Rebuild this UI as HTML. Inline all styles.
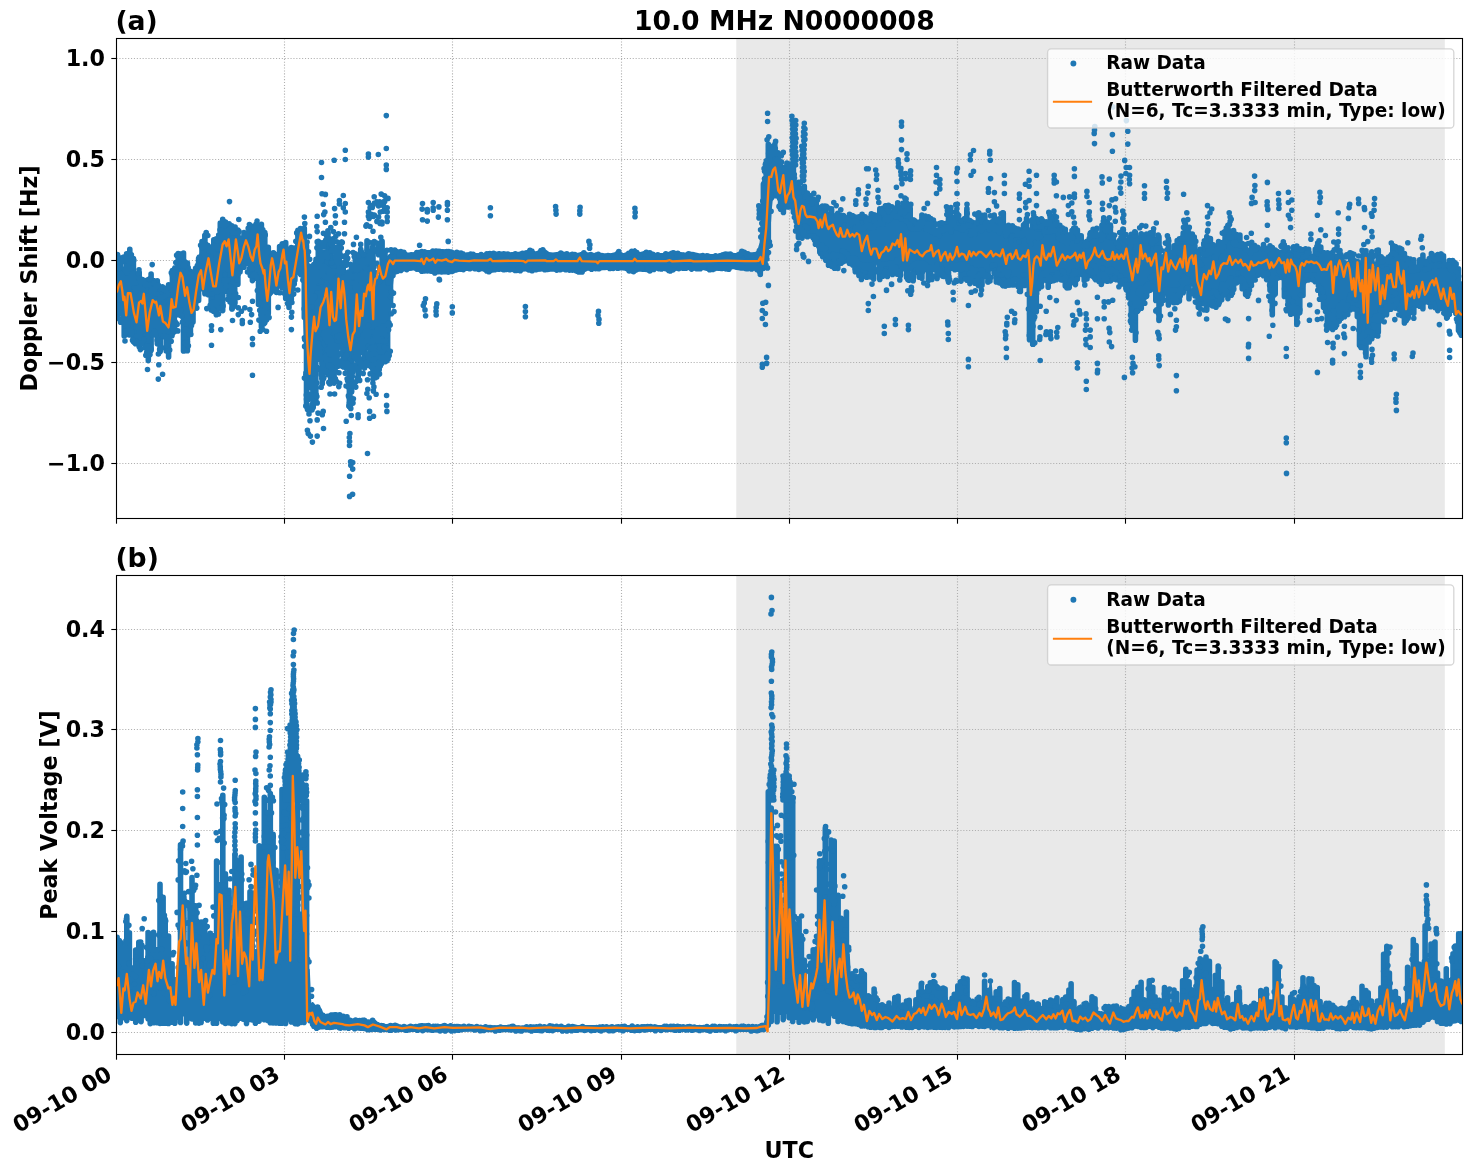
<!DOCTYPE html>
<html lang="en"><head><meta charset="utf-8"><title>10.0 MHz N0000008</title>
<style>
html,body{margin:0;padding:0;background:#fff;}
body{width:1472px;height:1172px;overflow:hidden;font-family:"DejaVu Sans","Liberation Sans",sans-serif;}
svg{display:block;}
svg text{font-family:"DejaVu Sans","Liberation Sans",sans-serif;font-weight:bold;}
.g{stroke:#b0b0b0;stroke-width:1.1;stroke-dasharray:1.1 1.8;fill:none;}
.t{stroke:#000;stroke-width:1.1;fill:none;}
</style></head><body>
<svg width="1472" height="1172" viewBox="0 0 1472 1172" font-family="DejaVu Sans, Liberation Sans, sans-serif" font-weight="bold" fill="#000">
<defs><clipPath id="c1"><rect x="116.5" y="38.5" width="1346.0" height="480.0"/></clipPath><clipPath id="c2"><rect x="116.5" y="575.5" width="1346.0" height="479.0"/></clipPath></defs>
<rect width="1472" height="1172" fill="#fff"/>
<rect x="116.5" y="38.5" width="1346.0" height="480.0" fill="#fff"/>
<rect x="736.3" y="38.5" width="708.5" height="480.0" fill="#d3d3d3" fill-opacity="0.5"/>
<line x1="284.50" y1="38.5" x2="284.50" y2="518.5" class="g"/>
<line x1="452.50" y1="38.5" x2="452.50" y2="518.5" class="g"/>
<line x1="621.50" y1="38.5" x2="621.50" y2="518.5" class="g"/>
<line x1="789.50" y1="38.5" x2="789.50" y2="518.5" class="g"/>
<line x1="957.50" y1="38.5" x2="957.50" y2="518.5" class="g"/>
<line x1="1125.50" y1="38.5" x2="1125.50" y2="518.5" class="g"/>
<line x1="1294.50" y1="38.5" x2="1294.50" y2="518.5" class="g"/>
<line x1="116.5" y1="58.50" x2="1462.5" y2="58.50" class="g"/>
<line x1="116.5" y1="159.50" x2="1462.5" y2="159.50" class="g"/>
<line x1="116.5" y1="260.50" x2="1462.5" y2="260.50" class="g"/>
<line x1="116.5" y1="362.50" x2="1462.5" y2="362.50" class="g"/>
<line x1="116.5" y1="463.50" x2="1462.5" y2="463.50" class="g"/>
<g clip-path="url(#c1)"><path d="M116.8 271.1L118.8 270.7L120.8 270.9L122.8 272.8L124.8 273.6L126.8 272.9L128.8 270.7L130.8 270.7L132.8 272.6L134.8 291.7L136.8 291.2L138.8 290.8L140.8 292.1L142.8 292.8L144.8 297.4L146.8 301L148.8 297.9L150.8 292.8L152.8 292.8L154.8 294.1L156.8 298.7L158.8 301.6L160.8 303L162.8 302.4L164.8 302.9L166.8 303.7L168.8 300.6L170.8 288.9L172.8 283.3L174.8 281.9L176.8 274L178.8 269.6L180.8 267.1L182.8 273.1L184.8 279.3L186.8 282.6L188.8 286.9L190.8 291.3L192.8 285.1L194.8 279L196.8 273.9L198.8 267.1L200.8 253.5L202.8 250.4L204.8 246.7L206.8 246.5L208.8 251.3L210.8 256.1L212.8 258.3L214.8 257.7L216.8 256.9L218.8 247.9L220.8 243.7L222.8 241L224.8 235.8L226.8 238.1L228.8 239.7L230.8 242.4L232.8 247.2L234.8 246.1L236.8 241.9L238.8 243.7L240.8 245.6L242.8 241.6L244.8 237.8L246.8 236L248.8 235.5L250.8 237.8L252.8 239.5L254.8 237.9L256.8 237.1L258.8 242.7L260.8 247.1L262.8 250.8L264.8 256.2L266.8 262.7L268.8 268.8L270.8 262L272.8 261.3L274.8 262.8L276.8 263.3L278.8 258.1L280.8 255.2L282.8 254L284.8 254.9L286.8 257.3L288.8 260.5L290.8 263.9L292.8 259.1L294.8 252.6L296.8 242.2L298.8 238.5L300.8 238.9L302.8 240.9L304.8 269.6L306.8 296.3L308.8 306.5L310.8 310.1L312.8 303.7L314.8 297.1L316.8 292.4L318.8 289.1L320.8 286L322.8 281.7L324.8 277.9L326.8 278.1L328.8 278.8L330.8 282L332.8 284.6L334.8 285.5L336.8 285.8L338.8 285.7L340.8 284.6L342.8 282.5L344.8 286.6L346.8 299.2L348.8 306.7L350.8 314.2L352.8 305.2L354.8 297.8L356.8 295.5L358.8 293.1L360.8 290.8L362.8 288.3L364.8 285L366.8 281.8L368.8 280.3L370.8 281L372.8 282.9L374.8 284.5L376.8 282.1L378.8 281.7L380.8 281.4L382.8 281.2L384.8 281.7L386.8 282.7L388.8 283.3L390.8 270.1L392.8 258.4L394.8 249.7L396.8 250.9L398.8 251.3L400.8 251.3L402.8 251.4L404.8 252.4L406.8 253.4L408.8 253.8L410.8 253.8L412.8 253.8L414.8 253.1L416.8 252.5L418.8 251.9L420.8 251.6L422.8 251.3L424.8 251.3L426.8 251.3L428.8 251.3L430.8 251.3L432.8 250.9L434.8 250.4L436.8 249.9L438.8 249.6L440.8 249.9L442.8 250.1L444.8 250.4L446.8 250.8L448.8 251.3L450.8 251.8L452.8 252.1L454.8 252.1L456.8 252.1L458.8 252.1L460.8 252.9L462.8 253.6L464.8 254.4L466.8 254.5L468.8 254.3L470.8 254L472.8 253.9L474.8 254.1L476.8 254.4L478.8 254.6L480.8 254.5L482.8 254.2L484.8 254L486.8 253.7L488.8 253.4L490.8 253L492.8 253.1L494.8 253.3L496.8 253.5L498.8 253.7L500.8 253.8L502.8 253.8L504.8 253.8L506.8 253.8L508.8 253.8L510.8 253.8L512.8 253.8L514.8 253.8L516.8 253.6L518.8 253.4L520.8 253.2L522.8 253L524.8 252.4L526.8 251.4L528.8 250.4L530.8 249.8L532.8 251.1L534.8 252.4L536.8 252.4L538.8 251.4L540.8 250.4L542.8 249.7L544.8 250.3L546.8 251.7L548.8 253.2L550.8 254.1L552.8 253.8L554.8 253.5L556.8 253.2L558.8 252.9L560.8 252.7L562.8 252.7L564.8 253.2L566.8 253.7L568.8 254.2L570.8 254.2L572.8 254.2L574.8 254.2L576.8 254.2L578.8 253.8L580.8 253.1L582.8 252.6L584.8 253L586.8 253.4L588.8 253.8L590.8 254.2L592.8 254.2L594.8 254.2L596.8 254.2L598.8 254.2L600.8 254.3L602.8 254.5L604.8 254.7L606.8 254.9L608.8 254.9L610.8 254.4L612.8 253.9L614.8 253.4L616.8 252.1L618.8 251.1L620.8 253.1L622.8 254.1L624.8 253.9L626.8 253.6L628.8 253.3L630.8 251.9L632.8 250.5L634.8 249.2L636.8 251.2L638.8 253.2L640.8 253L642.8 252.6L644.8 252.2L646.8 251.8L648.8 252.1L650.8 252.7L652.8 253.3L654.8 253.9L656.8 254.2L658.8 254.2L660.8 254.2L662.8 254.2L664.8 253.8L666.8 253.4L668.8 253L670.8 252.6L672.8 252.5L674.8 252.5L676.8 252.6L678.8 253L680.8 253.4L682.8 253.8L684.8 254.2L686.8 254L688.8 253.8L690.8 253.6L692.8 253.4L694.8 253.6L696.8 254L698.8 254.4L700.8 254.8L702.8 255.1L704.8 255.1L706.8 255.1L708.8 255.1L710.8 255.1L712.8 255.1L714.8 255.1L716.8 255.1L718.8 255.1L720.8 254.7L722.8 254.3L724.8 253.9L726.8 253.5L728.8 253.5L730.8 253.7L732.8 253.9L734.8 254.1L736.8 253.9L738.8 252.8L740.8 251.7L742.8 250.6L744.8 250.7L746.8 252.3L748.8 253.4L750.8 253.4L752.8 253.4L754.8 253.4L756.8 252.9L758.8 249.6L760.8 242.7L762.8 206.8L764.8 190.3L766.8 184.4L768.8 176.6L770.8 167.4L772.8 160.4L774.8 158.2L776.8 162.2L778.8 167L780.8 165.1L782.8 166.6L784.8 169.4L786.8 172.6L788.8 173.6L790.8 175.3L792.8 178.4L794.8 185.1L796.8 192.8L798.8 195.2L800.8 196.3L802.8 196.8L804.8 197.1L806.8 198.6L808.8 201.9L810.8 205.8L812.8 208.8L814.8 209.4L816.8 210.8L818.8 212.5L820.8 214.5L822.8 216.1L824.8 217.5L826.8 219.5L828.8 221.6L830.8 223.2L832.8 223.5L834.8 223.8L836.8 224.3L838.8 225.3L840.8 225.9L842.8 225.2L844.8 224.8L846.8 224.5L848.8 225.5L850.8 227L852.8 228.3L854.8 229.1L856.8 229.9L858.8 229.9L860.8 229.6L862.8 229.3L864.8 228.4L866.8 227.5L868.8 227.4L870.8 228.1L872.8 227.8L874.8 226.8L876.8 226L878.8 226.3L880.8 226.4L882.8 225.1L884.8 223.6L886.8 223.2L888.8 222.9L890.8 222.4L892.8 222L894.8 221.7L896.8 220.5L898.8 219.7L900.8 219.4L902.8 220.2L904.8 220.9L906.8 222.3L908.8 225.1L910.8 228.3L912.8 231.4L914.8 232.1L916.8 231.3L918.8 230.8L920.8 229.5L922.8 228.3L924.8 228.5L926.8 231.1L928.8 233.2L930.8 233.9L932.8 234.6L934.8 235L936.8 235.4L938.8 236.3L940.8 237.4L942.8 235.3L944.8 232.4L946.8 228.9L948.8 228.6L950.8 232.5L952.8 232.6L954.8 230.9L956.8 227.8L958.8 227L960.8 231.3L962.8 231.3L964.8 229L966.8 227.2L968.8 231.8L970.8 234.8L972.8 234.6L974.8 234.4L976.8 233.2L978.8 231.8L980.8 231.8L982.8 231.3L984.8 230.9L986.8 231.4L988.8 232.1L990.8 231.4L992.8 230.5L994.8 230.5L996.8 231.8L998.8 233.1L1000.8 231.2L1002.8 230.9L1004.8 235.4L1006.8 239.4L1008.8 239.9L1010.8 240.3L1012.8 240.6L1014.8 240.9L1016.8 241.9L1018.8 243.3L1020.8 244.5L1022.8 242.6L1024.8 236.6L1026.8 233.8L1028.8 246.9L1030.8 247.6L1032.8 247.6L1034.8 248.3L1036.8 239.5L1038.8 239.7L1040.8 237L1042.8 234.3L1044.8 234.6L1046.8 234.9L1048.8 234.3L1050.8 232.7L1052.8 231.1L1054.8 233.4L1056.8 236.2L1058.8 238.4L1060.8 239.5L1062.8 240.7L1064.8 242.7L1066.8 245L1068.8 244.6L1070.8 241.7L1072.8 240.2L1074.8 241.4L1076.8 242.3L1078.8 243.4L1080.8 244.6L1082.8 246L1084.8 246.3L1086.8 245.6L1088.8 244.3L1090.8 241.8L1092.8 240.4L1094.8 240.7L1096.8 243.8L1098.8 243.7L1100.8 240.9L1102.8 238.2L1104.8 236.9L1106.8 236.2L1108.8 237.3L1110.8 239L1112.8 240.5L1114.8 242.3L1116.8 245.4L1118.8 246L1120.8 243.8L1122.8 241.6L1124.8 245.1L1126.8 249.1L1128.8 252.3L1130.8 259.4L1132.8 261.2L1134.8 260.3L1136.8 253.8L1138.8 249.1L1140.8 248.5L1142.8 249.1L1144.8 250.2L1146.8 249.6L1148.8 248.6L1150.8 246.5L1152.8 243.3L1154.8 242.6L1156.8 251.6L1158.8 258.2L1160.8 259.8L1162.8 260.2L1164.8 257.3L1166.8 254.7L1168.8 256.5L1170.8 258.6L1172.8 259.8L1174.8 257.9L1176.8 255.9L1178.8 252.9L1180.8 249.5L1182.8 244L1184.8 239.6L1186.8 241L1188.8 242.8L1190.8 245.1L1192.8 247.3L1194.8 252.8L1196.8 258.4L1198.8 262.8L1200.8 265.2L1202.8 262.1L1204.8 258.2L1206.8 255L1208.8 254.6L1210.8 255L1212.8 257L1214.8 259.1L1216.8 261.3L1218.8 256.6L1220.8 251.9L1222.8 248.7L1224.8 247.5L1226.8 245.7L1228.8 241L1230.8 237.7L1232.8 243.1L1234.8 245.5L1236.8 245.2L1238.8 245.7L1240.8 246.7L1242.8 249.9L1244.8 253.1L1246.8 255.3L1248.8 255.6L1250.8 254L1252.8 253L1254.8 252L1256.8 251.4L1258.8 251.6L1260.8 251.7L1262.8 251.4L1264.8 251L1266.8 251.4L1268.8 253.5L1270.8 257.8L1272.8 262.1L1274.8 262.6L1276.8 254.9L1278.8 253.1L1280.8 251.5L1282.8 252.3L1284.8 257L1286.8 262.3L1288.8 263L1290.8 262.9L1292.8 263.2L1294.8 265.2L1296.8 265.5L1298.8 265L1300.8 262.3L1302.8 259.2L1304.8 256L1306.8 256.1L1308.8 256L1310.8 256L1312.8 256.5L1314.8 255.6L1316.8 253.8L1318.8 256.3L1320.8 259L1322.8 261.6L1324.8 265.2L1326.8 270.4L1328.8 270L1330.8 269.6L1332.8 269.6L1334.8 268L1336.8 266.1L1338.8 266L1340.8 266L1342.8 267.8L1344.8 267.8L1346.8 267.4L1348.8 265.9L1350.8 265.1L1352.8 265.4L1354.8 265.8L1356.8 268.7L1358.8 271.7L1360.8 277.8L1362.8 277.6L1364.8 277.6L1366.8 275.5L1368.8 274.4L1370.8 274.2L1372.8 273L1374.8 271.9L1376.8 271L1378.8 271.1L1380.8 271.9L1382.8 272.8L1384.8 272.1L1386.8 269.3L1388.8 265.9L1390.8 262.2L1392.8 260.6L1394.8 261.3L1396.8 262.1L1398.8 263.3L1400.8 264.6L1402.8 266.8L1404.8 270.5L1406.8 272L1408.8 272.1L1410.8 272.4L1412.8 272.6L1414.8 273.1L1416.8 273.5L1418.8 271.8L1420.8 266.5L1422.8 267L1424.8 270.3L1426.8 272.9L1428.8 268.5L1430.8 266.1L1432.8 267L1434.8 267.9L1436.8 268L1438.8 268.2L1440.8 268.4L1442.8 269.3L1444.8 271L1446.8 272.9L1448.8 274.6L1450.8 274.7L1452.8 274.7L1454.8 276.1L1456.8 278.2L1458.8 284.9L1460.8 291.3L1460.8 325.6L1458.8 318.3L1456.8 308.5L1454.8 306.2L1452.8 304.4L1450.8 304.9L1448.8 305.4L1446.8 303.5L1444.8 301.6L1442.8 299.8L1440.8 298.5L1438.8 297.5L1436.8 296.5L1434.8 296L1432.8 295.2L1430.8 294.7L1428.8 295.5L1426.8 297.1L1424.8 296.2L1422.8 295.3L1420.8 295.5L1418.8 297.7L1416.8 299.3L1414.8 300.4L1412.8 301.4L1410.8 301.8L1408.8 302.3L1406.8 305.2L1404.8 306.3L1402.8 301.4L1400.8 297.3L1398.8 295.5L1396.8 293.8L1394.8 292.7L1392.8 292L1390.8 292.2L1388.8 297.2L1386.8 301.8L1384.8 304.9L1382.8 307.2L1380.8 309.5L1378.8 311.7L1376.8 312.7L1374.8 314.1L1372.8 315.9L1370.8 317.9L1368.8 319.6L1366.8 324.8L1364.8 332.5L1362.8 332L1360.8 330.9L1358.8 312.6L1356.8 302.8L1354.8 295.7L1352.8 295.5L1350.8 295.4L1348.8 297.3L1346.8 301L1344.8 301.8L1342.8 301.8L1340.8 302.3L1338.8 307.4L1336.8 308.2L1334.8 309.4L1332.8 309.6L1330.8 309.1L1328.8 309.7L1326.8 310.4L1324.8 297.7L1322.8 291.3L1320.8 287.8L1318.8 283.8L1316.8 277.2L1314.8 274.2L1312.8 273.7L1310.8 272.6L1308.8 273.2L1306.8 273.9L1304.8 274.6L1302.8 284.1L1300.8 293.5L1298.8 302.2L1296.8 304.9L1294.8 305.5L1292.8 300.6L1290.8 298.5L1288.8 297.6L1286.8 296.8L1284.8 283.9L1282.8 272L1280.8 267.9L1278.8 270.6L1276.8 273.8L1274.8 296.6L1272.8 297.6L1270.8 287.5L1268.8 276.4L1266.8 271.2L1264.8 269.1L1262.8 268.3L1260.8 267.8L1258.8 268.6L1256.8 269.4L1254.8 272L1252.8 275.9L1250.8 280L1248.8 284.4L1246.8 283.5L1244.8 282.2L1242.8 276.4L1240.8 270.7L1238.8 270.7L1236.8 271.8L1234.8 274.9L1232.8 276.9L1230.8 276.2L1228.8 278.8L1226.8 282L1224.8 283.6L1222.8 283.4L1220.8 285.4L1218.8 289L1216.8 292.6L1214.8 291.4L1212.8 290.1L1210.8 288.9L1208.8 291.2L1206.8 295.8L1204.8 294.6L1202.8 293.7L1200.8 296.1L1198.8 294.7L1196.8 290.5L1194.8 284.5L1192.8 278.4L1190.8 279.3L1188.8 280.2L1186.8 277.8L1184.8 272.2L1182.8 276.8L1180.8 283.6L1178.8 285.8L1176.8 287.9L1174.8 288.7L1172.8 289.4L1170.8 290L1168.8 290.1L1166.8 287.5L1164.8 287.7L1162.8 290.8L1160.8 299.7L1158.8 305.1L1156.8 296.4L1154.8 277L1152.8 273.6L1150.8 277.3L1148.8 280.6L1146.8 282.4L1144.8 283.9L1142.8 285.4L1140.8 288.4L1138.8 290.3L1136.8 300.7L1134.8 316.1L1132.8 315.5L1130.8 307.2L1128.8 284.1L1126.8 278.4L1124.8 274.4L1122.8 270.8L1120.8 272.3L1118.8 273.7L1116.8 272.3L1114.8 268.3L1112.8 268L1110.8 268.5L1108.8 268.5L1106.8 267.5L1104.8 267.1L1102.8 268.3L1100.8 270.5L1098.8 272.3L1096.8 269.8L1094.8 266.7L1092.8 265.3L1090.8 264.5L1088.8 266.8L1086.8 269L1084.8 269.9L1082.8 270L1080.8 269.7L1078.8 269.9L1076.8 270.4L1074.8 270.7L1072.8 270.3L1070.8 270.8L1068.8 274.6L1066.8 276.4L1064.8 272.5L1062.8 269.3L1060.8 268.4L1058.8 267.6L1056.8 266.9L1054.8 266.4L1052.8 266L1050.8 268.1L1048.8 270.2L1046.8 270.7L1044.8 270L1042.8 269.3L1040.8 271L1038.8 272.9L1036.8 278.6L1034.8 311.3L1032.8 311L1030.8 309.8L1028.8 306.7L1026.8 268.7L1024.8 269.9L1022.8 274.2L1020.8 277L1018.8 275L1016.8 272.3L1014.8 270.7L1012.8 271L1010.8 271.3L1008.8 271.6L1006.8 271.8L1004.8 270.5L1002.8 268.1L1000.8 267.3L998.8 267.1L996.8 265.5L994.8 264L992.8 264L990.8 265.2L988.8 266.3L986.8 265.3L984.8 265.3L982.8 266.9L980.8 268.3L978.8 268.3L976.8 268.8L974.8 269.1L972.8 268.6L970.8 268L968.8 266.3L966.8 264L964.8 264L962.8 264.4L960.8 264.9L958.8 263.7L956.8 264.5L954.8 266L952.8 266.9L950.8 266.5L948.8 264.6L946.8 264.3L944.8 265.2L942.8 265.8L940.8 265.9L938.8 264.9L936.8 264.6L934.8 265.3L932.8 266L930.8 265.8L928.8 265.6L926.8 264.6L924.8 263L922.8 262.3L920.8 262.1L918.8 262.5L916.8 262.7L914.8 263.7L912.8 265.5L910.8 265.7L908.8 263.3L906.8 261L904.8 259.9L902.8 259L900.8 257.9L898.8 256.9L896.8 256.1L894.8 256.7L892.8 257L890.8 257.7L888.8 258.7L886.8 259.7L884.8 260.6L882.8 262L880.8 262.9L878.8 262L876.8 261L874.8 261.8L872.8 263.3L870.8 264L868.8 262.2L866.8 261.2L864.8 261.4L862.8 261.5L860.8 261.3L858.8 260.7L856.8 260.1L854.8 257.9L852.8 255.5L850.8 253.3L848.8 251.1L846.8 249.5L844.8 250L842.8 250.6L840.8 252.2L838.8 253.8L836.8 255.2L834.8 255.1L832.8 254.3L830.8 253.5L828.8 251.2L826.8 248.3L824.8 245.6L822.8 243.9L820.8 241.6L818.8 238.3L816.8 235.2L814.8 232.1L812.8 231.5L810.8 230L808.8 228L806.8 225.9L804.8 224.5L802.8 224.7L800.8 224.9L798.8 225.4L796.8 225.7L794.8 215.1L792.8 202.2L790.8 197.9L788.8 197L786.8 197.6L784.8 197.9L782.8 198.8L780.8 197.4L778.8 196.6L776.8 191.5L774.8 187.5L772.8 188.3L770.8 207.5L768.8 238.7L766.8 242.4L764.8 244.8L762.8 251.4L760.8 265.2L758.8 273.5L756.8 269.7L754.8 269.4L752.8 269.1L750.8 268.9L748.8 268.9L746.8 269.1L744.8 269.3L742.8 269.5L740.8 269.5L738.8 269.1L736.8 268.7L734.8 268.3L732.8 267.9L730.8 268.6L728.8 269.4L726.8 270.1L724.8 270.2L722.8 269.7L720.8 269.2L718.8 268.8L716.8 269.2L714.8 269.6L712.8 270L710.8 270.4L708.8 270.1L706.8 269.7L704.8 269.3L702.8 268.9L700.8 268.9L698.8 269.1L696.8 269.3L694.8 269.5L692.8 269.5L690.8 269.3L688.8 269.1L686.8 268.9L684.8 268.8L682.8 269L680.8 269.2L678.8 269.4L676.8 269.6L674.8 270L672.8 270.5L670.8 271L668.8 271.1L666.8 270.6L664.8 270.1L662.8 269.6L660.8 269.1L658.8 268.9L656.8 269.4L654.8 269.9L652.8 270.4L650.8 270.9L648.8 271.3L646.8 271.1L644.8 270.9L642.8 270.8L640.8 270.6L638.8 270.5L636.8 271.4L634.8 272.2L632.8 272.9L630.8 272L628.8 271.2L626.8 270.3L624.8 269.5L622.8 269.3L620.8 269.1L618.8 268.9L616.8 268.7L614.8 268.7L612.8 268.7L610.8 268.7L608.8 268.7L606.8 268.8L604.8 269L602.8 269.1L600.8 269.3L598.8 269.4L596.8 269.6L594.8 269.6L592.8 269.6L590.8 269.6L588.8 269.6L586.8 269.6L584.8 270.6L582.8 272.2L580.8 272.7L578.8 272L576.8 271.3L574.8 270.7L572.8 270.5L570.8 270.5L568.8 270.5L566.8 270.5L564.8 270.5L562.8 270.5L560.8 270.5L558.8 270.5L556.8 270.5L554.8 270.5L552.8 270.5L550.8 270.5L548.8 270.5L546.8 270.3L544.8 270.1L542.8 270.2L540.8 270.4L538.8 270.5L536.8 270.7L534.8 270.8L532.8 270.8L530.8 270.6L528.8 270.4L526.8 270.2L524.8 270.2L522.8 270.6L520.8 271L518.8 271.4L516.8 271.7L514.8 271.3L512.8 270.9L510.8 270.5L508.8 270.1L506.8 270L504.8 270L502.8 270L500.8 270L498.8 270L496.8 270L494.8 270.6L492.8 271.4L490.8 272.1L488.8 272.3L486.8 271.6L484.8 270.8L482.8 270.1L480.8 269.9L478.8 269.7L476.8 269.5L474.8 269.3L472.8 269.2L470.8 269.2L468.8 269.2L466.8 269.2L464.8 269.4L462.8 269.9L460.8 270.4L458.8 270.9L456.8 271.1L454.8 271.4L452.8 271.6L450.8 271.9L448.8 272.1L446.8 272.4L444.8 272.6L442.8 272.8L440.8 273L438.8 273.2L436.8 273.4L434.8 272.9L432.8 272.3L430.8 271.7L428.8 271.1L426.8 271.1L424.8 271.3L422.8 271.6L420.8 271.6L418.8 270.8L416.8 270.1L414.8 269.3L412.8 269.3L410.8 269.5L408.8 269.7L406.8 269.8L404.8 270L402.8 270.6L400.8 271.3L398.8 272.1L396.8 272.8L394.8 273.7L392.8 275.5L390.8 294.8L388.8 322.4L386.8 324L384.8 323.9L382.8 324.6L380.8 326.2L378.8 327.9L376.8 329.7L374.8 334.9L372.8 332L370.8 328L368.8 325.6L366.8 327.1L364.8 330.2L362.8 333.9L360.8 337L358.8 339.6L356.8 343.6L354.8 348.3L352.8 362.5L350.8 371L348.8 359.3L346.8 350.7L344.8 336L342.8 329L340.8 332.6L338.8 334.8L336.8 336L334.8 336.6L332.8 336.6L330.8 334.7L328.8 331.1L326.8 330.5L324.8 330.8L322.8 334.3L320.8 339L318.8 343L316.8 347.5L314.8 353.8L312.8 361.7L310.8 369.6L308.8 370.5L306.8 363.1L304.8 335.4L302.8 269.4L300.8 263.5L298.8 260.3L296.8 263.5L294.8 279.2L292.8 288.4L290.8 295.1L288.8 292.5L286.8 288.5L284.8 281.2L282.8 278.1L280.8 277.9L278.8 281.2L276.8 283.7L274.8 283L272.8 283.2L270.8 285.3L268.8 302.3L266.8 305.2L264.8 302.6L262.8 300L260.8 300.6L258.8 294.7L256.8 273.1L254.8 269.3L252.8 267.4L250.8 264.8L248.8 261.9L246.8 259.9L244.8 258.4L242.8 262.4L240.8 266.4L238.8 269.9L236.8 274.4L234.8 285.3L232.8 288L230.8 286.4L228.8 280.4L226.8 275.9L224.8 272.5L222.8 287.2L220.8 290.5L218.8 292.5L216.8 295.6L214.8 295.7L212.8 294.8L210.8 292.4L208.8 284.6L206.8 278.3L204.8 280.3L202.8 282.3L200.8 282.8L198.8 290.1L196.8 295.7L194.8 299.4L192.8 311.9L190.8 326.9L188.8 328.8L186.8 328.5L184.8 327.3L182.8 315L180.8 302L178.8 306.4L176.8 311.8L174.8 317.3L172.8 318.8L170.8 325.1L168.8 338.3L166.8 336.4L164.8 335.3L162.8 335.3L160.8 338.9L158.8 339.2L156.8 335.1L154.8 327.1L152.8 328.1L150.8 332L148.8 338.9L146.8 340.5L144.8 334.1L142.8 325.7L140.8 328L138.8 328.2L136.8 327.4L134.8 326.4L132.8 318.2L130.8 315L128.8 311.8L126.8 315L124.8 316.4L122.8 313.6L120.8 307L118.8 304.7L116.8 304.3Z" fill="#1f77b4" stroke="#1f77b4" stroke-width="2.4" stroke-linejoin="round"/>
<path d="M117.3 254.6V315.9M120.7 258.1V310.1M124.2 269.6V335.9M126.6 253.9V334.6M129.8 249.2V334.9M133.4 258.5V341.4M135.5 274.1V343.8M139.2 272.8V346.7M142.4 285.5V341.2M145 280.7V347.3M148.3 279.5V360.6M151.1 274V349.7M153.5 280.6V330.9M157.3 280.7V343.8M160.2 292V351.6M162.4 286.7V336.4M166.2 288.1V351M168.6 284.8V356.9M172.4 270.5V333.5M174.3 269.2V331.8M178.2 253.6V314.7M181.4 253.7V316M183.5 253V350.9M187.4 263V350.7M190.4 271.4V334.3M193 284.1V322.1M195.6 268.2V305.4M198.6 258.5V300.5M202 241.6V288M204.9 235.3V293.7M207.7 245.3V291.3M211.2 248.2V309.9M213.8 239.8V308.8M216.3 238.8V314.8M220.3 223.1V303.1M222.7 219.4V310.6M225.5 222V291.3M229.1 223.9V295.7M232 228.7V308.9M234.7 229.6V304.6M237.9 230.1V284.2M240.2 238V269.8M244 232.5V267.3M246.4 234.5V263.2M250.3 229.4V275.6M252.4 226.3V280.6M256 224.3V278.3M258.5 228.6V304.5M261.4 224.3V326.9M264.8 232.6V322.7M268.3 247.3V313.6M271 259.2V292.3M273.8 253.4V290.6M276.5 257.9V292.5M279.6 246.5V282.6M282.3 243.7V287.9M285.7 242.6V298.4M289 258.4V307.5M291.3 247.5V300M294.9 248V280.3M297.9 230.4V270M300.4 228.5V273.5M304.3 228.3V317.5M306.5 245.3V406M309.3 266.3V381.6M313.2 269.7V407.6M315.8 262.1V399.8M318.3 241.2V355.9M322.3 271.3V383.8M324.3 252.2V340.6M327.9 230.9V374.8M330.7 239.6V380M334.1 257.3V383.1M337 254.3V363.3M339.4 245V344.5M343.2 265.9V366.7M346.1 275.9V367.9M349.4 289.3V406.6M351.5 265.8V391.9M355.3 253.7V353M358.2 255.3V379.6M360.7 249.3V352M364.2 255.1V359.9M367 240.7V347.9M370.2 254.4V365M373 242.5V374.3M375.5 278.3V375.3M379.2 277.9V369.8M382.1 241.4V355.9M385 251.7V361.8M387.6 265.9V359.1M390.5 256.5V304.1M393.7 254.6V271.5M760.3 252.1V274.5M763.4 184.2V268.2M766.3 160.9V253.2M768.3 144.4V246.5M771.4 149.3V197.9M774.8 144.3V195.7M778 152.7V195.4M780.6 161.9V209.2M783.4 167.7V212.4M786.9 163.1V204.1M789.8 164.1V206.7M793.4 167.9V212.3M796.1 186.5V221.4M798.4 182.2V237.4M802.1 188.6V238.1M804.3 186.2V226.4M807.4 193.3V236.8M810.4 195.8V232.8M813.3 199V238M816.3 200.1V240.1M819.8 207.5V252.3M822.7 210.3V256.7M825.8 209.9V260.3M828.5 220.9V265.3M831.6 208.9V263.7M835.1 217.2V258M837.8 213.3V268.5M841.1 215.4V263.3M843.4 215.5V259.4M846.3 222.5V260.8M849.5 214.3V263.5M852.7 215.7V264.9M855.3 217V271.8M858.9 216.8V275.4M862.1 214.3V276.9M865.2 216.9V274.9M868.1 219.5V276.6M871.2 215.6V273.9M873.7 214.7V279.1M876.7 222.4V261.4M879.8 208.9V279.4M882.7 208.2V273.9M886.3 205.7V268.9M888.5 205.3V263.6M892.4 212.1V274.4M894.9 211.9V273.8M897.7 202.9V274.2M900.3 208.6V275.7M904.4 205V260.5M906.6 203.1V277.5M910.2 208.2V268.9M913.2 220V280.7M915.6 221.5V272.2M919.2 228V277.2M921.9 215.1V278.3M925.3 216V269M928.4 216.7V280.6M930.6 218.6V278.1M933.4 220.1V268.6M937.1 234.4V278.4M940 223.4V274.7M942.5 234.3V276.1M945.4 223.5V272.9M948.5 210.9V282.1M952.1 220.2V268.3M954.8 229.3V269.7M958.2 218.9V268.7M961 223.3V281.1M964 219V275.1M966.8 210.5V278.8M969.9 220.6V283.6M972.6 222.2V274.1M975.6 232.9V280M978.4 214.1V285.3M982 215.3V285.2M984.8 215.1V276.1M988 222.7V282M990.8 228.4V268.8M994.2 215V269.5M996.3 229.4V281.9M999.2 218.9V282.8M1003.3 213V285.7M1005.3 235.8V286M1008.5 225.4V285M1012.4 225.7V284.6M1014.4 227.7V275.3M1018.2 229V286.8M1020.4 231.6V291.4M1023.5 225.1V276.3M1026.5 218.6V285M1029.5 230.2V339.7M1032.7 224.5V344.2M1036.3 218.6V311.7M1038.6 225.5V288.8M1041.4 218.8V283.3M1044.3 224.3V277M1048.2 228V287.2M1050.2 216.9V277.2M1054.2 215.5V274.2M1056.3 222.7V279.7M1059.9 225.2V277.5M1062.3 227.8V280M1065.3 229.3V285.9M1069.2 235.1V287.6M1072.4 230.9V282.2M1075.4 228.1V284.6M1077.4 230.1V279M1081.2 235.7V272.8M1084.2 245.3V280.6M1087 241.3V279M1090.4 233V275.4M1093.1 229.3V276.5M1095.8 230.3V279.7M1099 238.2V281.4M1101.9 225.2V282.5M1105.3 222.6V272.9M1107.2 221.5V281.3M1110.4 225V281M1113.3 238.6V278.9M1116.3 243.4V279.8M1119.3 240.5V280.4M1122.9 229V275.3M1126.3 240.4V289.7M1128.6 241V297.7M1131.3 234.2V323M1135.4 232.6V340.2M1138.2 237.7V310.1M1141.3 233.8V308.3M1144 237.4V298.6M1146.5 234.1V296.2M1150.4 232.8V290.1M1153.1 231.9V287.8M1155.8 239.6V300.4M1159 236.8V320.5M1161.5 259.1V300.2M1165.3 254.1V292.2M1168.4 238.9V304.9M1170.5 252.9V301.8M1174.1 245.9V302.8M1177.2 240.5V302.5M1179.4 238.7V300.9M1183.2 233V292.7M1185.4 224.1V285.3M1189 239.6V298.7M1192.3 234.1V283.6M1194.9 245.8V293.7M1198.3 252.6V307.3M1200.8 259.9V303.9M1204 243.7V303.2M1206.8 236.6V310.1M1210.4 238.5V304.4M1212.9 252.9V293.1M1216 246.3V307.3M1218.6 241.6V304.6M1221.7 245.8V299.7M1225.1 233.8V289.9M1227.9 225.3V298.6M1231.3 231.3V295.3M1233.6 230.6V288.3M1236.5 234.6V283M1239.9 235V281.3M1242.2 243.5V288.7M1245.6 248.3V294.4M1249.2 255.4V287.2M1251.7 242.3V281.7M1254.4 245.2V277.8M1258.1 252.7V275.1M1261.2 249.1V274M1263.5 244.5V275.8M1267.1 248.9V277.7M1270 245.7V290.2M1272.3 247.5V314.8M1275.2 250V294.1M1278.7 253.8V277.6M1282.1 251.9V277.4M1284.4 246.1V296.4M1288.1 251.6V301.4M1290.7 256.3V314.3M1293.6 246.9V313.4M1296.8 246.1V324.5M1299.8 253.1V312.6M1303 249.8V295.5M1305.6 248.7V280.4M1308.6 249.2V280M1311.3 256.3V278.6M1315.3 249.3V281.7M1317.7 243.1V281.6M1320.8 247.1V294.5M1323.5 252.5V307.3M1327.3 258V327.9M1330.1 267.6V326.5M1332.7 252.2V329.4M1335.4 256.3V327.2M1339.3 250.7V321.1M1341.4 258.9V318.3M1344.5 264.7V316.7M1347.8 263.6V314.4M1350.5 253.3V309.8M1354.3 260.7V308.9M1357.3 262.9V316.4M1359.5 264.8V345.3M1363.3 252.9V346.5M1366 250.9V356.7M1369.2 258.3V341.9M1371.8 251.7V338.7M1375.3 269.9V335.1M1378.3 250V332.3M1381.4 257.7V316.8M1384.1 268V315M1386.5 264.3V314.8M1389.8 259.5V307.1M1392.8 245.5V304.4M1395.4 246.6V308.1M1398.7 248V304.6M1401.7 249.3V315.6M1404.4 253.5V322.9M1408.2 260.1V318.1M1410.3 259V311.6M1413.8 259.7V313.2M1416.9 268.5V305.2M1419.7 259.7V306.3M1422.9 255V308.7M1425.3 261.2V299.7M1429.3 258.6V302.7M1431.4 253.5V303.3M1434.9 256.3V307.6M1437.8 254.6V310.6M1441 254.1V304.5M1443.5 255.9V306.9M1446.7 266.9V318.1M1449.3 260.5V314.1M1452.7 260.6V306.7M1455.8 265.5V313.4M1458.5 268.7V330.6M1461.3 291V335.3" fill="none" stroke="#1f77b4" stroke-width="5.6" stroke-linecap="round"/>
<path d="M229.5 201.6h0M152.2 264.6h0M139 269.7h0M147.5 369.5h0M162.6 374.3h0M158.3 379.1h0M211.5 325.7h0M211.5 330.3h0M211.5 345.3h0M252.5 338.5h0M252.5 344.4h0M252.5 375.2h0M291.4 317.1h0M291.4 329.6h0M278.1 307.4h0M232.5 320.5h0M242.3 320.5h0M242.3 323.4h0M250.3 322.3h0M260.2 331.3h0M266.5 331.3h0M238.3 297.5h0M252.5 301.3h0M227.7 299.2h0M238.3 307.7h0M244.8 307.7h0M249.9 309.5h0M241.4 311.2h0M238.3 314.6h0M251.6 314.6h0M140.4 349.6h0M125 341h0M386.3 115.6h0M386.3 148.5h0M378.3 154.5h0M368.4 154h0M368.4 157.1h0M345.3 150.2h0M345.3 159.5h0M334.2 160.3h0M321.5 162.5h0M321.5 177.5h0M386.3 165.1h0M386.3 169.4h0M322 193.8h0M325.4 194.4h0M323.2 204.3h0M324.9 212h0M323.7 214.6h0M325.4 222.3h0M317.2 216.3h0M304.4 217.1h0M316.8 226.5h0M317.2 231.6h0M309.5 236.4h0M343.3 195.5h0M339.4 200.6h0M345.3 203.5h0M339.4 204h0M334.6 208.6h0M343.3 207.7h0M345.3 212h0M335.4 215.8h0M344.5 222.3h0M335.4 223.1h0M333.4 231.6h0M338.5 233.7h0M344.5 233.7h0M356.4 237.3h0M353.5 244.4h0M360.7 244.4h0M381.2 194.1h0M384.6 195.8h0M388 198.4h0M368.4 202.6h0M376.9 201.8h0M383.7 202.6h0M370.1 207.7h0M378.6 206h0M387.2 207.7h0M368.4 212h0M380.3 212h0M387.2 212h0M368.4 216.3h0M378.6 217.1h0M387.2 217.1h0M366.7 224.8h0M370.1 226.5h0M376.9 221.4h0M382 224h0M387.2 221.4h0M373 231.3h0M422.5 203.5h0M433.2 202.6h0M422.1 209.1h0M427.3 209.5h0M433.2 207.7h0M438.9 206.9h0M427.3 212h0M433.2 210.3h0M438.3 217.1h0M422.5 219.7h0M427.3 221.1h0M447.4 202.6h0M447.4 204.7h0M447.4 210.3h0M447.4 219.7h0M448.2 241.4h0M419.6 245.3h0M490.4 207.7h0M490.4 215.8h0M439.2 279.4h0M310.4 436.1h0M312.4 442.1h0M317.2 436.1h0M323.5 428.5h0M317.2 419.9h0M323.2 411.4h0M318 413.1h0M317.2 402.9h0M322.3 414.8h0M330 394h0M334.6 394h0M339.7 383.2h0M331.7 382.4h0M352.7 462.6h0M352.7 469.1h0M349.6 476.2h0M367.5 453.5h0M346.2 421.3h0M358.1 414.8h0M358.1 417.4h0M367.5 379.8h0M369.2 397.7h0M376.1 394.3h0M369.6 411.4h0M373.5 416.2h0M369.6 418.2h0M379.5 373.9h0M370.1 373.9h0M386.6 395.5h0M393.5 293.1h0M425.5 298.8h0M452.3 306.8h0M452.3 312.9h0M525.4 306.5h0M525.4 311.6h0M525.4 316.7h0M439.5 280h0M307.4 430.2h0M308.2 433.6h0M349.9 433.6h0M349.3 437.6h0M349.6 441.5h0M349.5 445.5h0M350.6 461.7h0M350.8 465.2h0M373 379h0M372.9 383h0M373.9 386.9h0M373.4 390.9h0M367.8 389.2h0M366.9 393.5h0M386.6 405.4h0M386.9 411.4h0M393.1 305.6h0M394 311.6h0M424.3 303h0M423.3 305.6h0M425 309.9h0M425.6 315.8h0M436.8 303.9h0M436.2 307.6h0M436 311.3h0M436.2 315h0M555.6 206.5h0M555.9 210.3h0M556.1 214.1h0M580.1 207.3h0M579.8 210.7h0M579.8 214.1h0M634.9 208.2h0M635.2 212.4h0M635 216.7h0M588.9 241.4h0M589.9 244.8h0M589.6 248.3h0M598.5 311.4h0M598 315.4h0M599 319.4h0M598.8 323.3h0M767.6 113.3h0M767.6 121.5h0M768.8 136.8h0M767.1 139.7h0M775.6 141.4h0M818.3 197.4h0M836.2 205.6h0M868.3 168.7h0M866.6 168.7h0M868.3 186.3h0M858.4 189.7h0M858.4 194h0M867.7 193.1h0M878 190.2h0M878 197.4h0M855.8 200.8h0M855.8 204.2h0M866 199.1h0M866 204.2h0M878.8 202.5h0M901.5 122h0M901.5 126.1h0M901.5 139.9h0M901.5 149.6h0M907 153.9h0M907 159.5h0M896.4 187.2h0M901 195.7h0M906.1 199.1h0M936.5 167.5h0M936.5 175.2h0M936 182h0M936.5 193.5h0M927.5 203.4h0M924.1 208.5h0M957 181.5h0M957 193.5h0M973.5 150.5h0M971 175.2h0M973.5 171.3h0M990.3 160.2h0M990.6 178.6h0M988.4 188.5h0M988.4 192.3h0M994.4 192.6h0M994.4 201.7h0M996.6 205.9h0M988.4 210.5h0M978.7 212.7h0M768.4 285.3h0M760.6 229.8h0M761.9 235.8h0M808.5 261.4h0M891.6 284.1h0M886.5 290.1h0M861.4 279.3h0M872 284.1h0M791.9 116.3h0M792.1 120.6h0M792.6 124.9h0M792.6 129.1h0M792.8 133.4h0M792.2 137.7h0M792.7 141.9h0M792.5 146.2h0M792.1 150.5h0M792.4 154.7h0M792.8 159h0M792.7 163.3h0M795.7 120.6h0M795.8 125h0M795.2 129.5h0M795.4 133.9h0M796.1 138.3h0M795.6 142.8h0M795.3 147.2h0M795.8 151.7h0M796 156.1h0M795.9 160.5h0M795.6 165h0M794 129.1h0M794 133.4h0M794.4 137.7h0M794.1 141.9h0M793.9 146.2h0M794 150.5h0M793.5 154.7h0M793.5 159h0M794.3 163.3h0M804.3 123.2h0M803.9 127.6h0M803.6 132h0M803.4 136.3h0M803.8 140.7h0M804.3 145.1h0M804.1 149.5h0M803.8 153.9h0M804.2 158.3h0M803.4 162.7h0M803.8 167.1h0M804.3 171.5h0M803.8 175.9h0M803.7 180.3h0M801.8 146.2h0M802.1 150.5h0M802.6 154.7h0M801.5 159h0M802.4 163.3h0M802.4 167.5h0M802.5 171.8h0M802.3 176.1h0M802.4 180.3h0M805 129.1h0M805 134.2h0M804.9 139.4h0M875.7 170.1h0M876.7 174.8h0M876.4 179.5h0M898.1 159.8h0M898.5 163.3h0M898.4 166.7h0M900.9 168.4h0M900.8 171.8h0M901.1 175.2h0M910.6 170.9h0M910.5 175.2h0M910.4 179.5h0M905.6 173.5h0M905.8 178.6h0M901.5 179.5h0M902 183.7h0M939.9 179.5h0M939.8 184.2h0M939.8 188.9h0M957.4 168.4h0M956.7 172.6h0M970.5 154.7h0M970.3 159.8h0M989.8 151.3h0M989.7 153.9h0M946.5 206.8h0M947.4 210.6h0M946.8 214.5h0M950.9 207.6h0M951.5 211.9h0M951.2 216.2h0M950.8 220.4h0M951 224.7h0M957.4 204.2h0M956.9 208.8h0M957.1 213.3h0M957.6 217.9h0M967 204.2h0M966.9 208.5h0M967 212.7h0M758.8 205.9h0M759.2 209.9h0M759.3 213.9h0M759 217.9h0M802.9 254.6h0M803.9 257.1h0M796.9 245.2h0M796.6 249.4h0M768.4 285.4h0M762.8 303.3h0M765.7 302.3h0M762.3 310.5h0M765.4 313.5h0M762.3 318.5h0M765.4 324.5h0M766.6 357.4h0M766.6 363.4h0M762.3 364.2h0M762.3 367.3h0M808.5 261.5h0M803.4 256.7h0M868.3 303.6h0M868.3 310.5h0M873.4 296.5h0M886.5 290.5h0M891.6 284.5h0M861.4 279.4h0M884.3 326.3h0M884.3 333.5h0M895.4 319.5h0M895.4 324.5h0M908.4 325.3h0M908.4 329.6h0M927.5 285.4h0M953.1 292.2h0M953.4 299.7h0M948.3 333.5h0M948.3 339.5h0M968.4 305.5h0M968.4 359.4h0M968.4 366.8h0M971.3 292.2h0M975.3 290.8h0M911.4 287.4h0M911.6 290.8h0M910.7 294.2h0M947.7 322.1h0M947.9 325h0M981.5 290h0M980.8 294.6h0M1004.4 175.2h0M1004.4 183.4h0M1004.4 193.5h0M1002.7 212.7h0M1029.1 171.3h0M1036.5 175.2h0M1029.1 180.3h0M1025.4 184.2h0M1029.1 186.3h0M1019.4 194h0M1019.4 198.2h0M1036.5 193.5h0M1025.7 202.5h0M1029.1 200.5h0M1036.5 205.6h0M1019.4 210.5h0M1025.7 207.6h0M1033.4 212.7h0M1019.4 219.6h0M1027.4 214.5h0M1054.2 175.2h0M1054.2 179.5h0M1056.4 182h0M1054.2 182.9h0M1056.4 195.7h0M1063.3 197.4h0M1053.9 211h0M1049.6 214.5h0M1056.4 217h0M1074.4 168.7h0M1074.4 176.4h0M1074.4 194h0M1069.6 196.9h0M1074.4 197.4h0M1071.8 203h0M1068.4 205.6h0M1071.8 211.9h0M1068.4 214.5h0M1073.5 217h0M1074.4 223h0M1089.2 202.5h0M1094.5 143.6h0M1112.7 106.9h0M1112.4 134.6h0M1112.4 151.3h0M1126.4 120.6h0M1127.8 131.3h0M1127.8 144.1h0M1124.7 160.4h0M1129.5 167.5h0M1109.3 179.1h0M1102.5 203.4h0M1102.5 209.3h0M1111.9 199.9h0M1115.6 198.8h0M1109.3 205.6h0M1109.3 217.9h0M1115.3 221.3h0M1144.5 185.8h0M1144.5 193.5h0M1144.5 198.2h0M1166.5 181.2h0M1166.5 187.7h0M1183.6 194.3h0M1207.5 205.6h0M1211.7 209h0M1210 212.7h0M1207.5 217h0M1208.3 223.8h0M1207.5 231.5h0M1187.8 219.6h0M1184.4 222.1h0M1156.3 223h0M1141.8 225.5h0M1167.4 235.8h0M1086.9 191.4h0M1086.9 196.5h0M1089.3 211.9h0M1088.9 215.7h0M1089.8 219.6h0M1094.8 126.6h0M1094.5 130h0M1094.2 133.4h0M1126.2 167.5h0M1125.9 173.5h0M1129.6 175.2h0M1129.3 179.5h0M1129.6 183.7h0M1102 176.9h0M1102.3 182.9h0M1121 176.1h0M1120.9 182h0M1120.2 188h0M1120.9 193.1h0M1115.1 207.6h0M1115.8 211.9h0M1103.7 217.9h0M1103.3 221.3h0M1103.1 224.7h0M1122.7 211h0M1123.8 214.7h0M1122.8 218.4h0M1123.7 222.1h0M1167.6 193.1h0M1167.1 198.2h0M1229.2 212.7h0M1230.1 217h0M1230.2 221.3h0M1011.6 311.3h0M1014.6 313.5h0M1007.3 317.3h0M1006.4 348.3h0M1006.4 357.4h0M1040.2 306.2h0M1046.2 311.3h0M1056.4 300.6h0M1040.2 327.5h0M1040.2 360.5h0M1077.4 302.4h0M1072.6 315.2h0M1076.1 319.8h0M1086.3 325h0M1085.4 330.1h0M1090.2 330.1h0M1090.2 336.9h0M1090.2 347.5h0M1077.4 362.8h0M1077.4 368h0M1086.3 381.3h0M1086.3 389.5h0M1097.4 297.2h0M1104.2 301.9h0M1108.5 301.9h0M1112.7 300.2h0M1104.2 307h0M1097.4 318.7h0M1104.2 318.7h0M1109.3 342h0M1111.6 346.6h0M1097.4 363.4h0M1124.4 377.4h0M1132.4 357.4h0M1134.9 366.8h0M1159.2 338.6h0M1159.2 365.6h0M1170.4 314.4h0M1176.4 320.2h0M1176.4 375.6h0M1176.4 390.7h0M1225.4 319h0M1227.9 320.4h0M1206.6 319h0M1199.3 313.9h0M1014.9 319.8h0M1014.6 322.4h0M1006.8 323.3h0M1006.8 325h0M1005.2 331.8h0M1005.8 335.2h0M1005.5 338.6h0M1039.9 336.9h0M1039.7 339.5h0M1046.4 331.8h0M1045.9 334.4h0M1050.5 331.8h0M1050.3 335.2h0M1050.9 338.6h0M1057.8 327.5h0M1056.7 332.2h0M1056.9 336.9h0M1079.3 310.5h0M1080.1 313.9h0M1074.2 321.6h0M1073.6 325h0M1086 313.9h0M1086.5 319h0M1085.8 339.5h0M1086 344.6h0M1109.1 328.4h0M1109.8 332.6h0M1097.6 370.2h0M1097.4 372.7h0M1133 363.4h0M1132.1 368.1h0M1132.6 372.7h0M1158.7 355.7h0M1158.8 359.1h0M1176.4 326.7h0M1175.5 330.1h0M1254.6 176.1h0M1255.1 202.5h0M1267.4 182.4h0M1267.4 225.2h0M1278.5 193.5h0M1288.4 192.3h0M1288.4 202.5h0M1291.8 200h0M1291.8 210.2h0M1288.4 215.3h0M1290.1 218.7h0M1290.6 227.6h0M1251.3 233.2h0M1246.6 237.5h0M1267 240.1h0M1283.3 241.8h0M1317.4 215.3h0M1325.4 235.5h0M1319.1 240.9h0M1338.2 212.8h0M1338.2 241.8h0M1348.4 218.4h0M1364.5 227.6h0M1374.6 198.6h0M1421.5 236.3h0M1391.3 243h0M1422.3 247.7h0M1254.9 185.5h0M1254.7 190.6h0M1252.1 197.4h0M1251.5 203.4h0M1267.2 201.7h0M1267.1 205.5h0M1267.8 209.4h0M1278.6 200h0M1279 204.2h0M1278.9 208.5h0M1319.9 192.3h0M1320.4 197.4h0M1319.8 202.5h0M1310.9 234.1h0M1310.9 239.2h0M1338.6 229h0M1338.6 234.1h0M1349.7 204.2h0M1349.1 207.6h0M1358.5 199.1h0M1358.7 203.4h0M1364.3 207.6h0M1364.6 209.4h0M1374.2 204.2h0M1374.1 210.2h0M1371.4 213.6h0M1372.1 216.2h0M1371.7 231.5h0M1372.2 236.7h0M1248.6 318.6h0M1258.5 300.4h0M1248.6 358.4h0M1269.3 336.2h0M1286.3 348.5h0M1286.3 356.5h0M1286.3 438.1h0M1286.3 442.7h0M1309.7 305h0M1309.4 320.3h0M1317.4 311.8h0M1317.4 319.5h0M1321.7 318.6h0M1317.4 372.4h0M1327.6 342.5h0M1337.5 337.1h0M1344.4 326.3h0M1353.2 328.5h0M1344.4 353.6h0M1360.4 365.6h0M1360.4 372.4h0M1360.4 377.5h0M1372 349.4h0M1394.2 354.1h0M1394.2 358.7h0M1396.4 394.2h0M1396.4 410.4h0M1439.4 324.6h0M1449.6 350.2h0M1449.6 357.5h0M1413.8 318.3h0M1248.6 344.2h0M1248.4 346.8h0M1333.1 343.4h0M1333.1 347.6h0M1343.8 334h0M1344.6 337.4h0M1332.6 360.4h0M1332.6 363h0M1372.5 355.3h0M1371.4 358.7h0M1371.7 362.2h0M1413 353.1h0M1412.3 356.5h0M1395.9 398.8h0M1396 402.3h0M1449.3 331.4h0M1449.9 334h0M352.6 494.3h0M349.6 496.4h0M1286.5 473.4h0M116.7 257h0M116.6 318.4h0M117.6 255h0M117.8 262.8h0M118.2 304.9h0M118.9 268.6h0M119 312h0M119.6 267h0M120.3 308h0M120.6 266.9h0M120.6 322.2h0M121.6 262.2h0M121.4 313.1h0M121.4 318.8h0M122.8 257.9h0M122.8 315.2h0M123.6 257.1h0M124.2 323.6h0M124.2 319h0M125.2 269.1h0M125.2 257.6h0M125 331h0M126 259.8h0M125.4 270.2h0M125.9 332.7h0M127 272.7h0M126.9 266.4h0M126.5 320.2h0M126.6 316.3h0M127.6 261.1h0M127.8 322.1h0M127.8 324.9h0M128.8 262.7h0M128.7 268h0M129.2 329.8h0M130.1 268.9h0M130 317.8h0M130.9 255.9h0M131.3 334.3h0M131.9 267.8h0M131.4 254.7h0M131.7 331.5h0M132.6 260.3h0M132.5 340.2h0M133.8 260.3h0M133.7 341.5h0M134.5 287.9h0M134.4 342.5h0M135.5 291.5h0M136 327.1h0M136.9 288h0M136.6 336h0M137.9 273.5h0M138.1 342.5h0M138.9 278.3h0M139.1 273.1h0M138.8 329.5h0M139.9 287.1h0M139.8 335.2h0M139.7 332.8h0M140.7 282.3h0M140.6 328h0M141.7 279.3h0M141.6 343.4h0M142.3 288.8h0M142.7 330.8h0M144.1 280.3h0M144 339.4h0M145.2 284.4h0M144.9 347.8h0M145.9 283.8h0M145.8 355.2h0M145.4 346.8h0M147 296.1h0M147.3 348.4h0M146.7 352.5h0M148.2 299.1h0M147.8 345.8h0M149.1 284.8h0M148.6 349.5h0M149.7 278.8h0M150 354.6h0M149.4 351.4h0M151 290.7h0M150.8 350.8h0M151.1 349.3h0M151.5 291.3h0M152.1 334.6h0M152.4 289.3h0M152.4 334.8h0M154.1 282.9h0M153.7 334.6h0M154.7 293.5h0M154.5 331.4h0M155.5 288.3h0M155.9 334.9h0M156.9 293.7h0M157.2 340.3h0M157.5 300.7h0M157.7 339.3h0M158.4 285.4h0M158.4 354h0M158.4 342.5h0M158.8 364.7h0M160 297.4h0M159.6 349.6h0M160.9 298.7h0M160.4 346.3h0M161.8 288.7h0M162.1 347.8h0M163.2 289.5h0M163.1 335.9h0M163.9 302.4h0M163.7 336.2h0M164.4 296.3h0M164.4 335.9h0M165.6 290.5h0M165.9 337.8h0M166.9 288.8h0M166.8 345.3h0M167.9 294.5h0M167.6 351h0M169.1 300.3h0M168.6 342.2h0M169.9 286.2h0M169.7 350h0M169.4 337.1h0M171.3 272.8h0M171.2 341.2h0M172.1 274.2h0M172 335.7h0M172.5 275.8h0M172.9 329.3h0M173.4 271.2h0M173.6 325.7h0M175 267.9h0M175.2 280.2h0M175.2 321.8h0M174.6 328.2h0M175.8 262.5h0M176.3 323.3h0M176.6 255.3h0M177.1 324.5h0M178.2 270.7h0M177.6 310.8h0M177.8 330.9h0M179.1 254.2h0M178.9 314.4h0M180.3 254.9h0M179.6 313.6h0M181.3 257.8h0M180.7 310h0M182.2 258h0M181.7 316h0M182.8 258.8h0M182.4 322.3h0M183.6 265.6h0M183.8 330.3h0M184.8 261.8h0M184.8 263.6h0M184.4 343h0M185.6 281h0M186.3 272.2h0M186.2 344.1h0M185.9 329.4h0M186.9 281.5h0M186.4 342.1h0M188.2 267.8h0M187.4 341.7h0M189.2 278.4h0M188.4 345.8h0M189.2 334.6h0M190.2 281.8h0M190.1 330.7h0M191 274h0M191.3 275.5h0M190.8 334.5h0M192 287.5h0M191.5 325.5h0M192.6 281.3h0M192.5 314h0M193.5 275.8h0M195 277.1h0M195.6 276.3h0M196 301.6h0M196.9 272.8h0M196.8 308.1h0M197.4 265.6h0M198.3 298.9h0M199.1 265.5h0M198.4 290.3h0M199.4 257h0M199.7 286.5h0M200.6 245.3h0M201.3 285.8h0M202 247.6h0M201.9 288.7h0M202.9 242.1h0M202.5 288.4h0M203.6 246.3h0M203.7 287.9h0M205 236.1h0M205 283.7h0M205.2 281.6h0M206.2 232.5h0M205.5 292.8h0M206.9 245.6h0M207.1 287.2h0M206.8 308.6h0M207.8 235.5h0M207.7 288.1h0M208.8 251h0M208.3 294.7h0M209.7 247h0M210.2 305.4h0M210.7 247.9h0M211.2 305.1h0M212.3 247.4h0M211.8 294.1h0M213 252.3h0M212.4 302.2h0M214.3 246.5h0M213.7 311.5h0M213.5 310h0M215 239.7h0M214.8 302.3h0M215.8 255.2h0M216.3 304.5h0M217.1 254.9h0M217.1 245.7h0M217.3 297.1h0M218 248.7h0M218.2 241.1h0M217.3 300.5h0M218.7 235h0M219.3 308.5h0M218.5 313.9h0M220 230.1h0M219.6 301.4h0M220.9 237.1h0M221.3 299.4h0M220.8 329.6h0M221.7 238.4h0M222.3 230.8h0M221.9 295h0M223.1 238.3h0M222.5 235.1h0M223.1 305.9h0M223.6 235.5h0M223.8 280.3h0M225.1 233.8h0M224.8 274.5h0M226.1 236.4h0M225.7 286.6h0M225.9 285.2h0M226.7 235.3h0M227 234.6h0M227.2 280.5h0M227.4 230.9h0M227.8 279.9h0M229.2 239.3h0M229.3 295.7h0M229.6 228.7h0M229.4 291.8h0M230 302h0M231 240.9h0M230.4 286.5h0M231.1 289h0M231.8 225.7h0M232.1 308.5h0M232.5 231.3h0M232.8 237.9h0M233.1 290.5h0M233.3 296.8h0M233.7 246.6h0M233.9 306.2h0M235.1 227h0M234.8 302.4h0M234.5 300.6h0M235.8 243.7h0M235.7 293.7h0M236.7 233.1h0M237.3 280.1h0M237.9 241.2h0M238.2 274h0M239.1 231.6h0M238.9 270.5h0M238.8 219.5h0M240 240.5h0M240 272h0M240.5 243.6h0M242.1 240h0M243 241.4h0M244.3 238.8h0M243.6 260.7h0M244.8 236.2h0M247.1 233.2h0M247.1 262.2h0M248.2 228.4h0M247.5 272h0M248.6 234.8h0M249.3 262.1h0M249.4 224.6h0M249.3 268.9h0M250.9 237.7h0M250.8 267.2h0M251.5 237.6h0M252.3 268.7h0M253.3 231.9h0M252.7 275.7h0M254.3 228.2h0M253.9 274.6h0M255.2 230.8h0M255.2 274.8h0M255.9 234h0M256.2 276.5h0M257 221.1h0M256.8 278h0M258.1 240.5h0M257.3 290.5h0M259.3 241.1h0M258.5 227.8h0M258.9 320.1h0M260.1 241.3h0M259.7 310.3h0M259.7 302.6h0M260.5 246.3h0M260.9 314.7h0M262.2 231.3h0M261.6 317.2h0M262 311h0M262.8 229.7h0M262.9 312.8h0M262.9 304.8h0M262.8 329.5h0M263.8 243.9h0M264.1 233.2h0M263.6 323.9h0M265.3 235h0M264.3 255.6h0M265.2 318.1h0M264.3 303.2h0M265.5 259.2h0M265.6 256.6h0M265.6 308.6h0M266.8 253h0M266.7 257.8h0M267 307.4h0M266.5 320h0M267.5 251.4h0M267.6 265.9h0M267.8 313.6h0M269.1 266.9h0M269.1 317.6h0M269.6 260.7h0M269.5 293.9h0M270.6 288.6h0M271.4 284.6h0M273.3 252.7h0M273.5 261.2h0M274 289.8h0M274.9 283.3h0M275.6 256.9h0M276.2 287.4h0M277.1 254.6h0M277.3 285.9h0M279.3 257.5h0M278.9 283h0M279.4 253.9h0M279.8 292.7h0M281.2 252.5h0M280.6 279.2h0M281.9 245.2h0M281.9 286.7h0M282.5 246.4h0M282.7 279h0M284.2 247.4h0M283.5 284.5h0M284.3 293.2h0M285.4 255.2h0M285.9 293.9h0M286.8 250.3h0M286.4 288.9h0M287.7 257.2h0M287.6 303.6h0M289.3 255.5h0M289 296.4h0M289.6 253.2h0M289.8 298.2h0M291.2 258.9h0M292 254.9h0M291.9 302.5h0M291.8 312.3h0M292.5 249.8h0M293.1 288.7h0M293.6 248.9h0M293.7 294.1h0M294.3 283.9h0M295.8 241.3h0M296.7 232.9h0M296.9 271.7h0M298.3 234.1h0M297.6 268.5h0M297.8 290h0M299 235.8h0M299.4 268.6h0M300.4 229.8h0M300.8 274.4h0M301.9 238.3h0M301.9 275.1h0M302.8 280.1h0M303.5 242h0M304.2 308.9h0M305.3 266.6h0M304.6 248.8h0M304.5 239.1h0M304.4 378.1h0M304.4 337.8h0M304.7 339.4h0M304.6 346.4h0M304.8 223.6h0M305.9 244.5h0M306.1 244.4h0M305.8 374.7h0M305.9 373h0M305.6 377.3h0M306.3 395.1h0M306 378.6h0M305.8 406.1h0M306.9 289.2h0M307.1 287h0M307.1 242h0M307.3 282.5h0M306.7 281.6h0M306.7 398.6h0M307.2 408h0M306.6 374.7h0M307 381h0M306.5 399.3h0M308.1 272.8h0M307.5 255.7h0M307.9 301.8h0M308 286.7h0M308.1 387.8h0M307.7 370.7h0M307.9 373.1h0M308.3 407.9h0M307.5 409.4h0M309.3 269.7h0M308.5 251.7h0M309.3 301.5h0M309.3 301.4h0M308.5 399.3h0M308.7 374.4h0M309 414h0M308.5 383.1h0M308.5 385.4h0M309.5 282.2h0M309.5 294.3h0M309.7 259.2h0M309.8 307.5h0M310 420.7h0M310.2 378.3h0M310 371.5h0M310.1 372.2h0M310.4 271.3h0M310.4 294.1h0M311.3 274.9h0M311 287.2h0M310.7 373.6h0M311.1 382.9h0M310.7 386.2h0M310.5 394.1h0M311.8 276.6h0M311.9 279.9h0M312.1 306.9h0M311.3 266.9h0M312.1 290.7h0M312 410h0M312.2 396.9h0M311.9 404.6h0M311.8 367.1h0M312.8 274.4h0M312.3 299.6h0M312.6 300.3h0M312.4 284.3h0M313.3 401.1h0M312.8 378.9h0M312.4 388.8h0M313 385h0M314.2 283.6h0M313.8 277.3h0M313.8 264.5h0M313.9 298.2h0M313.4 371.2h0M314.2 359.9h0M314 360.1h0M313.8 359.3h0M314.9 270.2h0M314.7 273.2h0M314.9 296.4h0M314.9 287.8h0M315.3 362.7h0M315.3 365.1h0M314.9 373.1h0M314.5 362.7h0M316 259.2h0M316 279.1h0M315.8 269.1h0M315.6 267.2h0M316.3 354.5h0M316.2 394.8h0M316.2 359h0M315.9 388h0M317.2 241.9h0M317.1 275.4h0M316.9 247.8h0M316.9 396.5h0M316.9 383h0M316.8 348.7h0M316.6 347.6h0M318 288h0M318 265.2h0M318.3 260.4h0M317.9 273.7h0M318 369.5h0M317.4 350.3h0M317.4 347.8h0M317.6 367.6h0M318.9 259.1h0M318.5 280.8h0M318.6 265.5h0M318.6 249h0M318.9 343.3h0M318.8 352h0M319.1 359.2h0M320.1 261h0M320.2 272h0M319.7 275.5h0M320.3 244.4h0M320.3 347.7h0M320.2 353.6h0M319.5 351.6h0M320.4 265.8h0M321.2 256.8h0M320.3 251.2h0M321 373.5h0M321.2 387.3h0M321 374.8h0M320.4 352.1h0M322 242.7h0M321.8 268h0M321.6 281.7h0M321.5 260.9h0M321.9 363.3h0M321.8 378.2h0M321.7 358.4h0M322 369.8h0M322.9 272.5h0M322.5 255.3h0M322.9 273.4h0M323.2 273.7h0M322.5 369h0M323.1 364.9h0M323.2 378.9h0M323 334.6h0M323.6 246.9h0M323.7 243.7h0M323.4 233.3h0M323.5 256.3h0M323.8 378.1h0M323.6 370h0M324.1 332.3h0M324.4 266.3h0M324.4 276.5h0M324.6 268.1h0M324.9 256.9h0M324.5 370.1h0M325.2 356.6h0M324.9 338.2h0M326.3 268h0M325.6 240.4h0M325.3 268.4h0M326.1 370.8h0M325.6 334.2h0M325.6 334.7h0M325.5 336.2h0M326.6 252.9h0M326.5 235.9h0M326.5 277.5h0M326.6 360.2h0M327 336.7h0M327.1 349.9h0M327.3 256.6h0M327.8 233.5h0M327.5 257.4h0M327.9 336.3h0M327.6 372.3h0M327.6 341.9h0M327.3 330.7h0M328.8 277.3h0M328.6 269.2h0M328.5 239.1h0M329.2 273.6h0M329 359.9h0M329.3 331.4h0M328.6 331.5h0M329.2 348.6h0M328.8 382.4h0M330.2 277h0M329.9 278.6h0M329.3 275h0M329.6 271.7h0M329.9 373h0M329.6 353.4h0M329.8 337.6h0M330.2 346.5h0M329.8 384h0M330.9 250.6h0M331.2 244.4h0M331 280.8h0M330.7 349.2h0M330.4 343h0M331 340h0M331.2 380.2h0M330.8 227.6h0M331.5 263h0M331.8 281.8h0M332.2 282.8h0M331.3 242.5h0M331.4 374.4h0M331.8 359.9h0M332.1 340.9h0M333 238.9h0M332.4 244.9h0M332.8 273.6h0M333.1 348.9h0M333.2 359.6h0M333.3 352.5h0M333.3 348.4h0M333.4 250.1h0M333.9 270.7h0M334.1 284.2h0M334.1 361.7h0M333.8 380.4h0M334.2 355.8h0M335.2 252.7h0M334.5 282.5h0M335 257.3h0M334.7 354.5h0M334.6 381h0M334.4 345.3h0M336.1 279.8h0M335.7 281.5h0M336.1 260.5h0M335.8 371.4h0M336.2 363.3h0M335.9 357.9h0M335.4 378.9h0M335.8 236.3h0M336.6 247.5h0M336.7 241.8h0M337 249.2h0M336.8 285.5h0M336.6 381.5h0M336.5 349.1h0M336.9 336h0M336.5 360.1h0M338.3 259.1h0M338.2 270.9h0M338 262.7h0M337.6 353.7h0M338.3 345.8h0M338.2 336.8h0M337.5 366.2h0M338.8 267.8h0M339.3 281.6h0M338.6 255.5h0M339.2 362.9h0M338.6 354.8h0M338.9 346h0M339 372.8h0M338.8 386.6h0M339.6 252.6h0M340.1 285.3h0M339.5 283.2h0M339.4 338.2h0M340 353.8h0M339.4 366h0M339.8 334.8h0M341.2 282.3h0M341.3 248.1h0M340.4 272.3h0M340.7 347.1h0M341 346.5h0M340.8 361.1h0M342.3 242.6h0M341.9 282.4h0M341.9 242h0M341.5 242.1h0M341.4 364.9h0M342.3 335.8h0M341.9 336.8h0M342.8 270.2h0M342.4 256.1h0M342.7 281.2h0M343.2 279h0M342.8 349.8h0M343.3 363.5h0M342.4 365.8h0M343.8 263h0M343.3 278.1h0M343.6 281.9h0M343.9 341.2h0M344.3 336.1h0M343.6 366.8h0M345.1 279.9h0M345 277.2h0M345 286.2h0M344.6 262h0M345.2 373.2h0M344.8 363.7h0M345.1 358h0M345.8 258.1h0M346 265.3h0M346.1 278.8h0M346.3 255.4h0M346.1 386h0M346.1 367.7h0M345.7 355.8h0M346.3 345.1h0M346.5 262.9h0M347 277.1h0M347.3 276.4h0M347.1 378.7h0M347.3 364h0M346.5 365h0M346.7 355h0M347.8 275.8h0M347.9 276.9h0M347.7 258.4h0M348.1 386.1h0M347.5 386.6h0M347.6 380.7h0M347.6 363.3h0M347.8 252.2h0M348.4 272.1h0M349.1 305.1h0M348.4 304.7h0M348.4 279.4h0M348.4 395.8h0M349.2 397.5h0M348.9 405.9h0M348.5 396.2h0M350.2 306.8h0M349.8 297h0M350 274.7h0M350.3 406h0M349.4 403h0M349.9 365.8h0M349.4 367.8h0M351.3 303.6h0M351.1 265.5h0M350.4 295.9h0M350.5 264.3h0M350.8 408.4h0M351.3 415.5h0M351 384.5h0M350.8 373.2h0M351.5 307.1h0M351.6 283h0M351.7 268.4h0M352 307.6h0M351.4 397.9h0M351.6 370.4h0M351.5 391.4h0M352.2 375.9h0M353.1 252.6h0M353.1 301.5h0M353.1 303.1h0M352.5 295.9h0M353 366.3h0M353 403.1h0M352.5 401.4h0M353.2 371.6h0M353.5 297.3h0M354.2 256.6h0M353.3 276.5h0M354.3 301h0M353.6 385.8h0M353.4 398.8h0M354 385.2h0M355.1 287.4h0M354.9 286.9h0M355.3 269.7h0M354.6 266.2h0M355.1 349.7h0M354.5 385.2h0M354.7 365.1h0M354.4 356.7h0M356.1 265.8h0M356.2 277.2h0M355.9 282.5h0M355.5 295.4h0M355.8 381.8h0M355.8 387.1h0M356.1 359.5h0M356.6 289.9h0M356.4 275.5h0M357.1 286.9h0M356.6 368.1h0M356.7 346.5h0M356.6 353.1h0M357.2 352.7h0M357.7 291h0M358.3 269.2h0M357.8 260.9h0M357.4 377.7h0M358.3 361.9h0M357.8 350.4h0M357.7 349.9h0M358.3 290.5h0M358.7 286.9h0M359 279.4h0M358.3 340.1h0M358.5 353.8h0M359.1 371.4h0M359.6 261.2h0M359.4 288.3h0M360.3 280.1h0M360 266.7h0M360.2 352.1h0M359.7 380.4h0M359.8 358.9h0M360.6 260.8h0M361.3 251.8h0M360.4 275h0M360.5 361.9h0M360.6 366.9h0M360.4 343.8h0M361.6 281.2h0M361.5 288.8h0M361.5 283h0M361.3 347.6h0M361.3 352.1h0M361.4 346.9h0M362 339.1h0M362.9 265.5h0M362.5 261.6h0M362.3 276h0M362.9 346.6h0M363.2 373.4h0M363.2 334.7h0M362.7 345.7h0M363.9 282.3h0M363.6 255.1h0M363.6 278.9h0M364 335.2h0M364.1 342.5h0M363.5 348.3h0M364.5 279.7h0M364.5 276.1h0M364.9 262.2h0M364.6 273.5h0M365.1 341.2h0M365 364h0M364.6 368h0M365.6 262h0M366.2 276h0M365.5 268h0M365.4 331.6h0M366.1 335.3h0M366.2 333.6h0M367.2 250.6h0M366.7 268.9h0M366.8 260.8h0M366.7 340.4h0M366.4 362.2h0M367 353.9h0M368.2 278.1h0M367.9 279.7h0M367.6 278.3h0M368 337h0M367.4 331h0M367.8 335.5h0M368.9 242.2h0M368.8 276.1h0M369.1 255.8h0M368.9 365.3h0M368.6 325.6h0M368.4 357.8h0M369 334.2h0M370.1 276.1h0M369.5 259.5h0M370.2 268.8h0M369.4 276.7h0M370 331.7h0M369.5 333.1h0M370.3 348.6h0M370.9 251.9h0M370.4 269.8h0M370.5 263h0M370.9 341.9h0M370.9 348.3h0M370.9 366.7h0M371.8 270.2h0M371.7 261.4h0M372.3 256.1h0M372.3 368.1h0M371.8 365h0M371.8 354.3h0M371.5 340.8h0M372.4 247.9h0M372.8 276.8h0M373.2 277.3h0M372.4 265.7h0M372.6 359.7h0M372.5 340.8h0M373.1 332.1h0M372.6 341.9h0M374.3 241.5h0M373.8 284.1h0M373.9 266.9h0M373.9 376.4h0M374.3 349.8h0M373.3 353.7h0M374.3 359.3h0M375.2 284h0M375.2 281.4h0M374.5 280h0M375 353.3h0M374.4 353.7h0M375.2 377.8h0M374.4 346.9h0M376 272.9h0M376.2 242.8h0M375.9 249.9h0M376.2 338.7h0M375.4 337.9h0M376.3 363.8h0M376.5 263.8h0M376.7 263.2h0M376.9 279h0M377 250.4h0M377.3 369.4h0M377.3 340.6h0M376.7 334.3h0M376.4 364.1h0M376.8 376.9h0M378 248.4h0M378.1 280.1h0M377.6 252.4h0M378.3 356.9h0M377.7 334.2h0M378.3 338.4h0M377.3 329.5h0M379.3 245.8h0M378.6 254.8h0M378.3 244.7h0M378.6 340.6h0M378.8 363.4h0M378.6 339.5h0M379.6 268h0M379.5 281.5h0M380 251.9h0M380.3 330.2h0M379.7 362.2h0M380.3 365.9h0M380.5 278.1h0M381 278.5h0M380.5 242.8h0M381.2 360.7h0M380.4 328.7h0M380.6 333.4h0M380.8 237.2h0M381.5 273h0M381.7 268.5h0M381.6 267.7h0M381.3 364h0M382.2 330.9h0M382.1 341h0M382.6 252.8h0M383.1 256.4h0M383.3 255.3h0M383.2 276h0M382.5 328.6h0M383.2 326.1h0M382.7 333.4h0M384.1 276.7h0M384.1 264.6h0M383.8 257.2h0M383.5 357h0M384.2 325.7h0M384.3 347.2h0M384.7 270.9h0M384.8 273.3h0M384.4 262.6h0M385.1 333.1h0M384.4 333h0M384.6 332.4h0M386 278h0M385.5 262.4h0M385.4 264h0M385.9 330.2h0M386 358.5h0M385.9 341.1h0M387.3 268.3h0M387.1 267.9h0M386.9 250.2h0M386.8 360.8h0M386.4 335.9h0M387.2 348.1h0M388 268h0M387.5 266.7h0M387.5 278.3h0M388 359.1h0M387.4 354.1h0M387.9 324.4h0M389.2 281.8h0M388.9 272.6h0M388.4 282.8h0M389 322.9h0M388.6 329.7h0M389.2 355.6h0M390.3 280.4h0M390 263.4h0M389.5 271.7h0M390.2 325.1h0M390.3 351.3h0M389.6 324.2h0M390.4 269.3h0M391 249.8h0M390.6 297.3h0M391.3 313.8h0M392.1 252h0M391.3 291.5h0M393 275.6h0M394.8 250.1h0M396.8 251.6h0M396.8 271.5h0M398.8 254.7h0M398.8 269.6h0M400.8 251.5h0M400.8 270.4h0M401.8 268.7h0M402.6 252.2h0M403.8 252.7h0M403.8 252.2h0M404.8 254.5h0M404.8 266.5h0M406.8 269.6h0M407.8 256.8h0M408.8 255.9h0M408.8 268.2h0M410.8 267.8h0M411.5 254.8h0M412.8 256.2h0M413.8 256.2h0M413.8 267.1h0M414.8 255.9h0M415.8 254h0M416.8 252.6h0M416.8 269.1h0M416.8 254.7h0M417.8 252.7h0M418.8 252.6h0M418.8 268.5h0M421.8 251.6h0M421.8 271.3h0M422.8 270.5h0M423.8 252.8h0M424.5 251.9h0M424.8 271h0M425.8 254.2h0M427.3 271h0M426.8 270.4h0M428.8 254h0M428.8 268.9h0M429.8 253.6h0M429.8 271h0M430.8 268.7h0M431.8 271.2h0M431.8 268.5h0M432.8 251.1h0M432.8 254.5h0M433.8 253.2h0M435.3 251.3h0M434.8 272.9h0M434.8 269.9h0M435.8 251h0M437.8 269.8h0M438.8 270h0M439.8 252.6h0M441.8 272h0M442.8 269.4h0M444.7 271.7h0M444.8 269.6h0M445.8 252.3h0M446.8 251.6h0M446.8 271.7h0M448.3 272.1h0M447.8 269.3h0M448.8 251.6h0M449.6 252.4h0M449.8 268.9h0M451.3 252h0M450.5 271.4h0M450.8 269.2h0M452.2 252.5h0M451.8 255.4h0M452.8 271.1h0M453.8 269.6h0M454.8 253.5h0M455.8 253.6h0M455.8 270h0M456.8 252.2h0M456.8 269h0M457.8 252.7h0M459.8 253.5h0M461 253h0M460.8 253.8h0M461.6 269.2h0M462.8 253.9h0M463.4 269.6h0M463.8 268.5h0M465.8 266.2h0M466.6 268.2h0M466.8 255.1h0M466.8 267.8h0M468.2 255.3h0M467.8 255h0M468.8 265.8h0M469.8 268.8h0M470.7 254.1h0M470.8 265.9h0M471.8 267h0M473.1 254.4h0M472.8 254.5h0M473.8 256h0M475 268.7h0M474.8 255.6h0M474.8 266.3h0M475.8 256.5h0M476.8 265.9h0M477.8 255.7h0M477.8 268h0M478.8 269.5h0M479.8 255.7h0M479.8 267.7h0M481.2 254.6h0M480.8 257.9h0M481.8 255.9h0M481.8 268.5h0M482.8 268.2h0M483.8 256h0M485.8 256.3h0M485.8 269.8h0M486.8 253.9h0M486.8 270.9h0M487.8 255.8h0M488.9 271.7h0M489.8 253.6h0M490.8 255.8h0M491.8 254.4h0M491.8 268.7h0M493.6 253.3h0M493.8 256.6h0M494.8 253.7h0M494.8 269.8h0M495.8 255.1h0M498.8 253.8h0M498.8 269.3h0M500.1 254h0M502.7 254h0M502.7 269.2h0M502.8 254.9h0M503.7 253.9h0M503.8 254.6h0M503.8 269.7h0M505.8 254.4h0M505.8 254.7h0M505.8 269.4h0M506.8 268.8h0M507.8 254.1h0M508.8 269.5h0M509.8 255.4h0M509.8 269.8h0M510.8 256.1h0M511.8 254.9h0M511.8 255.6h0M513.8 254.5h0M513.8 269.6h0M515.3 253.9h0M515.2 270.4h0M515.8 270h0M516.8 254.4h0M516.8 270.5h0M517.8 269.6h0M518.8 256.3h0M518.8 268.1h0M520.3 270.7h0M519.8 254.4h0M521.8 255.1h0M521.8 267.8h0M522.5 253.2h0M522.8 267.5h0M524.8 254.4h0M525.8 253h0M525.8 267.6h0M527.8 254.5h0M528.8 253.6h0M528.8 270h0M530 250.3h0M529.8 252.1h0M532.1 270.7h0M531.8 251h0M532.8 254.7h0M534.8 267.3h0M535.9 269.8h0M535.8 268h0M536.8 254.4h0M536.8 268.4h0M539.8 268.8h0M541 250.5h0M541.9 250.5h0M541.8 253.1h0M541.8 267.5h0M542.8 249.8h0M542.8 267.2h0M544.8 269.8h0M545.8 266.9h0M546.8 266.7h0M547.8 269.5h0M548.8 267.1h0M550.8 255h0M552.8 255.7h0M553.8 268.1h0M555.8 268h0M556.7 270.1h0M556.8 269.4h0M558.8 269.3h0M560.1 269.7h0M560.8 253.1h0M560.8 267.3h0M561.8 268.1h0M562.8 255.5h0M565.8 254.2h0M565.8 269.7h0M566.8 253.8h0M566.8 267.9h0M567.8 254.6h0M567.8 268.6h0M568.8 255h0M568.8 268.2h0M569.5 270.1h0M569.8 257.5h0M569.8 267.9h0M570.8 268.4h0M572.3 254.4h0M571.8 266.9h0M572.5 270.1h0M572.8 267.3h0M573.8 268.8h0M574.8 254.5h0M576.3 271h0M576.6 271.1h0M576.8 255.8h0M577.8 270.5h0M578.8 271.9h0M579.6 272h0M579.8 256h0M580.8 256.2h0M580.8 271.8h0M582.1 271.9h0M582.8 269.6h0M583.9 252.8h0M584.8 254.3h0M584.8 269h0M586.8 256.7h0M587.8 267.5h0M588.8 267h0M590.8 254.5h0M591.6 269.2h0M591.8 268.2h0M592.8 255.4h0M593.8 268.3h0M594.8 268h0M595.6 268.6h0M596.5 255h0M596.8 254.8h0M598.3 254.4h0M597.8 255h0M597.8 268.3h0M598.8 268.8h0M601.8 255.6h0M604.8 256.4h0M605.8 258.1h0M605.8 266.7h0M607 255.8h0M606.8 257.4h0M608 255.5h0M608.8 258.1h0M609.8 256h0M609.8 268.4h0M611.8 265.6h0M613.2 268.5h0M613.8 265.9h0M617.6 268.2h0M618.6 267.9h0M618.8 251.5h0M620.8 255.5h0M620.8 267.5h0M622.8 256.9h0M623.8 267.2h0M624.8 255.9h0M624.8 266h0M625.8 255.4h0M625.8 267h0M626.8 255.8h0M627.8 268h0M628.7 253.4h0M629.2 271h0M628.8 254.6h0M628.8 268.7h0M629.8 253.6h0M630.8 253.4h0M630.8 269.2h0M631.8 251.4h0M631.8 269.7h0M632.8 251.9h0M632.8 269.6h0M633.6 271.6h0M636.8 252.5h0M636.8 268h0M639.8 256.3h0M641.8 267.5h0M644.8 253.6h0M646.3 252.4h0M645.8 254.1h0M646.8 254.2h0M647.8 255.3h0M647.8 267.8h0M649.8 252.8h0M649.8 271h0M650.8 254.3h0M652.8 254.4h0M653.3 269.5h0M653.8 269.4h0M654.8 256.8h0M656.8 255.2h0M656.8 266.3h0M657.8 254.7h0M657.8 266h0M659.1 268.8h0M658.8 266.9h0M659.8 267.9h0M660.8 256.2h0M661.5 268.9h0M661.8 255.9h0M662.8 256.7h0M662.8 266.8h0M663.8 257h0M665.8 253.9h0M665.8 267.7h0M666.5 254.5h0M666.8 267.2h0M668.8 270.4h0M668.8 256h0M668.8 270.4h0M670.2 270.9h0M669.8 268.8h0M671.8 253.2h0M672.8 270h0M673.5 252.7h0M676.8 254.9h0M677.8 253.4h0M678.8 254.6h0M678.8 268.6h0M679.8 254.5h0M681.8 266.6h0M683.3 268.2h0M683.4 255.1h0M683.8 268.1h0M684.9 268.2h0M685.8 257.6h0M685.8 268.3h0M686.8 255.4h0M687.8 254.3h0M688.5 253.9h0M690.4 254.2h0M690.8 256.9h0M691.6 269.1h0M691.8 265.9h0M692.8 254.6h0M694.8 255.2h0M696.8 257.4h0M696.8 268.8h0M697.8 257.5h0M697.8 267.9h0M698.4 268.6h0M700.3 268.7h0M699.8 256.7h0M701.8 256.1h0M701.8 267.1h0M702.8 255.5h0M703.8 256.7h0M703.8 266.3h0M705.8 256h0M706.9 255.7h0M706.8 257.7h0M708.8 256.2h0M709.6 269.8h0M709.8 266.7h0M711.8 256.7h0M712.8 257.3h0M712.8 269.4h0M714.8 257.5h0M714.8 268.6h0M715.6 255.8h0M716.8 266.6h0M717.8 266.7h0M718.8 268.2h0M719.8 255.7h0M719.8 266.8h0M720.8 255.8h0M721.7 268.4h0M722.7 254.7h0M723.8 254.6h0M724.8 267.9h0M725.8 254h0M726.8 268.8h0M728 254.2h0M728.8 269.3h0M728.8 269.1h0M730.3 254.1h0M729.8 266.4h0M730.8 256.1h0M731.8 265.7h0M732.8 255.8h0M732.8 265.6h0M735.8 257h0M736.8 266.7h0M739.8 254.7h0M739.8 266.3h0M740.8 265.9h0M741.8 251.4h0M741.8 266.8h0M744.8 253.4h0M746.1 268.6h0M745.8 268.4h0M746.8 255.6h0M748.2 268.6h0M747.8 253.8h0M747.8 268.5h0M749.8 267.7h0M749.8 255.8h0M751.1 268.1h0M750.8 267.6h0M751.6 268.9h0M752.8 255.5h0M753.8 265.7h0M754.8 254.7h0M755.8 255h0M755.8 268h0M757.2 254h0M756.9 269.6h0M756.8 269.3h0M757.8 269.8h0M758.8 270.6h0M759.4 250.5h0M760.8 237.1h0M760.6 270.4h0M762.3 207.2h0M761.8 223.2h0M762 259.6h0M762.7 201h0M763 256.3h0M762.6 263.6h0M764.1 168.5h0M764.3 182.5h0M763.9 248.9h0M764.4 178.8h0M764.5 171.2h0M765.1 262.2h0M764.7 253.5h0M765.3 164.4h0M765.4 178.1h0M766 265h0M765.4 256.7h0M766.3 173.8h0M767.2 171h0M766.8 255.2h0M766.9 259h0M767.8 160.6h0M768 173.3h0M768 245.5h0M767.5 267.9h0M768.6 153.5h0M768.5 168.3h0M768.4 243.4h0M768.5 252.5h0M769.9 146.1h0M769.8 160.3h0M769.4 241.7h0M770.2 245.5h0M770.6 155.9h0M771.1 211.2h0M771.6 149h0M773.3 152.2h0M773.6 154.1h0M773.7 190h0M775.3 148.6h0M774.6 188.3h0M776.1 153.4h0M775.9 193.5h0M776.6 160.2h0M778.1 159.1h0M778.2 196.2h0M779.1 154.1h0M779 206.4h0M779.7 164.8h0M779.6 198.6h0M781.3 155.8h0M780.6 204.8h0M781.5 162h0M781.7 203.4h0M783.3 152.4h0M782.4 200.3h0M784.1 206.4h0M784.3 168.9h0M785.1 198h0M786.2 170.8h0M785.5 206.2h0M787 202.7h0M787.3 169h0M787.7 206.9h0M789.3 173.1h0M789.2 205.8h0M789.5 167.2h0M790.3 174.5h0M790.4 198h0M791.6 171.7h0M791.9 199.7h0M792.8 169h0M792.4 206.4h0M794.3 174.5h0M794.5 178h0M794.4 217.3h0M795.7 183.2h0M795.6 230.9h0M796.6 192.7h0M796.6 226.2h0M798.1 192.8h0M797.6 231.2h0M798.8 192.9h0M798.7 226h0M798.8 243.3h0M800.1 225h0M800.4 182.8h0M801.2 229.5h0M801.8 229.9h0M803 188.3h0M802.9 233.8h0M803.7 188.3h0M803.4 231.6h0M804.8 196.6h0M804.7 235h0M805.9 196h0M805.5 225.8h0M807 193.3h0M807 235.8h0M807.7 198.4h0M807.7 228h0M808.7 200.8h0M810.8 200h0M810.8 236h0M812.1 203.8h0M813.9 200.2h0M813.8 235.8h0M813.8 193.4h0M814.6 240.2h0M815.4 244.2h0M816.5 238h0M817.5 200.1h0M817.4 243h0M818.9 209.4h0M818.8 246.5h0M820.2 213.4h0M820.3 248.3h0M820.7 253.7h0M821.6 244.8h0M822.5 206h0M822.5 248.5h0M824.1 212.1h0M824.7 206.1h0M825 253.4h0M826.3 206.4h0M825.5 248.5h0M826.3 255.1h0M827.4 214.3h0M828.5 208h0M828.8 256.5h0M830.2 218.5h0M829.6 263.4h0M830.3 219.2h0M830.4 257h0M831.5 217.5h0M831.9 266.5h0M833.1 254.3h0M833.5 222.2h0M833.9 259.1h0M833.8 202.5h0M835.1 223.3h0M834.5 268.2h0M836.2 219.3h0M835.5 262.9h0M836.5 215h0M837.1 255.3h0M838.1 217.7h0M838.7 225h0M838.5 255.8h0M840.2 222.5h0M839.5 261.2h0M840.6 219.5h0M840.8 256.2h0M840.8 209.7h0M841.7 218.2h0M842.1 258.4h0M842.7 219.1h0M842.5 251h0M842.8 198.7h0M844.2 219.8h0M843.4 261.6h0M843.8 270.6h0M844.9 217.3h0M844.7 251.7h0M845.9 218.4h0M847.3 253.8h0M848.2 220.2h0M848.5 225.5h0M848.8 258.6h0M849.6 222.7h0M849.7 262.9h0M851.1 223.4h0M850.5 260.9h0M851.9 215.5h0M851.7 258.4h0M853.3 222.1h0M852.7 261.3h0M853.7 258h0M854.5 221h0M855.1 268.7h0M855.4 228.8h0M856.1 259.1h0M856.5 221.6h0M857.1 260.2h0M858.3 225h0M858.1 271.2h0M858.9 227.1h0M858.6 263.4h0M859.9 228.5h0M860.3 275.1h0M860.5 228.3h0M862 217.8h0M861.3 264.6h0M862.9 229h0M863.2 266h0M864.3 226.7h0M863.8 266.3h0M864.9 227.3h0M864.9 268h0M865.9 220.8h0M866.2 264.9h0M867.1 225.9h0M866.6 277.2h0M867.4 225.4h0M867.4 267.7h0M868.2 264.7h0M869.2 225.3h0M869.2 265.2h0M869.5 225.6h0M869.5 218.2h0M870.3 268h0M870.2 273.5h0M870.7 227.7h0M870.7 277h0M871.4 213.9h0M871.7 270h0M872.2 271.7h0M873.2 216.1h0M873.1 264.5h0M874.3 221.1h0M874.2 227.3h0M873.7 265.2h0M874.5 226.3h0M875.3 269.7h0M875.5 215.3h0M876.2 269.7h0M876.4 216.2h0M877 270.2h0M878.3 224.2h0M877.7 271.7h0M879.2 218.4h0M878.5 262.6h0M879.8 223h0M879.5 270.4h0M879.7 266.3h0M880.6 223.6h0M880.9 267.5h0M881.7 211.4h0M881.8 264.1h0M883.2 224.2h0M882.8 276.2h0M883.5 213.3h0M884.1 273.3h0M884.9 219.1h0M885.3 271.2h0M885.5 205.9h0M886.1 217.5h0M886.3 264.1h0M886.6 206.3h0M886.9 273.5h0M888.1 217h0M887.4 276.4h0M888.4 220.5h0M888.8 272.5h0M890.3 218h0M890 272.8h0M889.4 263.2h0M890.8 217.5h0M891.1 267.2h0M891.8 206.9h0M891.4 271.6h0M893.1 214.4h0M892.4 267.9h0M893.9 208.1h0M893.6 262.9h0M895.1 210.7h0M894.4 270.5h0M895.4 216.6h0M895.8 267.6h0M896.6 208.6h0M897.1 272.2h0M897 259.8h0M897.3 216.8h0M897.6 261.8h0M898.3 206.7h0M898.8 273.4h0M900.3 213.1h0M899.9 271.4h0M899.8 279.9h0M901 219h0M900.6 275h0M900.5 258.6h0M901.3 210.6h0M901.4 262h0M902.8 203.2h0M902.5 268.7h0M903.6 205.3h0M904.3 204h0M904.1 264.8h0M904.5 212.4h0M905 261.5h0M904.8 198.1h0M906.1 220.9h0M905.4 267.4h0M905.7 265.8h0M906.7 209.7h0M906.9 273.2h0M907.5 206.8h0M907.8 279.6h0M907.8 290.7h0M909.2 208h0M908.3 273.4h0M908.9 280.2h0M909.5 224.6h0M909.4 209.8h0M910 275.2h0M910.6 227.9h0M910.5 268.3h0M910.8 204.4h0M912.2 228.6h0M912 278.7h0M912.7 220.2h0M912.7 265.5h0M914.2 220.3h0M913.6 274.2h0M914.9 263.9h0M915.8 228.9h0M916.2 265h0M916.6 224.2h0M916.8 263.2h0M917.9 227.1h0M917.9 269.2h0M919.2 228.8h0M918.9 266.3h0M920.1 221.8h0M919.4 264.1h0M921.2 225.9h0M920.6 263.6h0M922.2 223.1h0M921.5 221.7h0M922.1 267h0M921.7 265.1h0M922.8 221.9h0M922.9 271.2h0M923.7 217.5h0M923.5 262.8h0M923.8 283h0M924.7 217.8h0M924.4 267.9h0M926.1 227.8h0M925.9 229.3h0M925.9 264.7h0M926.8 224.2h0M926.3 269.2h0M927.5 227.5h0M927.7 268h0M928.6 230.3h0M928.8 269.5h0M929.9 218.2h0M929.8 267.2h0M931.1 223.6h0M931.1 278h0M932 232h0M931.9 279.4h0M933 230.5h0M933.2 276.4h0M934 228.3h0M933.4 267.7h0M935.2 233.9h0M934.7 269.4h0M935.5 233.9h0M935.7 267.3h0M936.5 224.1h0M937.1 264.6h0M937.6 230.8h0M937.6 273.4h0M938.4 232.7h0M938.3 269.2h0M939.3 235.6h0M939.4 269h0M940.8 230.1h0M941.8 222.9h0M941.5 273h0M942.8 230.6h0M942.5 274.1h0M943.4 229.6h0M944.1 276.4h0M944.5 229.5h0M944.6 276h0M945.8 229h0M946.2 265h0M946.5 227.3h0M947 269.2h0M948 214h0M948 279.8h0M948.4 226.7h0M948.9 276.8h0M949.5 220.4h0M950 229.1h0M949.6 279.5h0M949.4 267.5h0M950.9 232.1h0M951.2 266.6h0M951.7 218.4h0M952.1 267.7h0M953.2 224.3h0M953 267.8h0M953.5 219.1h0M954 222.6h0M954.2 282.7h0M955.3 216.8h0M955.3 267.2h0M955.5 211.8h0M956 280.3h0M955.5 265.5h0M955.8 204.6h0M956.5 227.8h0M956.4 227.6h0M956.8 281.3h0M957.5 216.7h0M957.3 269.3h0M958.7 215.3h0M958.5 265.5h0M960.1 228.4h0M960.2 264.4h0M961.2 220.6h0M960.8 269.8h0M962.3 230h0M961.7 269h0M962.5 228.5h0M962.6 267.1h0M963.5 226.6h0M963.3 264.1h0M965.3 218.4h0M965 279h0M965.4 227.2h0M966.2 268.4h0M967.2 213.5h0M967 280.3h0M967.7 224.7h0M967.8 266h0M968.8 225.6h0M968.7 279.2h0M970.2 225.7h0M969.6 273.5h0M970.2 279.9h0M970.6 234.7h0M971.3 268.1h0M971.6 231.3h0M972.3 280.5h0M973.3 233h0M972.3 280.9h0M973.3 276h0M973.8 227.3h0M973.4 272.7h0M974.9 234.2h0M974.9 283.3h0M974.8 214.1h0M975.8 229.6h0M975.9 269.7h0M976.4 222.9h0M977.1 222.8h0M977.1 281h0M977.8 215.9h0M978.3 281.5h0M977.8 276.8h0M979.3 215.5h0M978.5 285.6h0M979.4 228.9h0M979.8 275h0M980.5 227.6h0M981.2 269.8h0M981.6 230.6h0M981.5 274.3h0M983.1 228.1h0M983.1 271.5h0M983.5 227.1h0M983.7 274.8h0M984.6 216.8h0M985.1 274.7h0M985.4 223.5h0M985.6 276.4h0M987.1 222.3h0M987.3 275.6h0M987.4 227.1h0M988.1 281.8h0M989.2 229.8h0M988.7 276.1h0M989.4 227.3h0M990 281h0M990.4 226.2h0M990.6 215.7h0M991.1 277.5h0M992.1 221.7h0M991.9 266.1h0M992.5 226.9h0M992.9 264.9h0M993.9 225.8h0M994.1 272.9h0M994.9 230h0M994.8 265h0M995.5 227.2h0M995.6 273.7h0M997.2 220.4h0M996.7 273.6h0M998.1 228.2h0M998.1 279.9h0M999.3 232.4h0M999.2 228.2h0M998.9 269.5h0M999.5 221.8h0M999.6 281.5h0M1001 213.8h0M1001.1 275h0M1000.8 268.8h0M1001.4 225.9h0M1002 224.9h0M1001.8 274.7h0M1001.5 283.4h0M1003.3 228.4h0M1002.6 285h0M1004.1 226.8h0M1004.2 271.4h0M1005.1 231.8h0M1004.6 271h0M1004.7 272.6h0M1005.8 235.4h0M1005.4 285.8h0M1006.5 226.9h0M1006.5 282.6h0M1007.8 232.3h0M1007.4 276.1h0M1008.7 227.1h0M1009.2 272.2h0M1009.7 229.8h0M1009.5 284.9h0M1011 240.2h0M1011 284.7h0M1012.3 282.7h0M1012.3 235.7h0M1012.8 280h0M1014 230.1h0M1014.1 285h0M1014.7 229.4h0M1014.9 278.9h0M1015.5 228.5h0M1015.5 279.5h0M1017 234.8h0M1017.6 229.7h0M1018.2 281.3h0M1019.1 241.8h0M1019.3 287.1h0M1020.1 233h0M1019.4 291.2h0M1020.3 234.8h0M1020.8 283.9h0M1021.7 235.8h0M1021.8 284h0M1022.5 233.2h0M1023.2 274.8h0M1024.2 230.6h0M1023.5 281.3h0M1025 223.5h0M1024.5 285.4h0M1026 233.8h0M1026 282.7h0M1025.4 275h0M1027.3 231.5h0M1026.5 282.5h0M1028.3 236.1h0M1028 230.3h0M1027.3 294.2h0M1028.8 240.4h0M1028.8 234.8h0M1029.3 335.4h0M1028.4 309h0M1029.8 239.1h0M1029.8 221h0M1029.7 332.4h0M1029.7 313.9h0M1030.4 239.4h0M1030.8 244.3h0M1030.7 327.8h0M1031.1 318.1h0M1031.8 221h0M1032.3 232.2h0M1031.4 329.4h0M1031.5 315.2h0M1033.3 236.6h0M1032.8 219.4h0M1033 326.2h0M1033.1 344.3h0M1034.2 222.6h0M1033.8 215.5h0M1033.5 315.9h0M1033.9 319.1h0M1035.3 227h0M1034.5 234.6h0M1034.7 316.9h0M1034.8 342.7h0M1036.3 236.9h0M1036.1 294.2h0M1036 294.1h0M1036.9 234.6h0M1036.5 287.5h0M1036.7 293.4h0M1037.6 238.3h0M1037.7 287.6h0M1038.9 233.9h0M1039.2 284.1h0M1040 226.7h0M1040.1 280.5h0M1040.4 236.7h0M1041 276.7h0M1042.1 226.1h0M1041.6 286.6h0M1042.3 220.4h0M1042.4 274.7h0M1044.2 231.3h0M1043.7 272.7h0M1044.5 231h0M1044.9 223.3h0M1045.3 280.1h0M1044.4 274h0M1046.2 221.9h0M1046.1 274.6h0M1047.3 231.8h0M1046.9 270.7h0M1047.5 224h0M1047.4 271.4h0M1048.9 231.4h0M1049.2 276.7h0M1048.8 212.4h0M1049.9 222h0M1050 229.1h0M1049.9 278.4h0M1049.7 269.2h0M1049.8 297.5h0M1050.3 232.1h0M1050.8 281.3h0M1052 226h0M1051.8 279.2h0M1052.4 227.9h0M1053.3 269.7h0M1053.9 230.7h0M1053.7 280.6h0M1054.9 230.5h0M1054.9 277.2h0M1055.6 224.4h0M1055.6 277.8h0M1056.8 221.7h0M1056.8 267.8h0M1058 234h0M1057.7 273.3h0M1058.5 238.1h0M1058.4 278.4h0M1060.1 229.7h0M1060.6 239.3h0M1061 279.7h0M1061.6 240.1h0M1062.3 279h0M1063 236.6h0M1062.5 270.9h0M1063.3 239.7h0M1064.2 272.2h0M1064.8 241.5h0M1065.1 277.5h0M1066.1 236.6h0M1065.7 277.3h0M1067 243.3h0M1067 288h0M1068.2 240.4h0M1067.4 285.2h0M1068.8 238.9h0M1070.3 234.7h0M1070.3 283.3h0M1070.5 281.6h0M1072.1 230.6h0M1072.1 275.4h0M1072.7 237.5h0M1072.3 279.7h0M1073.7 228.4h0M1074.1 271.1h0M1074.3 282.7h0M1075.4 231.7h0M1076 273.1h0M1076.8 240.9h0M1077 279.3h0M1078.7 235.6h0M1078.5 271.7h0M1079.3 272h0M1081.1 238h0M1080.6 270.6h0M1082 274.4h0M1083.7 246.2h0M1084 274.9h0M1085.3 244.6h0M1084.7 275.6h0M1084.8 284.9h0M1085.7 242.4h0M1087 245.4h0M1087.4 243.9h0M1088.1 270h0M1089.3 238.3h0M1088.7 271.1h0M1090 234.6h0M1089.8 271.6h0M1091.1 232.5h0M1090.6 272h0M1091.9 272.6h0M1092.7 265.3h0M1094.3 265.7h0M1094.3 236h0M1094.8 278.6h0M1096 235.8h0M1095.8 268h0M1096.3 234.5h0M1096.4 271.8h0M1096.8 228.4h0M1098.7 273.5h0M1100.2 234.5h0M1099.5 276.3h0M1101.1 239.7h0M1101.3 284.5h0M1101.7 238.1h0M1101.4 275.5h0M1103 237.8h0M1102.9 268.3h0M1103.3 236.1h0M1104.1 274.3h0M1104.9 230.2h0M1104.7 279.6h0M1105.6 230.7h0M1106.1 276.8h0M1106.6 227.3h0M1107.2 278.7h0M1107.9 226.5h0M1107.5 270.5h0M1109.2 236.9h0M1109.3 270.5h0M1110.2 231.3h0M1110.3 272.1h0M1110.5 226.9h0M1111.2 270.2h0M1111.7 237.9h0M1111.5 268.8h0M1112.5 234.7h0M1112.7 270.8h0M1113.6 237.1h0M1113.4 278.8h0M1114.6 235.3h0M1114.5 278h0M1116.3 272.2h0M1116.7 243h0M1118.2 246.8h0M1118.4 245.4h0M1118.9 286.7h0M1119.7 232.5h0M1120.3 275.9h0M1121 237.5h0M1120.4 284.3h0M1121.5 232.8h0M1121.5 281.8h0M1123 238.3h0M1122.8 283.9h0M1123.4 229.7h0M1124.3 280h0M1124.6 240.1h0M1125.3 279.7h0M1126 234.6h0M1125.9 287.9h0M1126.9 285.4h0M1127.8 241.9h0M1127.6 290.3h0M1129.1 251.4h0M1128.8 284.9h0M1129.4 237.7h0M1130.1 303.8h0M1130.5 246.3h0M1131.1 243.2h0M1130.5 315.1h0M1130.4 321.1h0M1132.2 240.5h0M1131.7 330.1h0M1131.4 315.2h0M1132.8 259.1h0M1132.7 252h0M1132.7 316.8h0M1132.5 326.5h0M1134.2 241.7h0M1134.2 251.9h0M1133.6 325h0M1134.7 254.2h0M1134.8 231.8h0M1135 317.6h0M1134.6 326.3h0M1135.6 251.7h0M1136.1 246.7h0M1136 332.8h0M1137 240.6h0M1136.4 311h0M1137.5 248.7h0M1137.8 248.3h0M1137.5 311.3h0M1138.1 292.8h0M1139.3 248.8h0M1139.1 247.6h0M1139.2 293.3h0M1139.7 227.8h0M1139.5 244.2h0M1139.4 290.4h0M1141.1 234.5h0M1140.3 288.4h0M1140.4 291.5h0M1141.7 247.9h0M1141.4 295.4h0M1141.9 290.3h0M1142.4 248.8h0M1143.1 248.9h0M1142.9 289h0M1144.1 237.5h0M1143.7 289.8h0M1144.9 240.5h0M1144.5 290.4h0M1144.8 303.2h0M1145.8 243.6h0M1146.1 286.2h0M1145.8 226.1h0M1146.5 246.9h0M1146.5 295.8h0M1148 248.4h0M1148.1 283.7h0M1148.8 239.2h0M1148.5 290.7h0M1149.5 237.7h0M1150 286.1h0M1151.3 241.7h0M1150.6 277.5h0M1151.9 243.6h0M1151.4 277.1h0M1152.4 242.8h0M1152.9 286.6h0M1153.6 228.8h0M1154 275.2h0M1154.6 240.2h0M1155 289.6h0M1155.6 240.6h0M1155.7 290.1h0M1155.4 290.7h0M1155.8 310.9h0M1156.4 248.5h0M1156.7 309.7h0M1158.2 235h0M1158.3 310.9h0M1157.8 332.4h0M1158.5 257.1h0M1159.3 319h0M1158.3 313.1h0M1158.8 335h0M1160 247.7h0M1160.1 250.7h0M1160.3 302.5h0M1160.5 257.5h0M1161.2 304h0M1160.5 316h0M1161.6 250.5h0M1161.7 297.5h0M1163.2 256.7h0M1163.2 295.2h0M1164.1 300.1h0M1164.5 257.2h0M1165.3 289.8h0M1165.4 243.1h0M1166.9 250h0M1166.6 291.8h0M1168.2 243.7h0M1167.5 289.5h0M1168.7 241h0M1168.8 296.6h0M1169.8 253.4h0M1169.7 291.5h0M1170.3 254.5h0M1170.6 301.8h0M1171.6 256.2h0M1171.8 289.9h0M1172.9 254.1h0M1173 295.3h0M1173.9 252.3h0M1173.5 298.3h0M1174.9 257.6h0M1175 289.7h0M1174.8 308.8h0M1175.6 297.9h0M1177.2 247.7h0M1177.2 300.9h0M1177.8 249.6h0M1177.8 295h0M1178.7 252.8h0M1178.6 290.7h0M1180.2 249.1h0M1180.3 295.8h0M1181.3 238.8h0M1180.8 288.6h0M1181.5 245.7h0M1181.7 281.4h0M1183.2 236.6h0M1182.8 284.3h0M1183.5 227.4h0M1183.6 276.3h0M1183.8 220.2h0M1184.8 239h0M1184.8 277.7h0M1186.2 236.4h0M1186 282.4h0M1187.3 234.2h0M1187 278.8h0M1186.8 212.7h0M1188 228.5h0M1187.7 235.4h0M1187.5 288.3h0M1188.6 232.1h0M1188.5 281.4h0M1189.3 227.4h0M1189.4 240.3h0M1190.2 294h0M1190.8 236.8h0M1191.2 293.2h0M1192.2 242.7h0M1191.5 281h0M1193.2 242.1h0M1192.9 290.8h0M1194.3 237.1h0M1193.9 283.5h0M1194.4 238.7h0M1195 296h0M1195.8 241.4h0M1195.4 302.1h0M1196.7 251.5h0M1197.1 296.2h0M1197.6 254h0M1197.7 293h0M1199.3 261.8h0M1198.7 298.9h0M1200.1 249.2h0M1200.3 308.7h0M1201.2 298.8h0M1201.4 264.7h0M1202.2 296h0M1203.1 254.1h0M1203.2 296.5h0M1203.7 243.9h0M1204 310h0M1204.4 240.9h0M1204.5 304h0M1206 240.8h0M1206.3 254.9h0M1206 299.3h0M1206.8 245.8h0M1206.9 254h0M1207.3 299.1h0M1206.9 296h0M1208.2 251.3h0M1207.7 293.7h0M1207.8 230.3h0M1208.3 252.3h0M1209 293.3h0M1209.9 253h0M1209.8 302.1h0M1210.3 246h0M1211 293.1h0M1212.2 249.9h0M1212 301.9h0M1213.3 244.8h0M1212.6 306h0M1213.8 257.4h0M1213.6 290.9h0M1214.6 250.7h0M1214.9 305.9h0M1215.9 258.1h0M1216.2 292h0M1216.8 249.3h0M1216.9 293.6h0M1217.4 254.1h0M1217.3 295.8h0M1219.3 246.9h0M1219.3 302.5h0M1219.5 242.9h0M1220.1 298.7h0M1221.3 250.9h0M1221 288.3h0M1221.6 249.5h0M1222.1 284h0M1222.3 242.6h0M1222.3 233.1h0M1223.3 289.4h0M1223.7 246.9h0M1224.2 287.7h0M1223.4 295.1h0M1225.3 241.4h0M1224.5 231.8h0M1224.8 285.1h0M1224.5 294.5h0M1226.1 230.2h0M1225.6 286.6h0M1226.3 228.1h0M1226.7 285.2h0M1226.6 291.4h0M1228.1 237.7h0M1228.1 283h0M1228.9 235.2h0M1228.9 232.7h0M1228.6 282h0M1229.5 224.4h0M1229.7 278.6h0M1230.2 279.4h0M1231.2 219.2h0M1231 278.1h0M1231.8 238h0M1231.7 282.2h0M1233.1 242.6h0M1232.5 293h0M1234 243h0M1233.7 289.6h0M1234.5 244.5h0M1234.8 280.8h0M1235.5 242.3h0M1236.6 245h0M1236.6 279.4h0M1238.2 245.1h0M1238.2 273.1h0M1239 236.4h0M1240.1 246.1h0M1240.2 281h0M1241 279.5h0M1241.4 278.4h0M1242.6 244.8h0M1243.2 288h0M1243.9 245.6h0M1243.5 280.4h0M1245.1 244.5h0M1245 284.5h0M1245.5 249.4h0M1246.2 286.1h0M1246.7 250h0M1248.3 243.5h0M1247.6 296.2h0M1248.6 293.8h0M1249.5 290.2h0M1250.5 253.5h0M1252.2 249.7h0M1251.5 285.4h0M1253.2 246.8h0M1255.2 250h0M1255.2 280h0M1255.7 249.8h0M1257.1 269.7h0M1257.6 247.2h0M1258.7 274.1h0M1259.5 270.5h0M1261.3 271.2h0M1262.7 249.3h0M1262.6 274.3h0M1264.3 248.5h0M1265.9 273.4h0M1266.7 248.4h0M1266.6 279.6h0M1267.4 250.2h0M1267.9 273.9h0M1268.8 296.2h0M1270.3 254.5h0M1269.6 285.3h0M1270.4 254.5h0M1270.4 301h0M1272.3 249.8h0M1272.1 310.3h0M1271.5 295.6h0M1273.3 251.5h0M1273.3 303.6h0M1272.8 325.2h0M1273.4 251.4h0M1273.6 303.6h0M1274.8 256.4h0M1275 303.4h0M1275.8 257.3h0M1276.7 278.2h0M1277.4 251.6h0M1279.5 271.3h0M1281 246.2h0M1280.7 272h0M1282.1 245.1h0M1284.3 244.9h0M1284.1 275.8h0M1284.5 250.1h0M1284.5 288.9h0M1285.5 249.1h0M1286.1 309.6h0M1286.9 256.1h0M1286.6 310.7h0M1288.2 247.8h0M1287.7 304.8h0M1288.9 254.7h0M1289 255.5h0M1288.5 298h0M1289.4 260.6h0M1289.5 299.8h0M1290.9 255.2h0M1290.7 307.2h0M1291.8 262.7h0M1291.7 312.5h0M1293.3 261h0M1292.9 301.8h0M1293.9 259.9h0M1293.5 306.6h0M1295.2 248.4h0M1294.6 309.7h0M1295.7 265.2h0M1295.6 260h0M1295.8 309.6h0M1295.8 310.3h0M1297.2 262.3h0M1297 308h0M1297.1 317.1h0M1298.1 249.3h0M1297.7 322.5h0M1298.7 264.8h0M1298.7 313.1h0M1300 248.8h0M1299.8 309.9h0M1301.2 260.6h0M1300.6 295.3h0M1301.5 249.9h0M1302.5 285.6h0M1303.4 256.8h0M1303.4 282.7h0M1306.3 256h0M1305.9 275.2h0M1307.3 253h0M1307.6 253.3h0M1307.8 274.8h0M1309 252.8h0M1310.2 275.5h0M1310.8 275.9h0M1312.1 276.4h0M1313.1 280h0M1314 274.7h0M1316.9 246.6h0M1317.5 253.9h0M1317.8 290.2h0M1318.4 285.8h0M1320.3 248.4h0M1319.5 299.3h0M1320.7 258.6h0M1321 288.5h0M1320.8 229.8h0M1321.5 256.3h0M1321.4 296.8h0M1323.2 258.2h0M1323.1 291.7h0M1323.9 253h0M1324 297.1h0M1325.3 256.3h0M1324.4 308h0M1326.1 263.4h0M1325.5 311.5h0M1326.9 268.9h0M1326.8 267h0M1326.6 330.1h0M1326.4 325.4h0M1328.2 259.5h0M1327.6 252.8h0M1328.1 313.7h0M1329.1 269.8h0M1328.5 320.6h0M1328.4 313.5h0M1329.9 258h0M1330 327.7h0M1330.6 256.3h0M1331.1 324.3h0M1331 315.9h0M1332.2 257h0M1332 326.1h0M1332.5 266.6h0M1332.7 315.6h0M1333.3 318.3h0M1334.3 249.8h0M1333.7 311.1h0M1333.8 242h0M1335 262.5h0M1335.2 268h0M1334.9 323h0M1336.2 250h0M1335.8 322.6h0M1337.1 246.2h0M1336.7 325.1h0M1337.7 256.8h0M1338 307.6h0M1338.7 251h0M1339.3 311.6h0M1339.7 265.5h0M1340 250.5h0M1339.9 305.2h0M1339.7 316.1h0M1340.9 254.5h0M1341.2 307.1h0M1342.1 266.3h0M1341.4 308.9h0M1342.9 262.3h0M1342.8 302.1h0M1343.7 262.3h0M1343.8 305.2h0M1344.5 256.8h0M1345.3 309.7h0M1345.9 257h0M1345.5 308.6h0M1346.7 254.7h0M1347.1 304.8h0M1348.2 266.3h0M1347.8 305.3h0M1348.8 264.8h0M1349 298.2h0M1350 252.7h0M1349.9 295.4h0M1351 257h0M1350.6 296.5h0M1351.4 253.2h0M1351.5 297.2h0M1352.7 258.2h0M1353.1 307.7h0M1353.9 254.3h0M1353.5 308.3h0M1354.6 265h0M1355.2 297.3h0M1355.3 261h0M1355.6 299.7h0M1357.1 263.2h0M1356.9 309.8h0M1358.2 261.7h0M1358.1 316.6h0M1358.7 256h0M1358.8 329.9h0M1359.8 272.4h0M1360.1 270.6h0M1360 337.4h0M1360.3 273.5h0M1360.6 267.2h0M1361 347.4h0M1360.6 337.7h0M1362.1 250.4h0M1362.1 273.2h0M1362.3 335.2h0M1362.6 268.4h0M1362.9 334.7h0M1363 334.8h0M1364.3 274.3h0M1363.7 251h0M1364 335.9h0M1363.8 244.5h0M1364.8 266.3h0M1365.2 254.1h0M1364.4 348.3h0M1365 334.9h0M1366.1 271.2h0M1365.6 264.3h0M1365.5 352.9h0M1366.9 273.8h0M1367 266.1h0M1367.1 331.9h0M1368 268.9h0M1367.9 326.6h0M1367.8 241.6h0M1368.3 274.3h0M1368.4 327.1h0M1368.9 321.3h0M1370.3 255.4h0M1369.4 320h0M1370.8 274.1h0M1371.2 332h0M1371.8 262.6h0M1372.1 335.5h0M1372.3 264.4h0M1373.2 332.7h0M1373.9 256.1h0M1373.6 319.4h0M1374.9 255.2h0M1375.1 316.4h0M1376.2 264.5h0M1375.9 317.7h0M1376.6 263.9h0M1376.8 250.5h0M1377.3 316.7h0M1377.7 263.6h0M1377.3 320.6h0M1377.8 335.9h0M1378.9 257.7h0M1378.9 315.3h0M1378.4 316.2h0M1380.3 270.6h0M1380.3 320.8h0M1381.2 256.7h0M1380.5 310.5h0M1380.7 316.3h0M1381.3 261h0M1382.1 261h0M1382.2 310.1h0M1382.7 271.5h0M1382.6 261.9h0M1382.4 316.8h0M1383.5 258.7h0M1384.2 321.7h0M1384.7 259.9h0M1385.3 313.5h0M1385.7 259.7h0M1386.2 306.7h0M1386.7 268.7h0M1387 310.4h0M1388.2 262.1h0M1388.2 309.4h0M1388.4 257.4h0M1389.2 299.6h0M1390 256.4h0M1389.4 305.4h0M1390.6 261.6h0M1390.3 301.1h0M1390.8 309.3h0M1391.4 254.5h0M1391.6 300.8h0M1393.3 253.1h0M1392.7 292.1h0M1394.1 260.7h0M1393.7 306.3h0M1394.5 261.3h0M1394.8 300h0M1394.8 319.6h0M1396.1 254.9h0M1395.7 293.6h0M1396.7 259.2h0M1396.9 303.3h0M1398.1 262.3h0M1397.6 298.9h0M1398.5 257.4h0M1399.1 309.5h0M1398.8 314.8h0M1400 248.3h0M1400.1 308.7h0M1400.4 262.8h0M1400.7 304.8h0M1401.7 263.8h0M1401.4 305.1h0M1403.2 258.7h0M1403.2 312.2h0M1403.3 302.2h0M1403.9 266.6h0M1404.2 314.2h0M1404.5 258.9h0M1404.8 309.5h0M1406 265.6h0M1406.3 320.6h0M1407.1 258.3h0M1406.9 305.3h0M1407.9 260.6h0M1408.1 312.2h0M1407.8 242.8h0M1408.7 270.6h0M1410.2 270.8h0M1409.8 312.8h0M1410.7 264.4h0M1410.5 304.5h0M1411.6 267.3h0M1411.9 312.5h0M1413 270h0M1412.7 312.3h0M1413.4 270.7h0M1413.8 302.4h0M1415.3 267.2h0M1415.4 300.7h0M1416.5 267.4h0M1417.5 270.1h0M1417.8 299.2h0M1419.2 267h0M1418.5 304.5h0M1420.2 266.7h0M1421.1 264.4h0M1421 298.8h0M1420.8 239.2h0M1422.3 261.4h0M1423 296.2h0M1423.4 262.8h0M1423.3 297.8h0M1424.9 270h0M1426.2 262.1h0M1425.5 302h0M1426.5 269h0M1428 298.1h0M1428.9 268.4h0M1429.2 298.6h0M1429.5 265.9h0M1429.6 296.2h0M1430.7 306.8h0M1432.1 254.3h0M1431.6 299.2h0M1432.4 265.6h0M1432.4 297.7h0M1433.8 258.9h0M1433.8 298h0M1434.8 260.1h0M1434.9 297.8h0M1436.2 265.3h0M1436.2 297.4h0M1436.7 296.5h0M1438 257.5h0M1437.8 299.5h0M1439.3 258.8h0M1439.1 303.1h0M1439.4 266h0M1439.9 307.9h0M1441 254.4h0M1440.7 302h0M1442 258.1h0M1441.5 308.2h0M1443.2 259.2h0M1442.5 301.5h0M1443.7 265.6h0M1443.8 313h0M1444.4 264.2h0M1444.6 313.4h0M1445.5 313.9h0M1447.3 265h0M1447.3 317.2h0M1447.8 264.8h0M1447.4 316h0M1449.2 266.5h0M1448.4 314.6h0M1450.3 269.3h0M1449.4 314.3h0M1450.7 310h0M1452.1 270.5h0M1451.8 307.2h0M1452.5 268.4h0M1452.5 310.2h0M1454.3 309.5h0M1454.4 262.5h0M1454.6 306.2h0M1456.1 263.9h0M1455.9 308.5h0M1456.7 272.3h0M1456.5 319.1h0M1458.1 280.8h0M1457.4 321.7h0M1458.7 276.3h0M1458.5 318.7h0M1459.8 283.6h0M1459.9 332.8h0M1461.3 288.5h0M1460.6 330.8h0M1462 287.7h0M1462.2 332h0M373.4 216.5h0M372.9 205.2h0M379.7 201.7h0M385.8 209h0M374.5 203h0M370.7 214h0M380.1 223.4h0M384.4 201.3h0M383.2 211.3h0M384.9 209.9h0M374.2 196.7h0M365.9 226.1h0M374.3 215.1h0M383.4 203.1h0M383.6 206.1h0M384.7 201.4h0M373.5 215.1h0M378.4 204.7h0M371.1 214.3h0M370.1 214.4h0M381.6 222.1h0M384.7 208.8h0M368.7 212.8h0M369.1 218.4h0M372.3 207.4h0" fill="none" stroke="#1f77b4" stroke-width="5.6" stroke-linecap="round"/>
<path d="M116.8 292.4L118.9 284.7L120.8 281.3L122.3 290.7L123.3 300.1L124.5 296.7L126.2 315.4L127.9 293.2L130.5 293.2L132.2 302.6L133.9 312.9L136.5 322.3L139 302.6L141.1 300.9L142.4 303.5L143.8 293.8L145.3 309.5L147.2 330.8L149.6 312.9L152.7 300.1L154.7 302.6L156.1 301.8L157.8 309.5L159 315.4L160.3 306L162.9 321.4L165.5 323.1L168.5 327.4L170.1 316.3L171.6 299.2L173.1 307.7L175.7 306.9L178.3 285.6L180.5 272.8L182.5 277L185.1 295.8L187.1 287.3L189.4 302.6L191.6 312.9L193.6 309.5L196.2 290.7L198.7 275.3L201 270.2L203 289L205.6 271.9L208.5 258.3L210.7 271.9L213.2 286.4L215.8 286.4L219.2 263.4L222.6 244.6L224.7 241.2L226.6 246.3L228.6 239.5L230.3 254.8L232.4 275.3L234.1 258.3L235.9 239.5L238 253.1L239.2 263.4L241.4 258.3L244 246.3L246 240.3L248.2 246.3L250.8 256.6L252.8 260.8L254.7 249.7L256.4 246.3L257.6 234.4L259.3 254.8L260.5 263.4L262.4 268.5L263.6 273.6L264.4 270.2L265.8 287.3L267.3 300.9L269 285.6L270.8 265.1L272.1 258.3L273.8 266.8L276.4 285.6L278.6 271.9L280.3 268.5L282.4 254.8L283.5 249.7L284.9 263.4L286.3 261.7L288 280.4L289.5 293.2L291.2 278.7L293.4 277L296 261.7L298.6 246.3L301.1 232.7L302.8 241.2L303.2 240.2L304 248L304.7 250.5L305.1 258.3L305.6 269.2L305.9 291.9L306.9 336.3L308.3 360.2L309.5 373.9L310.7 353.4L311.7 341.4L312.9 327.8L314.1 316.7L315.5 331.2L318 326.1L320.6 307.3L323.2 302.2L324.9 297.1L326.6 288.5L327.9 302.2L329.5 325.2L331.2 291.9L332.9 316.7L334.6 321L336 320.1L337.7 297.1L338.5 278.6L339.7 295.4L340.7 308.2L341.9 290.2L342.8 281.2L344 290.2L345 300.5L346.2 319.2L348.2 336.3L350.5 350L352.7 334.6L354.7 331.2L356.8 294.5L359 326.1L360.7 310.7L362.4 315.8L364.1 293.7L365.8 296.2L367.5 286.8L368.4 284.6L369.6 290.2L370.9 272.7L372.1 297.1L373.2 319.2L374 286.8L375.2 279.1L376.9 277.8L379.1 265.8L381.2 274.4L382.9 278.6L385.4 276.1L388 264.1L389.7 260.4L391.4 261.5L393.1 264.1L394.8 260.6L397.4 260.6L414.5 260.6L420.4 261.2L421.6 258.9L423.8 264.1L426.4 258.1L429 260.6L431.5 259.8L433.2 258.6L435.3 262.7L437.5 259.8L441.8 260.6L446 259.3L448.6 261.2L452 262L454.6 259.8L458.8 260.6L469.1 261.2L474.2 260.3L487.8 260.6L490.4 258.9L492.6 261.2L499.8 261L516.8 260.6L523.7 261.2L525.7 262.4L527.9 260.6L545 260.3L546.8 261.1L553.7 261.1L555.9 259.4L557.9 261.1L577.5 261.1L579.8 257.6L581.8 261.1L596.3 261.6L597.7 263.3L599.4 261.1L633 261.1L634.7 258.8L636.8 261.1L666.3 261.1L669.7 260.2L672.3 261.4L690.2 260.5L693.6 261.4L710.6 261.1L727.7 260.7L744.8 261.2L755.9 261.1L758.5 260.9L760.6 257.1L762.8 263.9L764.5 243.5L766.2 228.1L767.9 197.4L769.1 176.9L771.3 176.9L773 170.1L775.1 167.5L776.5 175.2L778.2 190.6L779.9 193.1L781.6 183.7L783.3 175.2L784.6 190.6L785.8 202.5L787.5 195.7L789.6 192.3L791.8 181.2L793.5 197.4L795.2 200.8L796.9 214.5L798.6 223.8L800.3 211L802 205.9L803.8 206.8L805.5 214.5L807.2 217L809.7 216.5L812.3 217L814.8 217.5L817.4 221.3L818.6 228.1L820.3 219.6L822 227.3L823.7 219.6L825.1 214.5L826.8 224.7L828.5 229L830.2 226.4L832.8 224.7L834.5 229.8L837 234.9L838.7 236.6L840.4 228.1L842.7 236.6L845.1 236.6L847.3 229.8L849.8 236.6L852.4 234.1L854.4 236.6L856.7 233.2L859.2 234.9L861.8 251.1L864.3 241.8L867.2 235.8L869.5 248.6L871.2 254.6L873.2 248.6L876.3 248.6L879.2 258L881.4 252.8L884 251.1L886 246.9L888.2 251.1L890.3 249.4L892.5 243.5L895.1 245.2L897.6 240.1L899.3 246.9L901 234.1L903.1 260.5L905.3 238.3L907 260.5L909.6 249.4L912.1 251.1L914.7 252.8L917.2 250.3L919.8 254.6L922.4 256.3L924.9 252.8L927.5 251.1L930 250.3L931.2 245.2L933.4 256.3L936 252L938.6 250.3L940.8 260.5L942.8 255.4L945.4 252L948 260.5L950 253.7L952.2 259.7L954.8 255.4L957 246.9L959 256.3L961.6 253.7L964.2 254.6L966.7 259.7L969.3 251.1L971.3 256.3L973.5 252L976.1 255.4L978.7 252L981.2 252L983.8 254.6L986.3 257.1L988.9 253.7L991 251.1L993.2 256.3L995.7 253.7L1000 256.3L1000.1 256.3L1002.7 249.4L1004.4 256.3L1006.1 263.9L1007.8 255.4L1010.4 253.7L1012.1 258.8L1013.8 256.3L1016.3 250.3L1018 258L1020.6 259.7L1023.2 255.4L1025.7 257.1L1028.3 250.3L1029.6 267.4L1030.8 295L1032.2 282.7L1033.4 265.6L1034.6 258.8L1036.8 256.3L1039 258.8L1040.6 265.6L1042.4 245.2L1044.5 257.1L1046.2 259.7L1048.8 253.7L1050.5 256.3L1053.5 246.9L1055.6 258.8L1056.8 265.6L1059 261.4L1062.4 254.6L1065 259.7L1067.5 256.3L1070.1 258L1073.5 255.4L1075.2 252.8L1077.3 260.5L1079.5 254.6L1081.2 258L1083.4 252.8L1086 268.2L1088 261.4L1090.6 258.8L1093.1 253.7L1094.8 247.7L1096.9 255.4L1099.1 257.1L1102.5 251.1L1105.1 258L1107.6 259.7L1111 258.8L1112.7 252L1114.5 259.7L1117 254.6L1118.7 258.8L1121.3 254.6L1123.8 258.8L1126.4 248.6L1128.1 258.8L1130.7 270.8L1132.4 280.2L1134.4 267.4L1136.3 258.8L1137.5 272.5L1139.2 263.9L1140.6 245.2L1142.6 258.8L1145.2 253.7L1147.7 261.4L1149.4 258L1151.1 265.6L1153.7 258.8L1155.8 253.7L1157.1 267.4L1159.2 291.2L1161.4 267.4L1163.1 269.1L1166 252.8L1168.2 271.6L1170.8 260.5L1173.3 265.6L1175.9 269.1L1177.9 263.9L1180.2 258.8L1182.7 267.4L1184.8 246L1187 270.8L1189.5 258.8L1192.1 255.4L1193.8 263.9L1195.5 255.4L1197.2 281L1199.3 287.8L1201 295L1202.3 282.7L1204 274.2L1206.6 279.3L1209.2 270.8L1210.9 274.2L1213.4 261.4L1216 278.4L1218.5 274.2L1221.1 265.6L1223.7 263.1L1227.1 263.9L1229.6 256.3L1232.2 264.8L1235.6 259.7L1238.2 263.1L1240.7 259.7L1243.3 265.6L1245 263.9L1247.4 266.5L1249.1 269.9L1251.2 261.4L1253.4 265.7L1256 264.8L1258.5 262.3L1261.1 263.1L1264.5 261.4L1267 259.7L1269.6 268.2L1271.3 262.3L1273.4 267.4L1276.4 263.1L1279 258L1281.6 263.1L1284.1 262.3L1285.8 272.5L1287.5 259.7L1289.2 271.6L1290.9 259.7L1292.6 264L1295.2 266.5L1296.9 271.6L1298.6 286.1L1300.3 266.5L1302 263.1L1304.1 265.7L1306.3 261.4L1308.9 262.3L1311.4 261.4L1314 263.1L1316.5 262.3L1319.1 264.8L1321.7 269.9L1324.2 269.1L1326.8 269.9L1328.5 264.8L1331 261.4L1333.1 293L1335 266.5L1336.5 275.1L1338.2 264.8L1339.6 260.5L1341.6 266.5L1343.8 276.8L1346.1 266.5L1348.1 263.1L1349.8 269.9L1352 289.6L1353.6 278.5L1355.3 296.4L1357.5 262.3L1359.2 281.9L1360.6 291.3L1362.1 280.2L1363.8 312.6L1365.7 258L1367.7 322.8L1369.4 269.9L1370.6 292.1L1372.8 264.8L1375.4 290.4L1378 268.2L1380.2 304.1L1382.6 285.3L1384.8 298.9L1387.4 275.1L1389.1 278.5L1390.8 274.2L1393.3 287L1395.9 287L1397.6 262.3L1399.3 275.1L1401.9 283.6L1403.6 270.8L1406.1 309.2L1407.8 293.8L1410.4 296.4L1412.6 291.3L1414.3 298.1L1416.4 286.1L1418.9 297.2L1422.3 281.9L1424.9 294.7L1427.5 290.4L1430 283.6L1432.6 280.2L1434.3 285.3L1436 278.5L1438.5 288.7L1441.1 298.9L1443.3 288.7L1445.4 298.9L1447.9 305.8L1450.2 287.8L1452.2 298.9L1453.9 293.8L1456 314.3L1458.2 310.9L1460.7 314.3L1462.4 314.6" fill="none" stroke="#ff7f0e" stroke-width="2.35" stroke-linejoin="round" stroke-linecap="butt"/></g>
<rect x="116.5" y="38.5" width="1346.0" height="480.0" fill="none" stroke="#000" stroke-width="1.1"/>
<line x1="116.50" y1="518.5" x2="116.50" y2="523.7" class="t"/>
<line x1="284.50" y1="518.5" x2="284.50" y2="523.7" class="t"/>
<line x1="452.50" y1="518.5" x2="452.50" y2="523.7" class="t"/>
<line x1="621.50" y1="518.5" x2="621.50" y2="523.7" class="t"/>
<line x1="789.50" y1="518.5" x2="789.50" y2="523.7" class="t"/>
<line x1="957.50" y1="518.5" x2="957.50" y2="523.7" class="t"/>
<line x1="1125.50" y1="518.5" x2="1125.50" y2="523.7" class="t"/>
<line x1="1294.50" y1="518.5" x2="1294.50" y2="523.7" class="t"/>
<line x1="111.3" y1="58.50" x2="116.5" y2="58.50" class="t"/>
<text x="105.0" y="66.40" text-anchor="end" font-size="22.22">1.0</text>
<line x1="111.3" y1="159.50" x2="116.5" y2="159.50" class="t"/>
<text x="105.0" y="167.40" text-anchor="end" font-size="22.22">0.5</text>
<line x1="111.3" y1="260.50" x2="116.5" y2="260.50" class="t"/>
<text x="105.0" y="268.40" text-anchor="end" font-size="22.22">0.0</text>
<line x1="111.3" y1="362.50" x2="116.5" y2="362.50" class="t"/>
<text x="105.0" y="370.40" text-anchor="end" font-size="22.22">−0.5</text>
<line x1="111.3" y1="463.50" x2="116.5" y2="463.50" class="t"/>
<text x="105.0" y="471.40" text-anchor="end" font-size="22.22">−1.0</text>
<rect x="1047.6" y="48.8" width="406.2" height="79.2" rx="3.6" ry="3.6" fill="#fff" fill-opacity="0.8" stroke="#ccc" stroke-opacity="0.8" stroke-width="1.3"/>
<circle cx="1073.4" cy="63.5" r="2.95" fill="#1f77b4"/>
<line x1="1052.9" y1="101.7" x2="1092.1" y2="101.7" stroke="#ff7f0e" stroke-width="2.08"/>
<text x="1106.2" y="69.2" font-size="18.52">Raw Data</text>
<text x="1106.2" y="95.9" font-size="18.52">Butterworth Filtered Data</text>
<text x="1106.2" y="117.1" font-size="18.52">(N=6, Tc=3.3333 min, Type: low)</text>
<rect x="116.5" y="575.5" width="1346.0" height="479.0" fill="#fff"/>
<rect x="736.3" y="575.5" width="708.5" height="479.0" fill="#d3d3d3" fill-opacity="0.5"/>
<line x1="284.50" y1="575.5" x2="284.50" y2="1054.5" class="g"/>
<line x1="452.50" y1="575.5" x2="452.50" y2="1054.5" class="g"/>
<line x1="621.50" y1="575.5" x2="621.50" y2="1054.5" class="g"/>
<line x1="789.50" y1="575.5" x2="789.50" y2="1054.5" class="g"/>
<line x1="957.50" y1="575.5" x2="957.50" y2="1054.5" class="g"/>
<line x1="1125.50" y1="575.5" x2="1125.50" y2="1054.5" class="g"/>
<line x1="1294.50" y1="575.5" x2="1294.50" y2="1054.5" class="g"/>
<line x1="116.5" y1="629.50" x2="1462.5" y2="629.50" class="g"/>
<line x1="116.5" y1="729.50" x2="1462.5" y2="729.50" class="g"/>
<line x1="116.5" y1="830.50" x2="1462.5" y2="830.50" class="g"/>
<line x1="116.5" y1="931.50" x2="1462.5" y2="931.50" class="g"/>
<line x1="116.5" y1="1032.50" x2="1462.5" y2="1032.50" class="g"/>
<g clip-path="url(#c2)"><path d="M116.6 1001L118.6 1001.9L120.6 1002.9L122.6 1004L124.6 1001.3L126.6 996.7L128.6 997.2L130.6 1005.1L132.6 1009.9L134.6 1008.7L136.6 1004.7L138.6 1004L140.6 1003.3L142.6 997.1L144.6 995.7L146.6 1001L148.6 1000.3L150.6 999.5L152.6 998.6L154.6 997.4L156.6 996L158.6 989.3L160.6 988.6L162.6 992.5L164.6 996.3L166.6 998.2L168.6 1002.2L170.6 1004.7L172.6 1006.1L174.6 1009.3L176.6 1002.2L178.6 984.3L180.6 978.9L182.6 978.6L184.6 978.6L186.6 984.4L188.6 987.5L190.6 985.2L192.6 983.7L194.6 983.6L196.6 983.6L198.6 987.7L200.6 997.8L202.6 999.2L204.6 999.3L206.6 999L208.6 998.8L210.6 998.1L212.6 993.2L214.6 990.5L216.6 966.3L218.6 966.3L220.6 966.3L222.6 966.3L224.6 966.3L226.6 989.8L228.6 990.9L230.6 983.2L232.6 981.7L234.6 981.6L236.6 981.5L238.6 981.5L240.6 981.5L242.6 990.4L244.6 993.7L246.6 993.9L248.6 987.2L250.6 978.8L252.6 978.7L254.6 978.7L256.6 978.7L258.6 978.7L260.6 979L262.6 989.1L264.6 966.7L266.6 965.7L268.6 965.7L270.6 965.6L272.6 965.6L274.6 965.6L276.6 981L278.6 988.3L280.6 980L282.6 963.1L284.6 959.7L286.6 957.3L288.6 954.9L290.6 953.8L292.6 953.8L294.6 953.8L296.6 955.4L298.6 957.5L300.6 960.4L302.6 963.8L304.6 966.8L306.6 968.4L308.6 969.7L310.6 1014.3L312.6 1003.3L314.6 1005.7L316.6 1007.3L318.6 1006.3L320.6 1009.3L322.6 1014.5L324.6 1015.2L326.6 1015.8L328.6 1015L330.6 1013.5L332.6 1013.5L334.6 1013.5L336.6 1013.7L338.6 1014.2L340.6 1014.7L342.6 1015.2L344.6 1015.7L346.6 1016.7L348.6 1018.7L350.6 1020.7L352.6 1020.7L354.6 1020.2L356.6 1019.7L358.6 1019.3L360.6 1019.1L362.6 1018.8L364.6 1018.6L366.6 1020.6L368.6 1021.7L370.6 1020.7L372.6 1019.7L374.6 1020.7L376.6 1022.4L378.6 1023.8L380.6 1024.3L382.6 1024.8L384.6 1025.3L386.6 1025.2L388.6 1025L390.6 1024.8L392.6 1024.6L394.6 1024.8L396.6 1025.2L398.6 1025.6L400.6 1026L402.6 1026.2L404.6 1026L406.6 1025.9L408.6 1025.7L410.6 1025.5L412.6 1025.4L414.6 1025.7L416.6 1025.9L418.6 1026.2L420.6 1025.8L422.6 1025.3L424.6 1024.8L426.6 1024.8L428.6 1025.3L430.6 1025.8L432.6 1026.2L434.6 1025.9L436.6 1025.7L438.6 1025.4L440.6 1025.1L442.6 1024.8L444.6 1024.6L446.6 1025L448.6 1025.4L450.6 1025.8L452.6 1026.2L454.6 1026.2L456.6 1026.2L458.6 1026.2L460.6 1026.2L462.6 1026.2L464.6 1026.2L466.6 1026.2L468.6 1026.2L470.6 1026.3L472.6 1026.3L474.6 1026.3L476.6 1026.4L478.6 1026.4L480.6 1026.5L482.6 1026.5L484.6 1026.5L486.6 1026.6L488.6 1026.5L490.6 1026.5L492.6 1026.5L494.6 1026.4L496.6 1026.4L498.6 1026.3L500.6 1026.3L502.6 1026.3L504.6 1026.3L506.6 1026.3L508.6 1026.3L510.6 1026.4L512.6 1026.4L514.6 1026.5L516.6 1026.5L518.6 1026.5L520.6 1026.6L522.6 1026.5L524.6 1026.5L526.6 1026.5L528.6 1026.4L530.6 1026.4L532.6 1026.3L534.6 1026.3L536.6 1026.3L538.6 1026.2L540.6 1026.2L542.6 1026.1L544.6 1026L546.6 1026L548.6 1025.9L550.6 1026L552.6 1026.1L554.6 1026.1L556.6 1026.1L558.6 1026.1L560.6 1026.1L562.6 1026.1L564.6 1026.2L566.6 1026.2L568.6 1026.2L570.6 1026.2L572.6 1026.2L574.6 1026.2L576.6 1026.2L578.6 1026.2L580.6 1026.2L582.6 1026.2L584.6 1026.2L586.6 1026.2L588.6 1026.3L590.6 1026.3L592.6 1026.3L594.6 1026.3L596.6 1026.3L598.6 1026.3L600.6 1026.3L602.6 1026.3L604.6 1026.3L606.6 1026.3L608.6 1026.2L610.6 1026.2L612.6 1026.2L614.6 1026.2L616.6 1026.2L618.6 1026.2L620.6 1026.2L622.6 1026.2L624.6 1026.2L626.6 1026.1L628.6 1026.1L630.6 1026.1L632.6 1026.1L634.6 1026.1L636.6 1026.1L638.6 1026.1L640.6 1026.1L642.6 1026L644.6 1026L646.6 1026L648.6 1026L650.6 1026L652.6 1026L654.6 1026L656.6 1026L658.6 1026.1L660.6 1026.1L662.6 1026.1L664.6 1026.1L666.6 1026.1L668.6 1026.1L670.6 1026.1L672.6 1026.1L674.6 1026.1L676.6 1026.2L678.6 1026.2L680.6 1026.2L682.6 1026.2L684.6 1026.2L686.6 1026.2L688.6 1026.2L690.6 1026.2L692.6 1026.3L694.6 1026.3L696.6 1026.3L698.6 1026.3L700.6 1026.3L702.6 1026.3L704.6 1026.3L706.6 1026.3L708.6 1026.3L710.6 1026.2L712.6 1026.2L714.6 1026.2L716.6 1026.2L718.6 1026.2L720.6 1026.2L722.6 1026.2L724.6 1026.2L726.6 1026.2L728.6 1026.2L730.6 1026.1L732.6 1026.1L734.6 1026.1L736.6 1026.1L738.6 1026.1L740.6 1026.1L742.6 1026.1L744.6 1026.1L746.6 1026.1L748.6 1026.2L750.6 1026.2L752.6 1026.2L754.6 1026.2L756.6 1026.2L758.6 1026.1L760.6 1025.9L762.6 1024.7L764.6 1023.5L766.6 1017.4L768.6 985.8L770.6 979.6L772.6 979.6L774.6 980L776.6 980.8L778.6 988.4L780.6 986.1L782.6 981.3L784.6 981.3L786.6 981.1L788.6 980.9L790.6 980.7L792.6 980.5L794.6 996L796.6 1005L798.6 1005.9L800.6 1008.6L802.6 1008.7L804.6 1008.2L806.6 1007.8L808.6 1008L810.6 1010.3L812.6 1006.7L814.6 1005.9L816.6 1000.5L818.6 991.2L820.6 990L822.6 989.7L824.6 989.6L826.6 990.2L828.6 992.1L830.6 992.1L832.6 990.5L834.6 991.7L836.6 998.5L838.6 1003L840.6 1003.1L842.6 999.3L844.6 999.5L846.6 1003.8L848.6 954.1L850.6 994.3L852.6 994.6L854.6 994.8L856.6 996L858.6 997.2L860.6 998.8L862.6 1000.4L864.6 1001.2L866.6 1001.9L868.6 1006.7L870.6 1008.2L872.6 1008.2L874.6 1010.1L876.6 1012.3L878.6 1013.1L880.6 1013.8L882.6 1014.5L884.6 1015.2L886.6 1015.8L888.6 1015.8L890.6 1015.3L892.6 1014.4L894.6 1013.2L896.6 1012.8L898.6 1015L900.6 1006L902.6 1005L904.6 1016.3L906.6 1014.9L908.6 1014.6L910.6 1014.6L912.6 1015.4L914.6 1015.5L916.6 1013.1L918.6 1010.5L920.6 1007.3L922.6 1006.6L924.6 1007.1L926.6 1006.8L928.6 1006.1L930.6 1004.2L932.6 1002.3L934.6 1003.9L936.6 1006.5L938.6 1007L940.6 1007.4L942.6 1007.8L944.6 1008.2L946.6 1009.9L948.6 1011.8L950.6 1011.7L952.6 1011.2L954.6 1010.4L956.6 1008.4L958.6 1005.7L960.6 1005.3L962.6 1005L964.6 1001.8L966.6 1003.9L968.6 1012.1L970.6 1013.2L972.6 1013.3L974.6 1012.8L976.6 1012.6L978.6 1012.6L980.6 1011L982.6 1007.8L984.6 1000.3L986.6 999.2L988.6 999.6L990.6 983.1L992.6 1013L994.6 1012.5L996.6 1010.7L998.6 1008.8L1000.6 1010L1002.6 1015.5L1004.6 1015.1L1006.6 1014.6L1008.6 1013.1L1010.6 1011.6L1012.6 1007.8L1014.6 1006L1016.6 1006.4L1018.6 1009.2L1020.6 1012.6L1022.6 1011.3L1024.6 1010.6L1026.6 1011.9L1028.6 1013.8L1030.6 1015.7L1032.6 1015.5L1034.6 1015L1036.6 1016.5L1038.6 1015.4L1040.6 1014.3L1042.6 1013.8L1044.6 1014.9L1046.6 1014.2L1048.6 1013.1L1050.6 1014.6L1052.6 1014.2L1054.6 1013.8L1056.6 1013.1L1058.6 1012.6L1060.6 1013L1062.6 1013.5L1064.6 1012.3L1066.6 1010.5L1068.6 1009.2L1070.6 1006.9L1072.6 1006.9L1074.6 1016.1L1076.6 1009.8L1078.6 1008.2L1080.6 1005.4L1082.6 1017.3L1084.6 1016.5L1086.6 1017.2L1088.6 1007.1L1090.6 1013.2L1092.6 1012.6L1094.6 1013.3L1096.6 1014.8L1098.6 1015.1L1100.6 1015.5L1102.6 1015.7L1104.6 1015.9L1106.6 1016.8L1108.6 1006.5L1110.6 1014L1112.6 1012.8L1114.6 1014.9L1116.6 1017.5L1118.6 1017.6L1120.6 1006.1L1122.6 1008.1L1124.6 1009.1L1126.6 1009.1L1128.6 1005.9L1130.6 1014.6L1132.6 1013.9L1134.6 1010.3L1136.6 1006.4L1138.6 1005.2L1140.6 1005.9L1142.6 1013.5L1144.6 1014L1146.6 1013.1L1148.6 1005L1150.6 1003.1L1152.6 1003.6L1154.6 1012.6L1156.6 1012.6L1158.6 1013.2L1160.6 1014.4L1162.6 1008.7L1164.6 1008.3L1166.6 1009.6L1168.6 1009.6L1170.6 1009.3L1172.6 1009.9L1174.6 1010.8L1176.6 1012.1L1178.6 1013.3L1180.6 1011.9L1182.6 1005.4L1184.6 1000L1186.6 999.3L1188.6 1000L1190.6 1004.2L1192.6 1007.9L1194.6 1006.9L1196.6 1000.1L1198.6 998.4L1200.6 993L1202.6 992L1204.6 991.6L1206.6 991.3L1208.6 992.3L1210.6 998L1212.6 1005.3L1214.6 1004L1216.6 998L1218.6 996.6L1220.6 998.3L1222.6 1005.7L1224.6 1011L1226.6 1012.5L1228.6 1015.1L1230.6 1005.7L1232.6 1004.9L1234.6 1013.9L1236.6 1009.5L1238.6 1008.6L1240.6 1010.1L1242.6 1015.7L1244.6 1005.5L1246.6 1007.1L1248.6 1007L1250.6 1006.2L1252.6 1017.3L1254.6 1016L1256.6 1013.6L1258.6 1011.7L1260.6 1010.2L1262.6 1008.3L1264.6 1007.6L1266.6 1009.1L1268.6 1015.5L1270.6 1015.4L1272.6 1015.4L1274.6 1001.3L1276.6 994.5L1278.6 994.6L1280.6 1006.9L1282.6 1013.5L1284.6 1016.2L1286.6 1006.5L1288.6 1016.5L1290.6 1013L1292.6 1008.6L1294.6 1007.6L1296.6 1008.9L1298.6 1011.8L1300.6 1009.5L1302.6 1003.2L1304.6 1002.8L1306.6 1004.4L1308.6 1004.2L1310.6 1003.3L1312.6 1004.1L1314.6 1006.7L1316.6 1008.3L1318.6 1009.2L1320.6 1013.2L1322.6 1014.4L1324.6 1014.9L1326.6 1016.2L1328.6 1015.5L1330.6 1014.5L1332.6 1016.1L1334.6 1006.6L1336.6 1008.6L1338.6 1008.8L1340.6 1008.1L1342.6 1007.7L1344.6 1008.5L1346.6 1009.2L1348.6 1005.2L1350.6 1015.7L1352.6 1014L1354.6 1014.4L1356.6 1015.6L1358.6 1016.1L1360.6 1010.7L1362.6 1007.9L1364.6 1007.9L1366.6 1008.6L1368.6 1008.2L1370.6 1009.9L1372.6 1017.6L1374.6 1017L1376.6 1013.7L1378.6 1009.3L1380.6 1006.3L1382.6 1001.2L1384.6 990.3L1386.6 988.4L1388.6 987.6L1390.6 988.8L1392.6 1003.7L1394.6 1005.9L1396.6 1011.1L1398.6 1011.5L1400.6 1010.2L1402.6 1011.8L1404.6 1014.7L1406.6 1001.6L1408.6 995.9L1410.6 995.5L1412.6 986.3L1414.6 983.4L1416.6 983.8L1418.6 991L1420.6 992.7L1422.6 989.8L1424.6 977.5L1426.6 973.7L1428.6 973.5L1430.6 982.3L1432.6 982.3L1434.6 980.7L1436.6 982.1L1438.6 988.3L1440.6 1003.2L1442.6 1003.4L1444.6 1001.5L1446.6 997.7L1448.6 998.1L1450.6 993.9L1452.6 983.8L1454.6 982.8L1456.6 981.6L1458.6 979.1L1460.6 978.8L1460.6 1011.2L1458.6 1010.8L1456.6 1010.7L1454.6 1010.7L1452.6 1010.8L1450.6 1012.8L1448.6 1014.8L1446.6 1014.2L1444.6 1013.4L1442.6 1013.2L1440.6 1013.2L1438.6 1012.5L1436.6 1009.9L1434.6 1007.2L1432.6 1007.2L1430.6 1008.2L1428.6 1009.1L1426.6 1009.4L1424.6 1009.7L1422.6 1012.8L1420.6 1015.7L1418.6 1015.4L1416.6 1015.1L1414.6 1015.1L1412.6 1015.5L1410.6 1015.9L1408.6 1016.3L1406.6 1016.6L1404.6 1016.6L1402.6 1016.6L1400.6 1016.6L1398.6 1016.6L1396.6 1016.6L1394.6 1016.6L1392.6 1016.6L1390.6 1016.6L1388.6 1016.7L1386.6 1016.9L1384.6 1017L1382.6 1017.1L1380.6 1017.2L1378.6 1017.4L1376.6 1017.5L1374.6 1018L1372.6 1018.6L1370.6 1019.1L1368.6 1018.5L1366.6 1017.7L1364.6 1017.5L1362.6 1017.5L1360.6 1017.5L1358.6 1017.5L1356.6 1017.5L1354.6 1017.5L1352.6 1017.5L1350.6 1017.5L1348.6 1028.8L1346.6 1028.8L1344.6 1028.8L1342.6 1028.8L1340.6 1028.8L1338.6 1028.8L1336.6 1028.8L1334.6 1028.8L1332.6 1017.5L1330.6 1017.5L1328.6 1017.6L1326.6 1017.7L1324.6 1017.9L1322.6 1018L1320.6 1018.1L1318.6 1018.2L1316.6 1018.3L1314.6 1018L1312.6 1017.7L1310.6 1017.5L1308.6 1017.2L1306.6 1016.9L1304.6 1016.7L1302.6 1016.8L1300.6 1016.9L1298.6 1017L1296.6 1017.1L1294.6 1017.2L1292.6 1017.3L1290.6 1017.4L1288.6 1017.5L1286.6 1028.8L1284.6 1017.5L1282.6 1017.5L1280.6 1017.5L1278.6 1017.5L1276.6 1017.5L1274.6 1017.5L1272.6 1017.5L1270.6 1017.5L1268.6 1017.6L1266.6 1017.7L1264.6 1017.8L1262.6 1017.9L1260.6 1018L1258.6 1018.1L1256.6 1018.2L1254.6 1018.3L1252.6 1018.3L1250.6 1029.5L1248.6 1029.4L1246.6 1029.3L1244.6 1029.2L1242.6 1017.8L1240.6 1017.7L1238.6 1017.6L1236.6 1017.5L1234.6 1017.7L1232.6 1027.2L1230.6 1027.5L1228.6 1017.9L1226.6 1017.5L1224.6 1017.1L1222.6 1016.7L1220.6 1016L1218.6 1014.5L1216.6 1013.8L1214.6 1013.6L1212.6 1013.4L1210.6 1013.2L1208.6 1013.1L1206.6 1013.3L1204.6 1013.5L1202.6 1013.7L1200.6 1014.1L1198.6 1015.6L1196.6 1016.5L1194.6 1016.6L1192.6 1016.8L1190.6 1016.9L1188.6 1017L1186.6 1017.1L1184.6 1017.3L1182.6 1017.6L1180.6 1018.1L1178.6 1018.6L1176.6 1019L1174.6 1018.7L1172.6 1018.5L1170.6 1018.3L1168.6 1018L1166.6 1017.8L1164.6 1017.7L1162.6 1017.7L1160.6 1017.6L1158.6 1017.6L1156.6 1017.5L1154.6 1017.4L1152.6 1017.4L1150.6 1017.3L1148.6 1017.3L1146.6 1017.3L1144.6 1017.3L1142.6 1017.3L1140.6 1017.3L1138.6 1017.3L1136.6 1017.3L1134.6 1017.3L1132.6 1017.4L1130.6 1017.9L1128.6 1029.7L1126.6 1030.2L1124.6 1030.2L1122.6 1030.1L1120.6 1030L1118.6 1018.6L1116.6 1018.5L1114.6 1018.4L1112.6 1018.4L1110.6 1018.3L1108.6 1029.5L1106.6 1018.1L1104.6 1018L1102.6 1018L1100.6 1017.9L1098.6 1017.8L1096.6 1017.9L1094.6 1018L1092.6 1018.1L1090.6 1018.1L1088.6 1029.5L1086.6 1018.3L1084.6 1018.4L1082.6 1018.5L1080.6 1029.7L1078.6 1029.6L1076.6 1029.4L1074.6 1018L1072.6 1017.8L1070.6 1017.7L1068.6 1017.6L1066.6 1017.4L1064.6 1017.3L1062.6 1017.4L1060.6 1017.4L1058.6 1017.5L1056.6 1017.6L1054.6 1017.6L1052.6 1017.7L1050.6 1017.7L1048.6 1017.8L1046.6 1017.8L1044.6 1017.7L1042.6 1017.7L1040.6 1017.6L1038.6 1017.5L1036.6 1017.5L1034.6 1017.4L1032.6 1017.4L1030.6 1017.3L1028.6 1017.4L1026.6 1017.5L1024.6 1017.6L1022.6 1017.7L1020.6 1017.8L1018.6 1017.9L1016.6 1018L1014.6 1018.1L1012.6 1018.1L1010.6 1018.1L1008.6 1018L1006.6 1018L1004.6 1018L1002.6 1017.9L1000.6 1017.9L998.6 1017.8L996.6 1017.8L994.6 1017.7L992.6 1017.6L990.6 1028.8L988.6 1016.3L986.6 1016.3L984.6 1016.3L982.6 1016.3L980.6 1016.3L978.6 1016.3L976.6 1016.3L974.6 1016.3L972.6 1016.3L970.6 1016.3L968.6 1016.3L966.6 1016.3L964.6 1016.4L962.6 1016.5L960.6 1016.6L958.6 1016.7L956.6 1016.8L954.6 1016.9L952.6 1017L950.6 1017.1L948.6 1017.2L946.6 1017.3L944.6 1017.3L942.6 1017.3L940.6 1017.3L938.6 1017.3L936.6 1017.3L934.6 1017.3L932.6 1017.3L930.6 1017.3L928.6 1017.3L926.6 1017.3L924.6 1017.3L922.6 1017.3L920.6 1017.3L918.6 1017.3L916.6 1017.3L914.6 1017.3L912.6 1017.3L910.6 1017.3L908.6 1017.3L906.6 1017.3L904.6 1017.3L902.6 1028.6L900.6 1028.6L898.6 1017.3L896.6 1017.3L894.6 1017.3L892.6 1017.3L890.6 1017.3L888.6 1017.3L886.6 1017.3L884.6 1017.3L882.6 1017.3L880.6 1017.3L878.6 1017.3L876.6 1017.3L874.6 1017.3L872.6 1017.3L870.6 1017.3L868.6 1016.9L866.6 1016.6L864.6 1016.3L862.6 1015.9L860.6 1015.6L858.6 1015.2L856.6 1014.7L854.6 1014.2L852.6 1013.7L850.6 1013.2L848.6 1024L846.6 1012.2L844.6 1012L842.6 1011.8L840.6 1011.6L838.6 1011.4L836.6 1011.2L834.6 1011.6L832.6 1012.1L830.6 1012.6L828.6 1013.1L826.6 1012.5L824.6 1011.5L822.6 1010.5L820.6 1010.3L818.6 1010.5L816.6 1010.7L814.6 1010.9L812.6 1011.1L810.6 1011.3L808.6 1011.5L806.6 1011.6L804.6 1011.8L802.6 1012L800.6 1012.1L798.6 1012.1L796.6 1011.8L794.6 1011.4L792.6 1011.3L790.6 1011.5L788.6 1011.8L786.6 1012L784.6 1012.2L782.6 1012.2L780.6 1012.2L778.6 1012.2L776.6 1012.2L774.6 1012L772.6 1011.6L770.6 1011.5L768.6 1015L766.6 1018.4L764.6 1029.7L762.6 1029.7L760.6 1029.7L758.6 1030.3L756.6 1030.9L754.6 1030.9L752.6 1030.9L750.6 1030.9L748.6 1030.9L746.6 1030.9L744.6 1030.9L742.6 1030.9L740.6 1030.9L738.6 1030.9L736.6 1030.9L734.6 1030.9L732.6 1030.9L730.6 1030.9L728.6 1030.9L726.6 1031L724.6 1031L722.6 1031L720.6 1031L718.6 1031L716.6 1031L714.6 1031L712.6 1031L710.6 1031L708.6 1031L706.6 1031L704.6 1031L702.6 1031L700.6 1031L698.6 1031L696.6 1031L694.6 1031L692.6 1031L690.6 1031L688.6 1031L686.6 1030.9L684.6 1030.9L682.6 1030.9L680.6 1030.9L678.6 1030.9L676.6 1030.9L674.6 1030.9L672.6 1030.9L670.6 1030.9L668.6 1030.9L666.6 1030.9L664.6 1030.9L662.6 1030.9L660.6 1030.8L658.6 1030.8L656.6 1030.8L654.6 1030.8L652.6 1030.8L650.6 1030.8L648.6 1030.8L646.6 1030.8L644.6 1030.8L642.6 1030.8L640.6 1030.8L638.6 1030.8L636.6 1030.9L634.6 1030.9L632.6 1030.9L630.6 1030.9L628.6 1030.9L626.6 1030.9L624.6 1030.9L622.6 1030.9L620.6 1030.9L618.6 1030.9L616.6 1030.9L614.6 1030.9L612.6 1030.9L610.6 1031L608.6 1031L606.6 1031L604.6 1031L602.6 1031L600.6 1031L598.6 1031L596.6 1031L594.6 1031L592.6 1031L590.6 1031L588.6 1031L586.6 1031L584.6 1031L582.6 1031L580.6 1031L578.6 1031L576.6 1031L574.6 1030.9L572.6 1030.9L570.6 1030.9L568.6 1030.9L566.6 1030.9L564.6 1030.9L562.6 1030.9L560.6 1030.9L558.6 1030.9L556.6 1030.9L554.6 1030.9L552.6 1030.9L550.6 1030.6L548.6 1030.5L546.6 1030.6L544.6 1030.7L542.6 1030.8L540.6 1030.9L538.6 1031L536.6 1031L534.6 1031L532.6 1031L530.6 1031L528.6 1031L526.6 1031L524.6 1031L522.6 1031L520.6 1031L518.6 1031L516.6 1031L514.6 1031L512.6 1031L510.6 1031L508.6 1031L506.6 1031L504.6 1031L502.6 1031L500.6 1031L498.6 1031L496.6 1031L494.6 1031L492.6 1031L490.6 1031L488.6 1031L486.6 1031L484.6 1030.9L482.6 1030.9L480.6 1030.8L478.6 1030.7L476.6 1030.7L474.6 1030.6L472.6 1030.6L470.6 1030.5L468.6 1030.5L466.6 1030.6L464.6 1030.6L462.6 1030.7L460.6 1030.8L458.6 1030.8L456.6 1030.9L454.6 1030.9L452.6 1031L450.6 1031L448.6 1031.1L446.6 1031.1L444.6 1031.2L442.6 1031.2L440.6 1031.2L438.6 1031.3L436.6 1031.3L434.6 1031.3L432.6 1031.3L430.6 1031.2L428.6 1031.2L426.6 1031.1L424.6 1031.1L422.6 1031.1L420.6 1031L418.6 1031L416.6 1030.9L414.6 1030.9L412.6 1030.8L410.6 1030.7L408.6 1030.7L406.6 1030.6L404.6 1030.6L402.6 1030.5L400.6 1030.5L398.6 1030.6L396.6 1030.6L394.6 1030.7L392.6 1030.8L390.6 1030.8L388.6 1030.9L386.6 1030.9L384.6 1031L382.6 1030.9L380.6 1030.9L378.6 1030.8L376.6 1030.7L374.6 1030.7L372.6 1030.6L370.6 1030.6L368.6 1030.5L366.6 1030.3L364.6 1030.1L362.6 1029.9L360.6 1029.7L358.6 1029.5L356.6 1029.3L354.6 1029.1L352.6 1028.9L350.6 1028.8L348.6 1028.7L346.6 1028.6L344.6 1028.5L342.6 1028.4L340.6 1028.3L338.6 1028.2L336.6 1028.1L334.6 1028L332.6 1027.9L330.6 1027.9L328.6 1027.9L326.6 1027.9L324.6 1028L322.6 1028.2L320.6 1028.4L318.6 1028.6L316.6 1028.7L314.6 1028.1L312.6 1027.5L310.6 1015.3L308.6 1015.2L306.6 1015.1L304.6 1014.7L302.6 1014.3L300.6 1014.1L298.6 1013.9L296.6 1013.7L294.6 1013.5L292.6 1013.4L290.6 1013.3L288.6 1013.3L286.6 1013.2L284.6 1013.2L282.6 1013.1L280.6 1013L278.6 1013L276.6 1012.9L274.6 1012.9L272.6 1012.9L270.6 1012.9L268.6 1012.9L266.6 1012.9L264.6 1013L262.6 1013L260.6 1013L258.6 1013.1L256.6 1013.1L254.6 1013.1L252.6 1013.2L250.6 1013.2L248.6 1013.2L246.6 1013.2L244.6 1013.3L242.6 1013.3L240.6 1013.3L238.6 1013.4L236.6 1013.4L234.6 1013.4L232.6 1013.4L230.6 1013.4L228.6 1013.4L226.6 1013.4L224.6 1013.3L222.6 1013.3L220.6 1013.3L218.6 1013.2L216.6 1013.2L214.6 1013.2L212.6 1013.1L210.6 1013.1L208.6 1013.1L206.6 1013.1L204.6 1013L202.6 1013L200.6 1013L198.6 1012.9L196.6 1012.9L194.6 1012.9L192.6 1012.8L190.6 1012.9L188.6 1012.9L186.6 1012.9L184.6 1012.9L182.6 1013L180.6 1013L178.6 1013L176.6 1013.1L174.6 1013.1L172.6 1013.1L170.6 1013.2L168.6 1013.2L166.6 1013.2L164.6 1013.2L162.6 1013.3L160.6 1013.3L158.6 1013.3L156.6 1013.4L154.6 1013.4L152.6 1013.4L150.6 1013.4L148.6 1013.4L146.6 1013.4L144.6 1013.3L142.6 1013.3L140.6 1013.3L138.6 1013.2L136.6 1013.2L134.6 1013.2L132.6 1013.1L130.6 1013.1L128.6 1013.1L126.6 1013L124.6 1013L122.6 1012.9L120.6 1012.9L118.6 1012.9L116.6 1012.8Z" fill="#1f77b4" stroke="#1f77b4" stroke-width="2.4" stroke-linejoin="round"/>
<path d="M117.1 937.4V1016.5M120.3 942V1022.6M123.2 947.9V1017.6M126.8 916.3V1020.6M129.4 932.7V1016.9M132 967.7V1018.3M135.7 950.1V1022.2M138.8 942.3V1014.4M141.1 945.1V1021.6M144.8 960.9V1015.4M148.1 932.6V1018.7M150.2 939.3V1023.6M153.5 932.3V1022.8M156.5 949.9V1022.6M160 884.3V1023.5M163.1 897.3V1023.2M165.2 919.4V1023.3M168.5 936.1V1023.4M172.1 963.7V1022.2M174.8 989.4V1023.3M177.8 979.3V1017M180.5 844.9V1022.4M183.9 897V1013.7M186.7 963.8V1023.1M190 904.2V1017.8M192 877.5V1019M195.7 905.7V1023M199 938.8V1023.1M201.1 922V1022.4M204.6 924.3V1018.1M207.5 990.9V1019.9M210.2 933.2V1018.1M213.3 935.7V1023.2M216.6 861.1V1023.2M220.1 890V1018.5M222.8 795.3V1022M225.4 873.8V1023.5M229.1 890.4V1023M231.7 941.2V1023.6M234.9 855V1023.6M237.1 863.2V1020.6M241.1 857V1018.1M243.1 903.7V1019.1M246.5 903.2V1023.4M250 891.9V1019.5M252.1 892.9V1020M255.4 951.7V1023.3M259.1 845.7V1021.1M261.9 865V1016.5M264.3 797.3V1019.8M268 817.6V1020.4M270.3 793.6V1022.8M273.1 834.2V1023M276.1 870.2V1022.9M279.6 901.5V1023.2M282 789.6V1023.3M285.6 769.9V1023.4M289 764.5V1019M291.4 761.7V1021.9M295.1 837.3V1023.6M297.6 756.4V1024M300.3 914V1022.4M304 790V1022.4M306.6 800.9V1014.4M310.1 1007.1V1020.8M768.3 791.7V1025.1M771.2 808V1021.5M775.1 846.2V1011.2M777.1 846.4V1021.7M780.2 922.1V1012.2M783.2 910.6V1019.6M786.2 778.4V1011.4M789 783.2V1017.6M792.7 797.5V1021.4M795 924.6V1017.2M799.1 919.8V1022.2M801.4 935.8V1014.8M804.4 960.3V1022M807.2 992.8V1021.5M810.8 963.1V1017.6M813.2 949.8V1019.8M816.9 948.9V1015.8M819.6 860.7V1019.9M823 863.4V1020.7M825.3 828.4V1019.8M828.3 891V1023.3M831.1 840.1V1013.2M834.2 841.1V1016.1M838.1 895.2V1021.5M841.1 991.8V1019.3M843.2 919.9V1021.4M846.4 912V1022.3M849.9 977.3V1023.1M852.1 973.7V1023.7M855.4 976.4V1023.6M858.5 976.9V1024.5M861.5 970.9V1025.9M864.3 974.2V1026M868.2 996V1026.7M870.5 997.7V1027.3M874.1 989.1V1027.5M876.1 997.7V1027.5M879.7 1009.1V1027.5M882.1 1004.9V1027.5M885.1 1006.5V1026.2M889 1003V1027.5M891.7 1009.3V1026.4M894.8 997.5V1026.5M898.1 996.3V1026.2M906.5 1001.1V1027.2M909.2 1000.4V1027.5M912.1 1010.5V1027.5M915.9 999.7V1026.3M918.9 992V1027.5M921.3 984.1V1026.5M924.2 994.9V1027M927.8 986.5V1027.5M930.3 982.7V1026.9M933.6 981.6V1027.1M936.4 986.2V1027.5M939.7 991V1027.3M942.3 990.7V1027.5M945.1 989.1V1027.5M948.6 1006V1027.4M951.9 1000.7V1026M954.3 994.2V1027M957.8 985.9V1026.7M960.4 981.9V1026.4M963.4 978V1026.5M967.1 979.1V1026.1M969.9 1002.5V1026.2M972.4 1001.4V1026.4M976.1 1002.5V1025.1M978.9 997.3V1026.5M982.1 1002.8V1026.1M984.6 981.3V1026.5M988 990.7V1025.4M993.9 998.1V1027.6M996.2 991.8V1026.8M999.8 988.5V1027.6M1002.8 1004.9V1027.8M1005.6 1001.8V1027.3M1008.2 999V1028.2M1011.9 999.8V1027.5M1014.5 982.6V1028.3M1017.8 984.9V1028.1M1020.8 1001.6V1027.9M1024.1 1003.3V1027.8M1026.8 994.8V1027.2M1030 1007.3V1027.3M1032.2 1002.2V1027.6M1035.2 1007.1V1027.5M1038.3 1004.2V1027.7M1041.6 1012.3V1027.5M1044.7 1001.9V1027.7M1047.6 1002.7V1026.6M1050.6 1000V1027.8M1054 1001V1027.7M1057 997.8V1027.7M1059.7 1008.8V1027.1M1062.8 999.6V1027.5M1065.7 997.1V1026.4M1068.9 990.1V1027.7M1071.1 983.9V1027.9M1074 1002.9V1028.2M1084.1 1004V1028.6M1086.9 1004.8V1028.5M1089 1006V1028.2M1092 996.8V1028.3M1095 998.7V1027.1M1098 1013.2V1027.9M1101.1 1013.7V1026.7M1105 1014V1027.7M1107.9 1014.3V1026.9M1110.1 1009.1V1027.1M1113.5 1006.4V1027.9M1116.4 1006.1V1028.1M1131.9 999.4V1027.7M1134.1 991.5V1026.2M1137.7 987.2V1026.5M1141.1 982.3V1027.5M1144 999.8V1027.4M1146.1 1011.1V1027.5M1149.3 980.7V1026.2M1152.8 987.2V1027.6M1155.1 996.8V1026.3M1159.1 1000.2V1027.3M1161.6 1005.7V1027.9M1164.5 987.6V1027.9M1167.9 991.8V1027.4M1170.4 1004.7V1027.9M1174 990.1V1028.6M1176.6 993.4V1029.1M1179 1005.8V1028.4M1182.6 980.8V1026.9M1185.8 969.2V1027.1M1189.1 981.9V1027.2M1191.7 989.8V1026.3M1195.1 1003.4V1026.5M1197.1 970.1V1026.4M1200.1 958.9V1024.3M1203.6 960.1V1023.5M1206 957.1V1023.5M1209.4 961.4V1021.8M1212.7 989.2V1023.5M1215.4 975.2V1023.3M1218.2 966.1V1023.8M1221.8 981.9V1026.3M1224.4 1006.4V1027.3M1227.6 997.9V1027.5M1236.8 992.4V1027.4M1239.4 991V1026.8M1242.9 1010.6V1028M1254 1003.2V1027.9M1257.7 1004.8V1028M1260.8 990.6V1028M1264.2 1003V1028.1M1266.3 989.2V1027.9M1269.9 1002V1027.2M1272.3 1001.9V1026.3M1275.1 961.8V1027.7M1278.2 969.6V1026.8M1281.9 997V1027.6M1284.2 1014.3V1027.6M1290.7 997V1026.7M1293.5 999.3V1026.8M1296.4 1005.2V1027.3M1299 996.7V1026.7M1303 977.7V1026.7M1305.2 988V1026.9M1308.9 978.8V1027.2M1311.7 979V1027.8M1314 985.5V1027.6M1317.2 987.5V1028.5M1320.1 1001.5V1028.3M1323.5 1007.4V1028.1M1326.3 1003.3V1026.6M1329.1 1003.4V1027M1332.7 1005.2V1027.3M1350.3 1002.5V1026.3M1353.5 998.5V1027.5M1356.2 1002.3V1027.6M1359.4 1012.3V1027.6M1362 986.4V1027.6M1365.9 990.6V1027.7M1368.2 992.9V1028.5M1371.4 1001.1V1029M1374.3 1005.9V1028.1M1377.4 1001.1V1027.5M1380.9 987.8V1026.9M1383.6 954.2V1027.1M1386.8 946.3V1027.1M1389.4 973.1V1025.5M1392.4 992.2V1026.8M1395.4 991.5V1026.6M1398.3 998.6V1026.8M1401.8 1007.4V1025.5M1404 1005.4V1026.8M1407.6 967.2V1026.2M1410.1 981.2V1025.8M1413.3 939.5V1025.3M1416.1 945.6V1025.1M1419.6 964.2V1025.1M1423.1 978.6V1022.1M1425.1 925.9V1019.8M1428.3 960V1019.3M1431 944.1V1017.1M1435 942V1017.4M1437.5 973.1V1021.4M1441 981.1V1023.3M1443.3 988.7V1023.2M1446.3 968.7V1023.9M1450 980.5V1023.6M1453 953.9V1020.9M1455.3 946.1V1020.6M1458.7 933.9V1020.1M1461.3 933.6V1021.4" fill="none" stroke="#1f77b4" stroke-width="5.6" stroke-linecap="round"/>
<path d="M182.7 792h0M182.7 808.5h0M182.7 826.5h0M197.4 754.7h0M197.4 789.7h0M197.4 796.5h0M197.4 817.5h0M197.4 835.2h0M197.4 845h0M220.5 740.5h0M220.5 782h0M235.2 780.3h0M235.2 823.8h0M255.4 708.6h0M255.4 719.4h0M255.4 727.4h0M255.4 812.7h0M255.4 823.8h0M270.3 709h0M270.3 713.7h0M270.3 722.6h0M270.3 730.5h0M270.3 757.3h0M270.3 776h0M270.3 785.4h0M293.4 639.5h0M293.4 664.6h0M287.5 728.6h0M306.2 801.6h0M197.9 738.5h0M197.9 741.7h0M196.9 744.8h0M196.9 748h0M197.8 765h0M197.7 767.5h0M197.6 770h0M220.3 749.6h0M220.6 752.2h0M220.6 754.7h0M220.5 761.5h0M220 764.1h0M220.3 766.7h0M220.3 769.2h0M220.7 771.8h0M221 774.4h0M220.9 777h0M235.3 790.5h0M235.1 792.9h0M234.9 795.3h0M234.6 797.7h0M234.6 800.1h0M235.2 802.5h0M235 808.4h0M235.1 810.9h0M235.7 813.5h0M235.2 816h0M235.3 828h0M234.9 832.4h0M234.6 836.8h0M235 841.2h0M234.8 845.6h0M235.2 850h0M256 752h0M255.6 756.4h0M255 770h0M255.9 773.5h0M255.8 781h0M255.7 783.6h0M255.9 786.1h0M255.7 788.7h0M255.7 791.2h0M255.2 793.8h0M256 796.3h0M256 798.9h0M255 801.4h0M255.7 804h0M255.7 830h0M255.4 833.7h0M255.4 837.3h0M255.4 841h0M271 689.8h0M270.5 692.2h0M270.9 694.7h0M270.3 697.1h0M271 699.5h0M271 702h0M270.5 704.4h0M269.6 702h0M270 705h0M269.8 708h0M269.5 736.8h0M269.2 739.3h0M269.3 741.9h0M269.7 744.5h0M269.1 747h0M270 765.8h0M269.2 770h0M294.2 630h0M293.5 633.5h0M293.9 670h0M293.6 672.2h0M293.4 674.4h0M293.4 676.6h0M293.6 678.8h0M293.5 681h0M293.2 683.2h0M293 685.4h0M293.4 687.6h0M293.9 689.9h0M293.5 692.1h0M292.9 694.3h0M293.8 696.5h0M293.7 698.7h0M293.9 700.9h0M293 703.1h0M293.7 705.3h0M292.9 707.5h0M293.6 709.7h0M293.1 711.9h0M293.1 714.1h0M293.9 716.3h0M292.9 718.5h0M293.4 720.7h0M293.8 722.9h0M293.1 725.1h0M293.1 727.4h0M293.9 729.6h0M293.3 731.8h0M293.7 734h0M292.8 736.2h0M293.2 738.4h0M293 740.6h0M293.6 742.8h0M292.9 745h0M292.7 690h0M291.6 693.4h0M292.5 696.9h0M291.6 700.3h0M291.9 703.8h0M292.6 707.2h0M291.8 710.6h0M291.8 714.1h0M292.4 717.5h0M292.1 720.9h0M291.7 724.4h0M292.8 727.8h0M291.8 731.2h0M291.6 734.7h0M292 738.1h0M292.3 741.6h0M292.5 745h0M294.3 700h0M294.6 703.5h0M294.2 706.9h0M294.7 710.4h0M295.1 713.8h0M295.1 717.3h0M295.3 720.8h0M295.1 724.2h0M295.2 727.7h0M295 731.2h0M294.8 734.6h0M294.5 738.1h0M295 741.5h0M294.6 745h0M296 722h0M296.4 725.8h0M296.9 729.7h0M296.1 733.5h0M296.6 737.3h0M296.4 741.2h0M296.5 745h0M290.1 725h0M291.1 729h0M290.2 733h0M290.6 737h0M290.4 741h0M289.9 745h0M293.5 745h0M293 747.6h0M292.9 750.2h0M292.8 752.9h0M293 755.5h0M292.9 758.1h0M293.6 760.7h0M293.4 763.3h0M294 766h0M293.9 768.6h0M294 771.2h0M293.1 773.8h0M293.3 776.4h0M293.1 779h0M293.5 781.7h0M293.5 784.3h0M293.8 786.9h0M293.7 789.5h0M293.1 792.1h0M293.3 794.8h0M293.4 797.4h0M292.8 800h0M289.9 745h0M290.4 748.2h0M290 751.5h0M290.8 754.7h0M290.2 757.9h0M290 761.2h0M290.1 764.4h0M290.2 767.6h0M290.2 770.9h0M290.5 774.1h0M290.5 777.4h0M290.3 780.6h0M290.7 783.8h0M290.2 787.1h0M291 790.3h0M291.1 793.5h0M290.8 796.8h0M290.4 800h0M296.3 745h0M296.4 748.2h0M295.8 751.5h0M296.2 754.7h0M296.3 757.9h0M295.9 761.2h0M295.8 764.4h0M296.7 767.6h0M296.1 770.9h0M296.3 774.1h0M296.8 777.4h0M296.4 780.6h0M296 783.8h0M296.9 787.1h0M296.1 790.3h0M295.7 793.5h0M296.5 796.8h0M295.8 800h0M287.6 752h0M288.2 755.7h0M288 759.4h0M287.2 763.1h0M287.7 766.8h0M287.7 770.5h0M287.8 774.2h0M287.4 777.8h0M287.9 781.5h0M287.3 785.2h0M287.5 788.9h0M287.6 792.6h0M288.3 796.3h0M287.3 800h0M299.3 760h0M298.6 763.6h0M299.1 767.3h0M298.9 770.9h0M299 774.5h0M299.3 778.2h0M298.9 781.8h0M298.5 785.5h0M298.5 789.1h0M298.5 792.7h0M299.4 796.4h0M299.2 800h0M285.6 770h0M285.2 773.8h0M284.4 777.5h0M285.2 781.2h0M285.3 785h0M285.3 788.8h0M285 792.5h0M284.8 796.2h0M284.9 800h0M302.4 775h0M301.7 779.2h0M302 783.3h0M302 787.5h0M302.5 791.7h0M302.4 795.8h0M302.5 800h0M293.8 652h0M293.2 655.7h0M305.9 771.8h0M306.2 775.2h0M305.9 778.6h0M306.1 785.4h0M306.4 788.8h0M306.7 792.2h0M306.3 795.6h0M183.1 841h0M182.2 843.5h0M182.5 846h0M825.6 826.6h0M771.4 597.4h0M771.4 681.2h0M771.8 714.5h0M772.8 716.8h0M786.5 744h0M786.5 748h0M772 610.5h0M771 614h0M771.8 652h0M771.4 654.5h0M771.4 657h0M772.4 659.5h0M772.5 662h0M772.1 664.5h0M771.5 667h0M771.7 669.5h0M771.3 693h0M771.8 695.9h0M771.8 698.8h0M771.5 701.8h0M771.6 704.7h0M771.1 707.6h0M771.7 725h0M772.2 727.3h0M772 729.7h0M771.2 732h0M771.7 734.3h0M772 736.7h0M771.4 739h0M772.2 741.3h0M771.7 743.7h0M771.9 746h0M771.6 748.3h0M772.3 750.7h0M772 753h0M771.8 755.3h0M771.3 757.7h0M771.6 760h0M770.8 764h0M771.5 766.4h0M771.9 768.8h0M771 771.2h0M771.4 773.6h0M771.4 776h0M771.3 778.4h0M771.7 780.8h0M771.9 783.2h0M771.6 785.6h0M771.4 788h0M772 790.4h0M771.2 792.8h0M771.7 795.2h0M771.6 797.6h0M771.7 800h0M773.9 770h0M773.2 773.3h0M773.6 776.7h0M773.4 780h0M773.7 783.3h0M774.1 786.7h0M773.7 790h0M772.9 793.3h0M773.5 796.7h0M773.8 800h0M770.3 775h0M770 778.1h0M770.2 781.2h0M769.2 784.4h0M770.3 787.5h0M770.1 790.6h0M769.9 793.8h0M770.3 796.9h0M770.3 800h0M786 755.7h0M786.9 758.3h0M786.8 760.8h0M786.1 763.4h0M786.8 765.9h0M786.6 768.5h0M786.1 772h0M786.9 774.5h0M786.1 777.1h0M786.6 779.6h0M786.4 782.2h0M786.2 784.7h0M786.6 787.3h0M786.5 789.8h0M786.1 792.4h0M787.1 794.9h0M786 797.5h0M785.9 800h0M783 776h0M783.4 779h0M783.2 782h0M783.3 785h0M783 788h0M783.2 791h0M782.8 794h0M782.7 797h0M783 800h0M789.2 776h0M789.3 779h0M790.1 782h0M789.4 785h0M790.1 788h0M790.1 791h0M789.7 794h0M790 797h0M790.1 800h0M1202.5 946.2h0M1200.8 951.3h0M1198.2 963.2h0M1202.9 926.7h0M1202 929.3h0M1202.1 931.8h0M1202.3 934.3h0M1202.4 936.9h0M1202.2 939.4h0M1426.4 884.9h0M1426.4 895.5h0M1426.3 899.7h0M1426.9 902.3h0M1427.4 904.8h0M1426.7 907.4h0M1426.9 909.9h0M1426.7 912.5h0M1426.8 915h0M1428 919.3h0M1427.3 921.8h0M1427.7 924.3h0M1436.2 928.6h0M1436.2 931.1h0M1436.7 933.7h0M116.4 947.7h0M116.8 962.6h0M117.6 982.3h0M118.4 966.2h0M119.3 993.2h0M119.2 940.5h0M120.2 980.5h0M120.3 981.5h0M121.7 982.6h0M122.3 1001.3h0M122.7 997.6h0M123.5 972.6h0M125 943.3h0M124.7 974h0M125.9 940.8h0M125.8 921.5h0M126.2 973.2h0M126.4 919.1h0M128 988.2h0M127.1 991.7h0M128.9 925.2h0M128.5 941.2h0M129.2 963.4h0M130 986.5h0M130.3 998.3h0M130.3 987h0M131.7 1000h0M132.5 974.2h0M133.9 996.5h0M134.4 984.1h0M135.6 959.1h0M135.6 976.6h0M136.5 957.3h0M137.2 1003.4h0M138.4 1002h0M139.4 1000.6h0M139.2 997.8h0M140.7 942h0M141 1002.2h0M141.3 1001.6h0M141.9 945.2h0M142.2 928.6h0M142.2 965.6h0M143.1 985h0M143.4 984.8h0M144.2 918.8h0M144.9 991.5h0M145.3 976.6h0M145.5 972.4h0M146.6 947.6h0M147.8 957.6h0M147.1 961.3h0M148.6 992.2h0M148.7 959.8h0M149.1 972.4h0M149.9 947h0M150.6 958.5h0M151 991.7h0M151.3 971.9h0M152.3 950.2h0M153.7 970.5h0M153.8 993.4h0M154.4 987.3h0M156 961.8h0M155.8 987.2h0M156.3 965h0M156.5 986.9h0M157.4 950.2h0M157.7 985.2h0M158.7 934.9h0M158.7 900.6h0M158.3 968h0M159.4 966.3h0M159.8 971.6h0M159.5 963.4h0M160.6 988.1h0M160.2 981.6h0M161.6 987h0M161.7 897.6h0M161.9 949.3h0M162.8 981.4h0M162.6 912.8h0M163.3 983h0M163.7 993.3h0M164.5 972.6h0M164.4 915.4h0M165.1 934.7h0M165.7 921.1h0M166.6 975.2h0M166.6 994.6h0M167.8 965.2h0M168.4 997.5h0M168.7 973.3h0M169.6 1001.2h0M170.2 985.2h0M172 992h0M171.2 976.1h0M172.7 954.7h0M174 987.3h0M173.6 952.5h0M174.9 979.9h0M175.5 981.8h0M176.1 996.5h0M177.1 912.4h0M177.8 979.2h0M178.2 879.9h0M178.1 925.1h0M178.2 967.6h0M178.6 860.7h0M179.7 958.6h0M179.6 979.1h0M179.5 927.9h0M180.6 849.4h0M180.5 923.9h0M181 934.9h0M181.6 967h0M181.4 970.2h0M181.8 977.8h0M182.3 915.5h0M182.5 933.8h0M182.3 936.4h0M183.4 977.5h0M184 872h0M183.6 918.8h0M184.4 893.3h0M184.5 870.8h0M184.6 901.1h0M185.8 863.5h0M185.6 942.5h0M185.8 872.5h0M187 943.8h0M186.4 871.7h0M186.8 923.1h0M187.4 902.5h0M187.7 977.5h0M187.5 922.8h0M188.5 906.1h0M188.6 891.6h0M189.5 922.7h0M189.5 985.4h0M190.7 956h0M190.2 909.4h0M191.7 979.8h0M192 948.8h0M191.1 943.7h0M191.6 861.3h0M192.9 939.5h0M192.9 868.8h0M192.6 918.3h0M193.4 973.1h0M193.6 890.5h0M193.5 905.9h0M194.3 927h0M195 888h0M194.3 971.7h0M195.6 885.2h0M195.2 935.1h0M195.5 948.1h0M196.8 970h0M196.9 875.3h0M196.8 921.1h0M197.1 912.7h0M197.8 980.9h0M197.2 972h0M198.5 936.8h0M199 981.4h0M198.9 977.3h0M199.1 905.2h0M199.5 986h0M200.9 964.5h0M200.1 983.2h0M201.3 971.1h0M201.4 997.5h0M202.7 988.9h0M202.9 958.5h0M204 993.5h0M203.6 922h0M205 926.8h0M205.8 927.8h0M205.6 990.7h0M205.6 920.6h0M206.9 950.3h0M206.2 947.2h0M207.7 997h0M207.2 926.6h0M208.9 980.1h0M209.9 963h0M209.1 965.6h0M210.2 995h0M210.5 972.3h0M212 975.9h0M211.4 947h0M212.1 940.4h0M212.4 937.4h0M213.1 907.1h0M213.8 915.9h0M214.8 937.4h0M214.4 946.8h0M215.5 948.3h0M215.3 981.4h0M215.4 960.4h0M216.2 943.1h0M217 804h0M216.2 832.8h0M216.2 952.9h0M217.5 966h0M217.9 862.5h0M217.1 948.1h0M217.4 840.5h0M218.3 937.2h0M218.3 938.9h0M218.9 895.8h0M218.5 931.2h0M219.3 838.2h0M219.6 884.8h0M219.4 885.1h0M219.1 961.4h0M220.1 906.2h0M220.6 831.2h0M220.7 904.4h0M220.3 952.1h0M221.5 798.6h0M221.9 801.3h0M221.9 897.6h0M221.1 951.5h0M222.8 944.1h0M222.6 963.9h0M222.6 818.1h0M223 932.2h0M224 818.4h0M223.9 885.3h0M223.3 898.7h0M223.3 935.8h0M223.6 788.1h0M224.1 815.2h0M224.2 843.1h0M224.3 928.9h0M224.7 804.6h0M225.7 948.5h0M225.1 891h0M226.4 975.9h0M226.2 928.2h0M227.2 932.5h0M227.5 916.3h0M228 910.8h0M228.5 921.7h0M229 898.4h0M229.1 982.4h0M229.8 974.5h0M230.1 878.7h0M230.3 982.2h0M230.6 982.6h0M231.5 910h0M231.9 963.8h0M231.8 871.5h0M232.3 959.2h0M232.3 962.8h0M232.7 907.8h0M234 981.6h0M233.7 920h0M233.7 958.5h0M234.5 975.4h0M234.3 968.3h0M234.1 958.3h0M235.3 909.8h0M236 891.1h0M235.1 854.1h0M236.7 934.9h0M236.4 916.3h0M236.7 860.2h0M237.3 910.8h0M237.2 914h0M237.7 936.6h0M238.4 968h0M238.5 909.9h0M238.4 966.9h0M239.5 919.1h0M239.1 953.5h0M239.1 868.6h0M240.9 966.4h0M240.2 980.3h0M240.6 974.9h0M241.8 874h0M241.2 904.9h0M242 879.9h0M242.6 925.9h0M242.3 946.5h0M242.9 918.6h0M243.1 992.8h0M243.7 989.2h0M244.6 942.9h0M245 920.9h0M245.9 991.2h0M245.8 977.5h0M247 920.5h0M246.7 978.1h0M247.3 945.3h0M247.5 914.1h0M248.9 963.6h0M248.5 948.5h0M249.7 945.1h0M249.1 879.7h0M249.6 911.1h0M250.8 953.6h0M251 864.4h0M250.9 886.5h0M251.9 896.9h0M251.3 886.9h0M251.4 895.3h0M252.3 975.7h0M253 874.7h0M252.8 957.5h0M253.1 946.2h0M253.6 935.1h0M253.2 870.1h0M254.3 962.5h0M255 875.5h0M254.5 961.8h0M254.5 922.4h0M255.6 903.3h0M255.2 875.4h0M255.9 931.2h0M256.2 908.5h0M256.2 919.2h0M256.4 964.7h0M257.7 909.7h0M258 940h0M257.7 911.7h0M258.9 976h0M258.6 962h0M258.1 964.2h0M259.8 910.2h0M259.5 911.9h0M259.6 949.5h0M260.4 878h0M260.7 892.8h0M260.8 931.2h0M261.5 877.6h0M261.7 946.4h0M261.3 885h0M262.1 972.6h0M262.7 980.1h0M263.9 980h0M264 955.8h0M264.3 836.4h0M264.6 901.9h0M264.3 846.9h0M265.6 881.6h0M265.4 910.2h0M266 916.5h0M265.2 894h0M266.1 862.9h0M266.5 913.4h0M266.3 828.3h0M266.9 812.6h0M266.6 787.8h0M267.1 832h0M267.3 831h0M267.9 964.4h0M267.7 800.1h0M268.7 939.5h0M268.3 836.3h0M268.3 919.8h0M268.9 937h0M268.6 790.5h0M269.6 841.5h0M269.7 847.3h0M269.6 818.9h0M269.2 964.7h0M270.7 801.6h0M270.5 912h0M270.5 960.9h0M271.5 834.7h0M271.9 857.9h0M271.5 812.9h0M271.9 941h0M272.9 862.6h0M272.4 797.3h0M272.3 937h0M272.3 932h0M273.4 800.7h0M273.3 836.8h0M274 946.6h0M273.6 960.4h0M274.9 847.5h0M274.4 942h0M274.5 900.6h0M274.8 872.8h0M275.1 905.9h0M275.6 911.9h0M275.9 948.3h0M276.7 910.9h0M276.1 904.7h0M276.7 890.1h0M278 901.6h0M277.5 936.4h0M278.8 925.4h0M278.7 966.5h0M279.5 895h0M279.3 900.2h0M279.6 876.4h0M280.7 942.6h0M280.9 890.3h0M280.6 951.5h0M281.5 882.9h0M281.1 836.8h0M281.2 841.8h0M281.7 948.7h0M282.7 955.5h0M282.4 942.5h0M282.8 907h0M282.7 826h0M283.4 875.9h0M283.3 840.2h0M283.4 847.9h0M283.2 927.5h0M283.6 833.5h0M284.6 958.3h0M284.3 917.4h0M284.3 812.2h0M284.5 902.8h0M286 764.6h0M286 914.7h0M285.2 949.3h0M285.7 876.2h0M286.5 898.4h0M286.8 902.5h0M286.1 824.7h0M286.7 886.9h0M286.7 814h0M287.9 899h0M287.6 852.4h0M287.8 856.6h0M287.5 829.8h0M289 939.4h0M288.3 929.6h0M288.5 951.8h0M288.9 895.3h0M288.4 935.9h0M289.2 891.4h0M289.4 808.5h0M289.2 939.4h0M289.8 929.1h0M289.1 942.8h0M290.8 817.7h0M290.4 865h0M290.8 951.2h0M290.6 923.2h0M290.3 749.4h0M291.1 867.5h0M291.3 794.5h0M291.5 903.1h0M291.8 850.6h0M291.4 942h0M292.8 922.9h0M292.7 755.7h0M292.2 864.3h0M292.8 876.7h0M292.5 909.8h0M293.3 845.4h0M293.9 767.2h0M293.1 911.4h0M293.9 952.5h0M293.2 888.5h0M294.4 842.7h0M294.2 836.1h0M294.2 918.7h0M294.6 948.8h0M294.1 747.8h0M295.1 937h0M295.1 904.3h0M295.5 874.4h0M295.9 936h0M295.8 854.5h0M296.8 830.3h0M297 934.4h0M296.1 884.5h0M296.4 772.3h0M297.7 838.1h0M297.8 905.3h0M297.2 874.1h0M297.4 858.8h0M297.2 867.5h0M298.1 843.1h0M298.5 896.6h0M298.2 791.8h0M298.9 876.4h0M299 898.2h0M299.3 919.2h0M299.8 953.2h0M299.9 848.3h0M299.2 886.6h0M300.9 806.3h0M300.8 858.8h0M300.2 958.6h0M300.5 960h0M301.6 820h0M302 840.3h0M301.8 832.8h0M301.6 860.8h0M301.8 832h0M302.6 949.8h0M302.3 801.3h0M302.5 808.2h0M302.2 845h0M303.4 891.3h0M303.8 895.3h0M303.4 818.6h0M303.4 860.9h0M304.7 915.5h0M304.5 896.8h0M304.5 844.5h0M304.6 861.1h0M305.8 910.3h0M305.8 934.3h0M305.2 929.9h0M305.6 891.4h0M306.6 915.5h0M306.2 936.9h0M306.7 835h0M306.5 934.1h0M308 881.5h0M307.5 867.7h0M307.6 959.3h0M307.7 887.8h0M309 961.8h0M308.9 898h0M309 885.1h0M308.8 885.6h0M309.3 1008.5h0M311.5 996.3h0M311.6 989.6h0M312.6 1024.2h0M314.6 1025.9h0M316.6 1028.2h0M317.6 1007h0M317.6 1027.5h0M319.6 1025.8h0M320.6 1025.4h0M322.9 1015.3h0M322.6 1015.6h0M322.6 1026.3h0M323.6 1025.3h0M324.6 1017.4h0M325.6 1017.5h0M327 1027.2h0M327.4 1016.3h0M327.6 1018.4h0M327.6 1026.8h0M328.6 1018.4h0M329.8 1027.5h0M331.2 1027.3h0M331.6 1016.3h0M332.6 1026.9h0M333.6 1024.9h0M334.6 1015.5h0M335.6 1014.8h0M335.6 1026.5h0M337.6 1016.3h0M338.6 1017.3h0M339.7 1014.8h0M339.6 1017.4h0M339.6 1028h0M340.6 1028.1h0M341.6 1017h0M341.6 1026.6h0M342.6 1017.8h0M342.6 1026.1h0M343.3 1016.2h0M344.6 1017.6h0M344.6 1027.8h0M345.6 1018.9h0M345.6 1027h0M347 1016.8h0M346.6 1027.2h0M347.1 1018.6h0M347.6 1027.5h0M348.6 1028.3h0M349.6 1020h0M349.6 1025.7h0M350.9 1021.8h0M350.6 1026h0M351.9 1021.5h0M351.6 1025.7h0M352.6 1021h0M352.6 1021.8h0M353.6 1024.1h0M354.6 1028.8h0M355.6 1020.1h0M355.6 1025.9h0M356.6 1026.2h0M359.6 1020.6h0M360.6 1021.7h0M362.6 1020.8h0M364.6 1020.6h0M367.6 1029.4h0M368.3 1029.8h0M368.6 1022h0M368.6 1029.1h0M369.6 1028.6h0M370.6 1029.4h0M371.6 1028.5h0M372.6 1020.4h0M372.6 1028.8h0M373.6 1023.4h0M374.6 1023.8h0M374.6 1027.6h0M377.6 1024.9h0M378.6 1029.3h0M379.6 1027h0M379.6 1029.1h0M380.6 1029.9h0M381.3 1025.6h0M383.1 1025.9h0M384.6 1027.4h0M384.6 1028.5h0M386.6 1026.7h0M389.6 1027.6h0M389.6 1030.3h0M390.6 1025.5h0M390.6 1030.2h0M391.2 1029.9h0M391.6 1028.2h0M392.6 1026.5h0M392.6 1027.3h0M393.6 1026.2h0M395.1 1025.2h0M395.6 1027.8h0M395.6 1029.9h0M396.6 1025.9h0M398.6 1028.6h0M398.6 1029.6h0M399.6 1027h0M399.6 1028.9h0M400.6 1029.2h0M402.6 1027.4h0M404 1026.6h0M403.5 1029.5h0M403.6 1028.1h0M403.6 1029.3h0M404.6 1027.8h0M405.6 1030.1h0M406.6 1030.2h0M408.2 1030h0M410.6 1026.4h0M410.6 1026.6h0M410.6 1029.5h0M412.6 1027.9h0M413.6 1028.8h0M414.6 1027.5h0M414.6 1028.8h0M415.8 1026.5h0M415.6 1028.3h0M415.6 1027.4h0M416.6 1027.6h0M417.4 1030.3h0M417.6 1029.6h0M419.5 1026.1h0M420.9 1026h0M420.6 1028.6h0M421.3 1025.7h0M421.6 1026.8h0M421.6 1029.5h0M422.6 1025.8h0M422.6 1030.6h0M424.6 1026.1h0M425.6 1029.3h0M426.6 1026.8h0M427.1 1025.7h0M428.5 1025.5h0M428.6 1026.2h0M430.6 1028.7h0M431.6 1027.1h0M432.6 1030.3h0M433.4 1026.2h0M433.6 1027.9h0M433.6 1027.8h0M434.6 1027h0M434.6 1027.7h0M435.6 1026.4h0M436.6 1029.1h0M437.6 1026.4h0M437.6 1028.7h0M439.3 1030.3h0M439.6 1029.4h0M440.1 1031h0M440.6 1029h0M444.5 1025.6h0M444.6 1025.8h0M445.2 1030.9h0M445.6 1028.5h0M448.6 1026.5h0M449.6 1027.9h0M450.6 1025.8h0M450.6 1027.4h0M450.6 1030.3h0M451.5 1030.9h0M453.6 1029.6h0M453.6 1028.9h0M454.6 1026.5h0M454.6 1030.6h0M455.6 1027.6h0M455.6 1029.9h0M456.6 1026.5h0M456.6 1029.3h0M458 1026.6h0M458.6 1027.9h0M458.6 1030.3h0M459.6 1026.9h0M459.6 1027.3h0M460.6 1028h0M461.6 1027.3h0M461.6 1029.6h0M462.6 1028.9h0M463.9 1026.3h0M463.6 1028.7h0M466.6 1028.8h0M467.6 1028.8h0M468.9 1026.4h0M469.6 1028.2h0M471 1026.9h0M471.6 1026.7h0M471.6 1027.7h0M472.3 1027.1h0M472.6 1028.4h0M473.6 1028.2h0M474.6 1029.9h0M475.6 1027.4h0M476.8 1026.5h0M477.6 1029.1h0M478.6 1028h0M479.6 1029.3h0M480.2 1030.7h0M480.6 1027.3h0M483.6 1028.2h0M483.6 1030.4h0M485.7 1027.1h0M485.6 1026.9h0M486.6 1028.2h0M489 1027.6h0M490.6 1027.5h0M490.6 1028.4h0M492.6 1028.9h0M492.6 1029h0M494.6 1028.2h0M494.6 1028h0M495.4 1030.9h0M495.6 1028.7h0M495.6 1030.1h0M496.6 1029h0M497.6 1028.4h0M499.7 1030.3h0M499.6 1029.1h0M500.6 1027.1h0M500.6 1029.1h0M501.6 1028.2h0M503.6 1028.8h0M504.6 1029.3h0M506.6 1028.7h0M507.6 1028.9h0M508.6 1027.3h0M510.9 1030h0M511.5 1026.6h0M511.6 1029.6h0M512.6 1027.2h0M513.1 1026.4h0M513.6 1029.3h0M514.6 1027.9h0M514.6 1028.4h0M515.8 1030.9h0M516.6 1028.7h0M518.6 1028.2h0M520 1030.8h0M519.6 1028.9h0M520.6 1029.2h0M520.6 1028.7h0M521.5 1030.9h0M523.6 1029.6h0M525.6 1029.4h0M526.6 1027.3h0M526.6 1026.8h0M527.6 1027.9h0M529 1030h0M528.6 1028h0M529.1 1027.2h0M529.6 1028.1h0M530.6 1026.8h0M530.6 1030.1h0M531.5 1030.9h0M531.6 1029h0M531.6 1028.2h0M532.6 1028.5h0M533.8 1027.2h0M533.6 1027h0M534.6 1029.4h0M534.6 1029.9h0M535.4 1030.3h0M535.6 1030h0M536.6 1026.7h0M536.6 1030.2h0M537.6 1029.6h0M537.6 1029.1h0M539.9 1026.4h0M540 1030.4h0M539.6 1027.3h0M540.6 1030h0M540.6 1027.8h0M541.8 1030.7h0M542.6 1027.5h0M542.6 1030.2h0M543.6 1027.3h0M544.2 1026.7h0M546.6 1027.8h0M547.7 1030.2h0M549.9 1025.9h0M549.4 1030.5h0M549.6 1029.2h0M549.6 1030.1h0M551.3 1026.3h0M551.6 1029h0M551.6 1029.5h0M552.4 1026.2h0M552.4 1030.3h0M552.6 1030.6h0M553.6 1028.5h0M554.6 1028.5h0M555.6 1028.4h0M556.6 1026.4h0M557.6 1027.6h0M558.6 1028.5h0M560.6 1027.4h0M561.2 1026.3h0M562.4 1030.9h0M562.6 1029h0M563.6 1028.9h0M565.6 1030h0M566.9 1030.9h0M567.6 1028.3h0M568.6 1026.3h0M569.6 1028.7h0M570.6 1029.2h0M571.8 1026.9h0M572 1029.9h0M571.6 1030.8h0M572.6 1026.5h0M572.6 1028.1h0M573.6 1028.8h0M574.5 1027h0M574.6 1027.7h0M574.6 1029.3h0M575.6 1028.6h0M575.6 1030.3h0M576.6 1029.5h0M576.6 1027.6h0M577.5 1030.1h0M577.6 1028.5h0M578.6 1028.7h0M579.6 1028.5h0M581.6 1027.1h0M582.6 1026.6h0M583.6 1028.7h0M584.5 1030.5h0M584.6 1028.6h0M585.6 1029.5h0M585.6 1029.7h0M587.6 1028.9h0M589.6 1027.9h0M590.6 1029.3h0M591.2 1030.6h0M594.6 1029.1h0M594.6 1030.2h0M595.6 1028.2h0M595.6 1028.9h0M596.6 1027.6h0M596.6 1027.6h0M597.6 1028.2h0M597.6 1028.7h0M598.6 1028.8h0M599.9 1027h0M599.6 1030.2h0M601.1 1031h0M601.6 1029.6h0M602.7 1026.9h0M603.6 1028h0M604.6 1028.6h0M605.6 1028.5h0M605.6 1028.6h0M606.5 1026.7h0M606.6 1028.9h0M608.6 1029.2h0M609.2 1030.8h0M609.6 1027.5h0M609.6 1028.4h0M610.6 1027.5h0M612 1026.9h0M611.6 1028.4h0M612.5 1030.6h0M612.6 1029.1h0M612.6 1028.5h0M613.4 1030.6h0M613.6 1028.5h0M615.6 1028.6h0M616.5 1027h0M616.6 1027.9h0M618.4 1026.8h0M618.6 1027.7h0M619.6 1027.6h0M619.6 1029.6h0M622 1026.6h0M623 1030.8h0M622.6 1027.9h0M622.6 1030.7h0M623.6 1030.1h0M623.6 1027h0M623.6 1030.2h0M624.6 1026.4h0M625.6 1028.6h0M626.6 1028.7h0M626.6 1027.8h0M627.6 1028.7h0M627.6 1028.7h0M631.3 1030.3h0M631.6 1028.4h0M632.2 1026.1h0M632.6 1028.3h0M634.6 1030.6h0M635.6 1029.3h0M636.6 1028.9h0M636.6 1029.6h0M637.6 1026.7h0M637.6 1030.1h0M638.6 1029.6h0M639.6 1030.5h0M642 1026.7h0M641.6 1028.2h0M642.6 1028.1h0M644 1026.7h0M643.6 1027h0M643.6 1028.6h0M644.6 1029.9h0M645.6 1027h0M645.6 1030h0M646.6 1027.2h0M647.6 1026.6h0M647.6 1029.1h0M648.6 1029.3h0M650.6 1026.5h0M651.6 1029.3h0M652.6 1027.4h0M653.6 1029.5h0M653.6 1028.6h0M655 1027h0M654.6 1027.1h0M654.6 1029.3h0M655.4 1030.8h0M655.6 1029.1h0M656.6 1028.7h0M661.1 1030.5h0M662.6 1028h0M663.6 1027.1h0M664.6 1026.4h0M666.4 1026.4h0M666.6 1029.7h0M667.6 1026.9h0M667.6 1028.8h0M668.6 1027.9h0M669.3 1026.9h0M669.6 1028.9h0M670.8 1026.3h0M670.6 1027.6h0M671.6 1027.9h0M671.6 1028.5h0M672.6 1028.6h0M673.8 1030h0M673.6 1026.4h0M674.4 1026.5h0M674.6 1028.2h0M675.4 1030.3h0M675.6 1030.2h0M676.6 1028.4h0M676.6 1027.6h0M677.6 1026.2h0M678.6 1029.1h0M679.5 1030.2h0M680.1 1026.8h0M681.6 1029.4h0M681.6 1027.7h0M682.5 1027.1h0M682.6 1028.9h0M683.2 1026.7h0M683.6 1027.5h0M683.6 1028.3h0M684.6 1027.4h0M685.6 1030h0M686.6 1030h0M687.6 1026.8h0M687.6 1029.7h0M689.6 1026.6h0M690.6 1026.7h0M692 1030.3h0M691.6 1027.9h0M693.6 1027.2h0M693.6 1027.6h0M694.3 1027h0M695.6 1027.6h0M695.6 1027.9h0M696.6 1029.2h0M697.6 1027.7h0M698.6 1029.8h0M699.6 1027.6h0M699.6 1030.4h0M701.6 1027.8h0M702.6 1029.4h0M702.6 1029.4h0M703.6 1027.5h0M703.6 1028.7h0M706.9 1026.6h0M706.6 1026.7h0M707.6 1030.1h0M709.6 1029.7h0M710.1 1030.9h0M710.6 1028h0M711.6 1028h0M712.7 1026.3h0M713.6 1028.5h0M714.7 1026.2h0M714.6 1027.8h0M715.6 1030.2h0M716.6 1030.3h0M718.6 1029.1h0M719.6 1026.5h0M720.6 1029.7h0M721.6 1026.8h0M723.6 1026.7h0M723.6 1028.5h0M724.6 1028.2h0M725.6 1027.3h0M725.6 1030.7h0M726.1 1026.9h0M726.6 1027.4h0M727.6 1029.7h0M728.2 1026.9h0M728.6 1027.9h0M729.7 1026.2h0M730.6 1028.6h0M730.6 1027.4h0M731.6 1028.7h0M732.6 1027.6h0M733.9 1026.8h0M733.6 1027h0M733.6 1028.1h0M734.6 1029.1h0M734.6 1028.5h0M735.6 1030.7h0M736.6 1030.2h0M736.6 1026.6h0M738.6 1027.8h0M739.6 1027h0M739.6 1027.8h0M740.6 1027.3h0M741.6 1026.2h0M741.6 1026.7h0M743.3 1026.4h0M743.6 1026.3h0M744.6 1026.5h0M744.6 1028.1h0M746.6 1029.2h0M746.6 1028.6h0M747.6 1027.7h0M747.6 1029.1h0M748.6 1026.6h0M748.6 1028.5h0M749.3 1027.3h0M749.6 1028.8h0M751.2 1030.9h0M751.6 1027.9h0M752.6 1026.5h0M754.1 1030.2h0M754.6 1029.7h0M755.6 1029h0M756.1 1026.7h0M757 1030.7h0M756.6 1027.6h0M757.4 1030.1h0M758.6 1029.2h0M758.6 1030.2h0M759.8 1026.5h0M759.6 1028.2h0M761.7 1025.5h0M761.6 1028h0M761.6 1026.4h0M762.6 1025.5h0M762.6 1029.4h0M763.7 1029.4h0M764.6 1027h0M767 1016.8h0M767.7 996.2h0M767.6 982.4h0M768.3 908.2h0M768.4 862.6h0M768.2 841.4h0M768.8 984.7h0M769.5 876.1h0M769.8 976.1h0M769.7 979.9h0M769.7 931.6h0M770.1 914.5h0M770.3 979h0M770.1 886.7h0M770.2 969.5h0M771 878.8h0M771.6 863.2h0M771.7 795.4h0M772 974.2h0M771.9 923.4h0M771.5 779.9h0M772.7 975h0M772.9 828.5h0M772.6 978.2h0M773 912.9h0M773.6 911.7h0M773.2 947.6h0M774 847.7h0M773.6 932.8h0M773.3 921.1h0M774.7 852.6h0M774.1 779.4h0M774.9 894.6h0M774.1 918.3h0M774.6 921.9h0M775.3 951.6h0M775.5 959.1h0M775.5 812h0M776 941.3h0M775.2 906.1h0M776.1 864.7h0M776.8 887.7h0M776.4 945.9h0M776.8 847.8h0M776.5 835.7h0M777.8 927.4h0M777.4 825.4h0M777.8 937.6h0M778 837.1h0M778.9 895.9h0M778.3 849.4h0M778.6 936.8h0M778.1 962.6h0M779.4 906.4h0M780 916.3h0M779.4 978.9h0M779.7 986.1h0M780.8 886.7h0M780.7 835.9h0M780.5 968.2h0M780.8 905.3h0M781 841.2h0M781.5 874h0M781.4 861.7h0M781.3 815.3h0M781.4 901.6h0M782.5 949.3h0M782.7 889.9h0M782.8 880.3h0M782.5 971.4h0M783.3 968.1h0M783.7 947.4h0M783.9 920.7h0M783.9 900.1h0M784 865.9h0M784.7 816.4h0M784.9 915.6h0M784.3 954.8h0M784.9 883.8h0M784.1 921.3h0M785.1 878.9h0M786 935.4h0M785.7 942.2h0M785.7 964.4h0M786.7 947.5h0M786.2 955.6h0M787 815.8h0M786.9 956.9h0M787 976h0M787.6 849.2h0M787.8 910.8h0M787.9 788.1h0M787.9 956.4h0M787.8 788.1h0M789 917.1h0M788.8 836.9h0M788.4 910.3h0M788.4 823.5h0M789.5 857.9h0M789.2 974.6h0M789.9 911.1h0M790 973.7h0M790 980.7h0M790.5 901.6h0M790.5 943.6h0M790.6 901.8h0M790.2 924.8h0M790.1 878.6h0M791.1 895.5h0M791.8 791.8h0M791.6 905.1h0M791.1 934.1h0M791.6 804.8h0M792.6 963.2h0M792.6 977.3h0M792.4 912.6h0M792.5 802.5h0M793.2 797.8h0M794 965.7h0M793.8 855.2h0M794 784.3h0M794.4 916.4h0M794.5 923.9h0M794.6 949.5h0M795.3 955.1h0M795.5 926.8h0M795.3 946h0M796.8 969.5h0M796.5 994.6h0M797.9 918.8h0M797.1 969.5h0M798.1 968.4h0M798.7 994.2h0M800 967.4h0M799.1 976.9h0M800.9 945.4h0M800.3 965.9h0M801.9 985.9h0M801.9 961.3h0M801.6 916h0M802.8 939.2h0M802.5 979.7h0M804 988.3h0M804.6 1008.1h0M805 993.1h0M805.9 931.5h0M805.5 965.6h0M807 993.5h0M806.6 1002h0M807.4 1004.4h0M808.9 1004.6h0M808.4 998.9h0M809.1 971.4h0M809.2 956.6h0M810.5 1004.5h0M811.8 1008.1h0M811.2 1008.6h0M812.7 1006.5h0M812.2 1003.7h0M814 975.2h0M813.5 996.3h0M814.9 989.1h0M814.3 993h0M815.1 941.4h0M816.6 996.7h0M816.7 984.5h0M816.5 936.3h0M816.6 890h0M817.2 942.4h0M817.6 916.2h0M817.6 923.9h0M818.1 940.9h0M818.9 966.8h0M818.8 944.2h0M819.5 867.4h0M819.9 989.1h0M819.8 853.7h0M821 862h0M820.7 944.8h0M820.3 974.5h0M821.1 980.8h0M821.1 862.8h0M821.1 954.2h0M821.8 946.3h0M822.3 917.6h0M822.5 936.4h0M822.1 988.3h0M823.4 860h0M823.1 951.1h0M823.7 927.9h0M824.3 838.6h0M824.7 851.3h0M824.5 941.2h0M825.5 919.5h0M825.1 904.2h0M825.6 980.1h0M825.2 896.7h0M826.7 836.4h0M826.8 864.1h0M827 869.3h0M826.1 974.3h0M827.2 960.6h0M827.2 848.8h0M827.1 908h0M828 991h0M828.5 975.6h0M828.6 937.5h0M828.3 916.6h0M828.6 831.9h0M829.2 884h0M829.8 884.5h0M829.6 960.2h0M830.2 991.7h0M830.6 932.5h0M830.8 924h0M831.9 930.9h0M832 986.5h0M831.1 932.2h0M831.5 960.6h0M832.3 900.5h0M832.5 932.1h0M832.1 984.5h0M832.2 989.3h0M833.6 895.8h0M833.9 904.2h0M833.1 850.9h0M834.9 886.4h0M834.9 885.9h0M834.8 900.8h0M835.3 955.7h0M835.6 989.5h0M835.8 979.2h0M837 932h0M836.9 994.9h0M836.7 951.8h0M837.4 940.1h0M837.1 990.9h0M837.5 970h0M838.1 939h0M838.8 983.1h0M839.5 969.6h0M839.2 975.7h0M840.6 988.2h0M840.1 987h0M841.2 918.4h0M841.6 998.6h0M842.8 995.5h0M842.8 896.2h0M843.3 974.8h0M843.6 940.1h0M843.7 958.2h0M843.6 875.8h0M844.7 886.8h0M844.2 952.7h0M845 929.8h0M845.1 962.7h0M845.3 967.4h0M847 979.5h0M846.9 980.2h0M847.6 967h0M847.6 948.7h0M848.8 949.9h0M848.2 1023h0M848.6 947.3h0M851 992.8h0M851.3 982.7h0M854.7 986.1h0M855.6 971h0M856.8 986.3h0M858 978.9h0M859 979.5h0M861.5 981.1h0M862.7 973.5h0M865.1 999.2h0M868.4 996h0M872.4 999.2h0M873.4 997.1h0M874.7 992.8h0M877.5 1000.1h0M878.9 1008.5h0M879.4 1005.6h0M881.4 1008.8h0M884.4 1008.9h0M891.6 1008.3h0M893.9 1009.7h0M894.5 1006.2h0M899.6 1025.1h0M901.6 1006.5h0M903 1005.1h0M903.6 1005.8h0M903.6 1026.4h0M905.7 1007.8h0M907 1012.9h0M908 1014h0M911.3 1014.7h0M915 1008h0M916.8 1008.2h0M918.9 998.8h0M920.2 1004.1h0M921.7 983.4h0M922.4 991.5h0M926.9 1000.7h0M927.5 990.6h0M928.7 990.7h0M930.4 1004.2h0M932.1 996.8h0M933.7 975.3h0M934.9 982.5h0M935.7 1000.4h0M936.7 1001.8h0M938.2 987.8h0M939.8 1005.7h0M940.2 1004.4h0M941.2 1005.5h0M943.2 988h0M945.1 999h0M947.4 1002.2h0M948.4 1008.4h0M952 1010.4h0M952.1 998.3h0M953.1 1006.5h0M958.9 1004.5h0M959.6 1002.3h0M962 1003.8h0M963.4 997.5h0M964.5 982.7h0M965.8 990.6h0M966.3 998.5h0M968.4 999.5h0M971 1008.6h0M973 1008.8h0M976.5 1009.3h0M977.1 999.1h0M979.2 1004.5h0M983.2 1002.9h0M984.6 975h0M986.1 998.7h0M988 998.2h0M989 990.2h0M990 1000.2h0M990.4 981h0M996.6 998.8h0M999 999.6h0M1003.8 1009.4h0M1004.9 1009.2h0M1010 1011h0M1011.4 1003.1h0M1012.3 1007.1h0M1015.8 993.1h0M1016.7 986.9h0M1019.5 1012h0M1022.5 1001.1h0M1023.3 1006.4h0M1024.8 996.6h0M1027.7 1007.7h0M1028.4 1013.3h0M1034.3 1014.4h0M1035.6 1014.2h0M1037.6 1004h0M1038.5 1015.3h0M1040 1008.2h0M1041.9 1013.3h0M1044.1 1008.6h0M1049.3 1009.7h0M1053.3 1013.1h0M1054.3 1011.1h0M1055.5 1006.3h0M1058.5 1007.1h0M1061.8 1006.5h0M1062.5 1005.1h0M1065.1 1006h0M1066.4 1003.9h0M1069.7 992.2h0M1073.8 1001.5h0M1074.4 1013.5h0M1075.6 1027.4h0M1076.3 1029.2h0M1076.6 1012h0M1077.6 1029.3h0M1077.6 1010.6h0M1077.6 1029.1h0M1078.3 1009h0M1078.6 1026.1h0M1079.6 1007.9h0M1079.6 1026.7h0M1080.7 1029.7h0M1080.6 1027.9h0M1081.4 1011h0M1084.7 1011.4h0M1086 1003.4h0M1087.6 1028.6h0M1088.9 1029.2h0M1088.6 1010.4h0M1088.6 1026.3h0M1089.7 1008.8h0M1091.9 1006.4h0M1092.2 1000.7h0M1093.2 1004.2h0M1095.7 1008.5h0M1096.4 1014.7h0M1098.1 1015h0M1104.1 1008.1h0M1105.5 1006.6h0M1106.1 1010.1h0M1108.7 1006.5h0M1108.6 1010h0M1108.6 1026.9h0M1109.3 1007.7h0M1110.9 1008.3h0M1111.1 1010.9h0M1113.3 1009.1h0M1116.7 1011.7h0M1119.6 1026.5h0M1120.8 1029.8h0M1120.6 1009.4h0M1121.6 1009.3h0M1122.9 1009h0M1122.6 1011.4h0M1122.6 1029h0M1123.3 1029.4h0M1123.6 1010.5h0M1125.8 1009.2h0M1125.6 1028h0M1126.6 1009.5h0M1127.6 1010.5h0M1127.6 1026.4h0M1129 1006.5h0M1128.6 1007.4h0M1128.6 1027.7h0M1129.5 1006.6h0M1133.5 1011.4h0M1135.4 1006.9h0M1137.6 999.1h0M1138.4 993.8h0M1139.3 1000.5h0M1141.3 1004.2h0M1144.7 1004.5h0M1146.4 1007.4h0M1148.2 988.7h0M1149.4 1002.5h0M1152.2 980.2h0M1153.4 1005.7h0M1155.8 1012.7h0M1157.1 1005.7h0M1159.4 1000.5h0M1160.6 1013.8h0M1163.7 1005h0M1164.4 993.9h0M1166.3 1001.3h0M1167.4 1009.2h0M1169.5 989.1h0M1170.3 1009.1h0M1171.4 996.3h0M1178.8 1005.7h0M1179.9 1005.2h0M1181 1008.5h0M1183.3 991h0M1185.8 972.3h0M1186.2 974.4h0M1187.4 975.2h0M1189.3 972.2h0M1191.3 994h0M1192.2 999.8h0M1193.5 992.6h0M1194.2 1004.7h0M1195.9 986.2h0M1196.2 977.7h0M1197.1 993.7h0M1198.2 989.5h0M1199.6 993.4h0M1200.1 967h0M1203 991h0M1203.9 974.8h0M1205 983.4h0M1206.2 973.4h0M1207.1 983.3h0M1208.5 977.5h0M1210.2 993.3h0M1211.5 997.8h0M1212.6 994.8h0M1215.1 992.9h0M1216.9 992.9h0M1217.1 980.5h0M1218.7 968h0M1221.9 992.8h0M1222.5 1001.5h0M1224.2 1000.9h0M1230.6 1028.9h0M1232.7 1004.5h0M1233.9 1027.2h0M1233.6 1028.3h0M1234.4 1011.5h0M1236.5 1002.1h0M1237.5 1008.7h0M1238.9 987.6h0M1239.9 1004.1h0M1243.6 1007.5h0M1243.6 1026.6h0M1245.5 1006.7h0M1245.6 1009.3h0M1245.6 1026.8h0M1246.6 1009.4h0M1247.6 1007.9h0M1247.6 1027.1h0M1250.7 1028.7h0M1251.4 1006h0M1253.7 1016h0M1257.6 1012h0M1263.3 999.6h0M1266.7 994.4h0M1269.1 1013.4h0M1272.9 1003.9h0M1273.3 1007.7h0M1274.2 991.9h0M1276.6 963.3h0M1277.3 985.7h0M1278.9 980.1h0M1279.8 966.7h0M1280.9 986.1h0M1282.4 1010.3h0M1284 1007.5h0M1284.6 1013.8h0M1285.6 1028.7h0M1287.6 1009h0M1290.8 1010.6h0M1291.4 1007.3h0M1292.5 993.7h0M1294.5 992.6h0M1295.4 1007.5h0M1297.4 1009.3h0M1300.6 991.5h0M1301.5 997.7h0M1302.3 988.5h0M1303.3 985.7h0M1305.9 990.5h0M1306.2 1002h0M1307.9 995h0M1308.8 1002.3h0M1309.7 995.2h0M1311 985.4h0M1311.7 984.5h0M1316.5 993.2h0M1321.1 1013.6h0M1325.9 1004.7h0M1333.6 1008.5h0M1334.6 1007.6h0M1334.6 1025.4h0M1336.6 1009.1h0M1336.6 1028.4h0M1337.6 1011.7h0M1338.2 1028h0M1339.3 1009.2h0M1340 1028.8h0M1339.6 1026.1h0M1341.6 1008.3h0M1342.6 1028.2h0M1344.8 1028.5h0M1344.6 1009.1h0M1344.6 1027.6h0M1345.9 1028.5h0M1345.6 1010.2h0M1345.6 1026.9h0M1346.6 1028.3h0M1347.6 1009.7h0M1347.6 1026.1h0M1348.6 1007.9h0M1349.9 1007.7h0M1350.4 1011.3h0M1352.7 1002.1h0M1354 1012.3h0M1358.4 1014.4h0M1361.6 1004.7h0M1362.2 1007h0M1363.1 1004.5h0M1365.4 1006.6h0M1369.2 1005.1h0M1370.9 1002.1h0M1372.7 1017.5h0M1374.7 1009.8h0M1377.9 1008h0M1378.7 1008.3h0M1380.8 1005.6h0M1382.4 991.6h0M1383.6 971.3h0M1384.9 986.7h0M1385.2 979h0M1386.1 953.5h0M1387.9 965.6h0M1388.6 952.9h0M1390 947.1h0M1390.2 983.3h0M1391.1 993.6h0M1393.4 1003.5h0M1397.6 1011.1h0M1398.4 1005.9h0M1400.1 1007.2h0M1406.1 988.4h0M1408.5 989h0M1409.4 994.2h0M1410.2 980.8h0M1412 959.6h0M1412.5 986.2h0M1413.3 954.5h0M1414.2 977.1h0M1415.2 980.3h0M1417 963.6h0M1417.5 983.9h0M1420.1 989.3h0M1423.3 970.2h0M1424.4 968.2h0M1424.3 961.5h0M1425.3 965h0M1425.8 955.3h0M1427 969.1h0M1426.9 965.8h0M1427.7 963.8h0M1428.7 928.3h0M1429.5 972.5h0M1430.4 955.1h0M1432 975h0M1432.8 953h0M1433.5 969.3h0M1434.4 972.3h0M1435.5 975.5h0M1436.8 963.8h0M1437.2 982h0M1438.4 982h0M1439.4 997.2h0M1441.4 983.8h0M1446.6 982h0M1447.2 988.9h0M1450.4 991.7h0M1451.6 958.1h0M1452.1 961.2h0M1453.3 982.3h0M1454.2 947.3h0M1456 972.4h0M1456.8 947.4h0M1457.2 978.1h0M1458.1 971.9h0M1459.4 975.4h0M1459.2 940.2h0M1460.4 977.1h0M1461.1 960.7h0" fill="none" stroke="#1f77b4" stroke-width="5.6" stroke-linecap="round"/>
<path d="M116.6 986.3L118.6 978.1L121.3 1012.9L123.3 988.4L124.7 990.4L126.8 974L129.5 998.6L131.5 1010.9L133.5 1002.7L135.6 1001.7L137.6 992.5L140.7 998.6L143.2 985.3L145.8 1003.7L148.9 969.9L151 986.3L153 971L155.5 963.8L157.5 981.2L159.1 972L161.2 978.1L163.2 960.7L165.3 978.1L168.4 988.4L170.4 987.3L172.4 1004.8L173.9 996.6L175.5 1004.8L177.6 963.8L179.2 941.3L180.6 939.2L182.7 905.4L184.7 943.3L186.2 963.8L187.4 957.7L189.4 996.6L191.9 922.9L194.4 967.9L196.4 943.3L199.1 982.2L201.1 969.9L203.8 1004.8L205.8 974L207.9 992.5L210.3 980.2L212.4 969.9L214.4 974L216.5 939.2L217.9 943.3L219.5 894.2L221.6 895.2L223 951.5L224.3 995.5L226.3 950.5L229.2 974L231.8 922.9L232.9 916.7L235.3 887L238 976.1L240 911.6L242.1 963.8L244.1 952.5L246.2 957.7L249.2 986.3L251.3 924.9L252.7 959.7L255.4 866.5L257.4 926.9L259.5 980.2L261.1 969.9L262.5 980.2L265.6 931L267.7 861.4L268.7 855.3L271.8 881.9L273.8 902.4L275.8 962.8L277.9 951.5L279.9 951.5L283 898.3L285.1 865.5L287.1 914.7L288.7 871.7L290.2 960.7L291.8 861.4L292.8 776L294.3 820.5L295.3 877.8L297.3 847.1L299.4 877.8L301.4 851.2L302.9 906.5L304.1 931L305.5 910.6L306.6 984.3L307.2 1021.1L309.6 1012.9L311.7 1015L312.2 1012.6L314.4 1021.1L316.1 1023.7L317.8 1017.7L320.4 1022L325.5 1024.5L328 1022L330.6 1024.2L334 1022.8L342.5 1024.2L345 1025L349.3 1025.4L357.7 1024.2L364.5 1025.4L367.9 1027.1L373 1024.5L379.8 1026.6L386.6 1029.3L390 1027.1L396.8 1027.1L401.9 1028.4L410.4 1027.1L418.9 1028.4L425.7 1027.1L434.2 1028.4L444.4 1027.1L452.9 1027.9L469.8 1027.6L480 1027.4L490.2 1029.1L500.4 1027.6L512.3 1027.9L520.8 1027.6L529.3 1028.4L537.8 1027.9L550 1027.4L552 1027.6L565 1028.3L580 1027.5L600 1028.2L615 1027.6L630 1028.4L650 1027.7L670 1028.3L690 1027.6L710 1028.2L730 1027.8L745 1028.3L757 1028L760.5 1026.9L765.6 1026.2L767.6 1031.4L769.1 984.3L770.1 881.9L771.3 813.3L772.8 861.4L774.2 922.9L775.8 969.9L777.3 939.2L778.9 931L781 881.9L782.4 922.9L783.6 983.3L785.5 860.4L787.5 957.7L789.5 909.5L791.6 943.3L793.6 974L796.3 991.4L797.7 1002.7L800 975.1L802.4 1006.8L805.5 974L808 1005.8L811.3 983.3L812.7 988.4L815.8 976.1L817.4 967.9L819.4 919.8L821.5 961.8L822.9 935.1L824.6 900.3L826.4 955.6L828 982.2L830.1 967.9L832.5 921.8L834.2 959.7L836.2 994.5L837.9 969.9L839.7 958.7L841.4 977.1L843.4 944.3L845.4 972L847.5 988.4L849.5 997.6L851.6 996.6L853.6 992.5L855.7 1003.7L857.7 994.5L859.8 999.6L861.8 1010.9L863.9 1004.8L866.9 1021.1L869.4 1010.9L872.1 1015L874.1 1012.9L876.8 1020.1L879.2 1014L882.3 1019.1L885.4 1017L888.4 1018.1L892.5 1021.5L896.6 1016L899.7 1019.1L902.8 1018.1L905.8 1019.1L908.3 1011.9L911 1020.1L914 1014L916.5 1012.9L919.2 1008.8L921.2 1012.9L923.3 1007.8L925.3 1015L927.3 1010.9L929.4 1004.8L931.4 1008.8L934.5 1004.8L936.6 1007.8L938.6 1015L941.7 1003.7L943.7 1008.8L945.8 1017L948.8 1011.9L951.9 1014L954 1011.9L957 1019.1L959.5 1002.7L961.5 1015L965.2 1006.8L967.7 1014L970.3 1015L973.4 1014L976.5 1018.1L979.6 1012.9L981.6 1016L984.1 1008.8L986.3 996.6L988.2 1008.8L990 1011.9L991 1015.9L993.6 1012.5L996.1 1017.6L998.3 1007.4L1000.4 1020.1L1002.9 1019.3L1005.5 1015.9L1008 1013.3L1010.6 1012.5L1013.1 1010.8L1014.8 1007.4L1016.5 1014.2L1019.9 1016.7L1022.5 1014.2L1025 1009.9L1027.6 1015.9L1030.1 1015.9L1032.6 1017.6L1036.9 1021.8L1039.4 1018.4L1042.8 1015L1046.2 1019.3L1048.8 1015.9L1051.3 1018.4L1053.4 1014.2L1055.6 1018.4L1057.8 1013.3L1059.8 1014.2L1062.4 1010.8L1064.9 1021.8L1067.5 1014.2L1070 1009.9L1072.6 1021L1075.1 1021L1077.7 1022.7L1080.2 1016.7L1082.8 1019.3L1085.3 1017.6L1087.8 1021L1090.4 1019.3L1093.5 1012.5L1096.3 1015L1098.9 1016.7L1102.3 1021L1105.2 1015L1107.4 1019.3L1109.9 1023.5L1113.3 1012.5L1115.9 1018.4L1118.4 1019.3L1121 1020.1L1123.5 1021.8L1126.1 1021L1128.6 1021L1132 1016.7L1133.7 1017.6L1136.2 1010.8L1137.9 1007.4L1140.5 1017.6L1142.2 1015L1143.9 1017.6L1145.6 1011.6L1147.3 1018.4L1149.8 1009.9L1152.4 1015.9L1154.9 1017.6L1156.6 1011.6L1159.2 1017.6L1161.7 1020.1L1164.3 1007.4L1166.8 1014.2L1169.4 1012.5L1172.3 1007.4L1175.3 1015.9L1176.7 1017.6L1179.6 1012.5L1182.1 1015.9L1184.7 1000.6L1186.4 1004L1188.1 1000.6L1190.6 1010.8L1193.1 1014.2L1195.7 1021L1198.2 1000.6L1199.9 998.9L1201.6 980.2L1204.2 1002.3L1205.9 1009.1L1207.6 1001.4L1210.1 1009.1L1212.7 1010.8L1214.4 1001.4L1216.1 1011.6L1217.8 998L1219.5 1005.7L1222 1014.2L1224.6 1011.6L1227.1 1019.3L1230 1017.6L1230.2 1016.9L1232.7 1017.8L1235.3 1020.3L1237.8 1004.2L1240 1017.8L1242.1 1016.1L1243.8 1020.3L1245.5 1018.6L1248 1023.7L1251.4 1016.1L1254 1021.2L1256.5 1012.7L1258.2 1016.1L1259.9 999.1L1261.6 1009.3L1263.8 997.4L1265.9 1017.8L1267.6 1021.2L1270.1 1014.4L1272.6 1014.4L1274.3 1009.3L1277.4 982.1L1279.4 1016.1L1281.1 1005.9L1282.8 1019.5L1285.4 1020.3L1287.9 1018.6L1289.6 1023.7L1292.2 1011L1293.9 1005L1296.1 1017.8L1297.8 1019.5L1299.8 1011L1301.5 1012.7L1304.1 999.9L1306.6 1007.6L1308.3 1021.2L1310.9 999.9L1313.4 1011L1316 1000.8L1318.5 1021.2L1320.2 1021.2L1321.9 1013.5L1324.4 1019.5L1327 1019.5L1328.7 1020.3L1330.7 1013.5L1332.9 1019.5L1335.5 1016.1L1338 1018.6L1340.6 1016.1L1343.1 1019.5L1345.3 1023.7L1348.2 1017.8L1350.8 1019.5L1352.5 1012.7L1354.2 1022.9L1356.7 1012.7L1360.1 1022L1362.3 1006.7L1364.4 1016.1L1366.9 1015.2L1368.6 1008.4L1371.2 1022.9L1372.9 1015.2L1375.4 1023.7L1377.9 1011L1380.5 1005.9L1382.7 1015.2L1384.7 1001.6L1387.3 989.7L1390.3 1020.3L1392.4 1003.3L1394.9 1016.1L1397.5 1014.4L1400 1010.1L1402.6 1016.1L1404.8 1020.3L1406.8 1010.1L1409.4 999.9L1411.6 1011L1414.5 967.7L1417 996.5L1418.7 980.4L1421.3 1005.9L1423.8 988.9L1426.4 962.6L1428.6 978.7L1430.6 991.4L1433.1 989.7L1435.4 983.8L1437.4 999.1L1440.8 1005.9L1444.2 1004.2L1446.7 987.2L1449.3 1009.3L1451.8 993.1L1453.5 988.9L1455.2 981.2L1456.9 995.7L1458.6 979.5L1460.3 999.1L1462.5 1004.2" fill="none" stroke="#ff7f0e" stroke-width="2.35" stroke-linejoin="round" stroke-linecap="butt"/></g>
<rect x="116.5" y="575.5" width="1346.0" height="479.0" fill="none" stroke="#000" stroke-width="1.1"/>
<line x1="116.50" y1="1054.5" x2="116.50" y2="1059.7" class="t"/>
<line x1="284.50" y1="1054.5" x2="284.50" y2="1059.7" class="t"/>
<line x1="452.50" y1="1054.5" x2="452.50" y2="1059.7" class="t"/>
<line x1="621.50" y1="1054.5" x2="621.50" y2="1059.7" class="t"/>
<line x1="789.50" y1="1054.5" x2="789.50" y2="1059.7" class="t"/>
<line x1="957.50" y1="1054.5" x2="957.50" y2="1059.7" class="t"/>
<line x1="1125.50" y1="1054.5" x2="1125.50" y2="1059.7" class="t"/>
<line x1="1294.50" y1="1054.5" x2="1294.50" y2="1059.7" class="t"/>
<line x1="111.3" y1="629.50" x2="116.5" y2="629.50" class="t"/>
<text x="105.0" y="637.40" text-anchor="end" font-size="22.22">0.4</text>
<line x1="111.3" y1="729.50" x2="116.5" y2="729.50" class="t"/>
<text x="105.0" y="737.40" text-anchor="end" font-size="22.22">0.3</text>
<line x1="111.3" y1="830.50" x2="116.5" y2="830.50" class="t"/>
<text x="105.0" y="838.40" text-anchor="end" font-size="22.22">0.2</text>
<line x1="111.3" y1="931.50" x2="116.5" y2="931.50" class="t"/>
<text x="105.0" y="939.40" text-anchor="end" font-size="22.22">0.1</text>
<line x1="111.3" y1="1032.50" x2="116.5" y2="1032.50" class="t"/>
<text x="105.0" y="1040.40" text-anchor="end" font-size="22.22">0.0</text>
<rect x="1047.6" y="584.9" width="406.2" height="80.1" rx="3.6" ry="3.6" fill="#fff" fill-opacity="0.8" stroke="#ccc" stroke-opacity="0.8" stroke-width="1.3"/>
<circle cx="1073.4" cy="599.8" r="2.95" fill="#1f77b4"/>
<line x1="1052.9" y1="638.7" x2="1092.1" y2="638.7" stroke="#ff7f0e" stroke-width="2.08"/>
<text x="1106.2" y="605.5" font-size="18.52">Raw Data</text>
<text x="1106.2" y="632.9" font-size="18.52">Butterworth Filtered Data</text>
<text x="1106.2" y="654.1" font-size="18.52">(N=6, Tc=3.3333 min, Type: low)</text>
<text transform="translate(113.50,1078.40) rotate(-30)" text-anchor="end" font-size="22.22">09-10 00</text>
<text transform="translate(281.50,1078.40) rotate(-30)" text-anchor="end" font-size="22.22">09-10 03</text>
<text transform="translate(449.50,1078.40) rotate(-30)" text-anchor="end" font-size="22.22">09-10 06</text>
<text transform="translate(618.50,1078.40) rotate(-30)" text-anchor="end" font-size="22.22">09-10 09</text>
<text transform="translate(786.50,1078.40) rotate(-30)" text-anchor="end" font-size="22.22">09-10 12</text>
<text transform="translate(954.50,1078.40) rotate(-30)" text-anchor="end" font-size="22.22">09-10 15</text>
<text transform="translate(1122.50,1078.40) rotate(-30)" text-anchor="end" font-size="22.22">09-10 18</text>
<text transform="translate(1291.50,1078.40) rotate(-30)" text-anchor="end" font-size="22.22">09-10 21</text>
<text x="115.4" y="30.0" font-size="26.67">(a)</text>
<text x="115.4" y="567.0" font-size="26.67">(b)</text>
<text x="784.3" y="30.0" text-anchor="middle" font-size="26.67">10.0 MHz N0000008</text>
<text x="789.3" y="1157.6" text-anchor="middle" font-size="22.22">UTC</text>
<text transform="translate(37.2,278.4) rotate(-90)" text-anchor="middle" font-size="22.22">Doppler Shift [Hz]</text>
<text transform="translate(56.6,815) rotate(-90)" text-anchor="middle" font-size="22.22">Peak Voltage [V]</text>
</svg>
</body></html>
